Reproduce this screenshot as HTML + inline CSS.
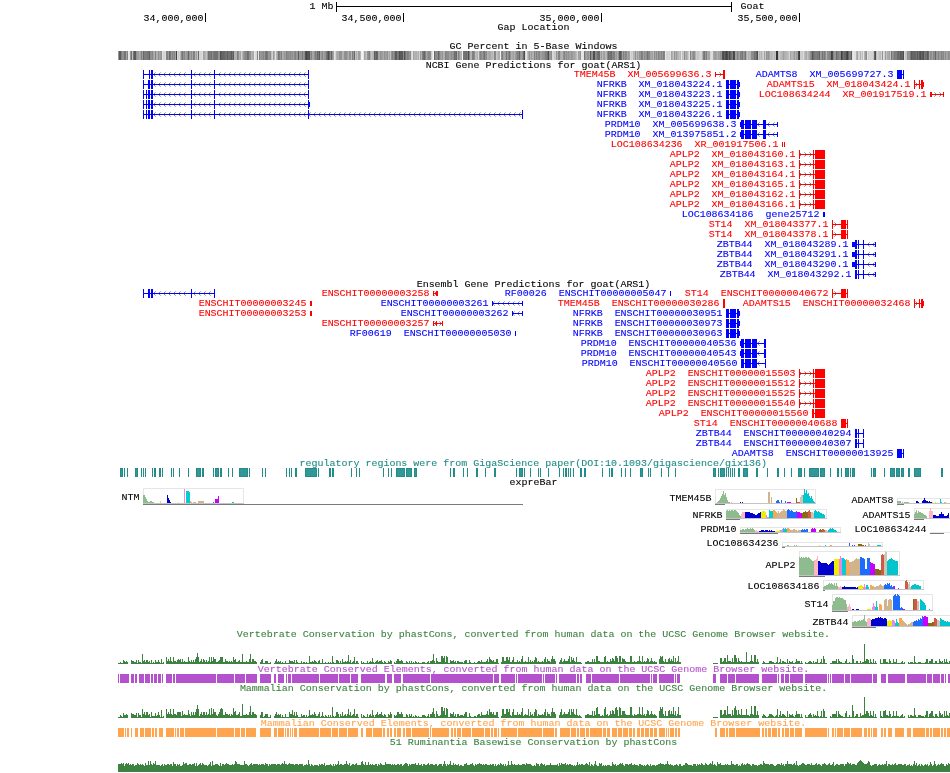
<!DOCTYPE html>
<html><head><meta charset="utf-8"><title>Goat genome browser</title>
<style>
html,body{margin:0;padding:0;background:#fff;}
svg{display:block}
text{font-family:"Liberation Mono",monospace;font-size:9.1px;stroke-width:0.1px;white-space:pre;}
rect{shape-rendering:crispEdges}
</style></head><body>
<svg width="950" height="773" viewBox="0 0 950 773">
<rect x="0" y="0" width="950" height="773" fill="#ffffff"/>
<g opacity="0.999">
<text transform="translate(309.5 9.0) scale(1.0989 1)" fill="#000000" stroke="#000000" xml:space="preserve">1 Mb</text>
<rect x="336" y="6" width="396" height="1" fill="#000000"/>
<rect x="336" y="2" width="1" height="10" fill="#000000"/>
<rect x="731" y="2" width="1" height="10" fill="#000000"/>
<text transform="translate(740.5 9.0) scale(1.0989 1)" fill="#000000" stroke="#000000" xml:space="preserve">Goat</text>
<rect x="205" y="13" width="1" height="9" fill="#000000"/>
<text transform="translate(203.5 21.0) scale(1.0989 1)" fill="#000000" stroke="#000000" text-anchor="end" xml:space="preserve">34,000,000</text>
<rect x="403" y="13" width="1" height="9" fill="#000000"/>
<text transform="translate(401.5 21.0) scale(1.0989 1)" fill="#000000" stroke="#000000" text-anchor="end" xml:space="preserve">34,500,000</text>
<rect x="601" y="13" width="1" height="9" fill="#000000"/>
<text transform="translate(599.5 21.0) scale(1.0989 1)" fill="#000000" stroke="#000000" text-anchor="end" xml:space="preserve">35,000,000</text>
<rect x="799" y="13" width="1" height="9" fill="#000000"/>
<text transform="translate(797.5 21.0) scale(1.0989 1)" fill="#000000" stroke="#000000" text-anchor="end" xml:space="preserve">35,500,000</text>
<text transform="translate(533.5 30.0) scale(1.0989 1)" fill="#000000" stroke="#000000" text-anchor="middle" xml:space="preserve">Gap Location</text>
<text transform="translate(533.5 49.0) scale(1.0989 1)" fill="#000000" stroke="#000000" text-anchor="middle" xml:space="preserve">GC Percent in 5-Base Windows</text>
<text transform="translate(533.5 68.0) scale(1.0989 1)" fill="#000000" stroke="#000000" text-anchor="middle" xml:space="preserve">NCBI Gene Predictions for goat(ARS1)</text>
<text transform="translate(533.5 287.0) scale(1.0989 1)" fill="#000000" stroke="#000000" text-anchor="middle" xml:space="preserve">Ensembl Gene Predictions for goat(ARS1)</text>
<rect x="118" y="51" width="1" height="9" fill="#989898"/>
<rect x="119" y="51" width="2" height="9" fill="#5a5a5a"/>
<rect x="121" y="51" width="1" height="9" fill="#7e7e7e"/>
<rect x="122" y="51" width="1" height="9" fill="#939393"/>
<rect x="123" y="51" width="1" height="9" fill="#8d8d8d"/>
<rect x="124" y="51" width="2" height="9" fill="#737373"/>
<rect x="126" y="51" width="1" height="9" fill="#a5a5a5"/>
<rect x="127" y="51" width="1" height="9" fill="#818181"/>
<rect x="128" y="51" width="2" height="9" fill="#e5e5e5"/>
<rect x="130" y="51" width="1" height="9" fill="#929292"/>
<rect x="131" y="51" width="1" height="9" fill="#747474"/>
<rect x="132" y="51" width="1" height="9" fill="#c1c1c1"/>
<rect x="133" y="51" width="1" height="9" fill="#727272"/>
<rect x="134" y="51" width="2" height="9" fill="#5a5a5a"/>
<rect x="136" y="51" width="1" height="9" fill="#929292"/>
<rect x="137" y="51" width="2" height="9" fill="#9e9e9e"/>
<rect x="139" y="51" width="1" height="9" fill="#b0b0b0"/>
<rect x="140" y="51" width="1" height="9" fill="#9f9f9f"/>
<rect x="141" y="51" width="1" height="9" fill="#818181"/>
<rect x="142" y="51" width="1" height="9" fill="#9f9f9f"/>
<rect x="143" y="51" width="1" height="9" fill="#666666"/>
<rect x="144" y="51" width="3" height="9" fill="#7e7e7e"/>
<rect x="147" y="51" width="1" height="9" fill="#787878"/>
<rect x="148" y="51" width="1" height="9" fill="#727272"/>
<rect x="149" y="51" width="1" height="9" fill="#666666"/>
<rect x="150" y="51" width="1" height="9" fill="#8c8c8c"/>
<rect x="151" y="51" width="1" height="9" fill="#929292"/>
<rect x="152" y="51" width="1" height="9" fill="#868686"/>
<rect x="153" y="51" width="1" height="9" fill="#a4a4a4"/>
<rect x="154" y="51" width="1" height="9" fill="#b1b1b1"/>
<rect x="155" y="51" width="1" height="9" fill="#818181"/>
<rect x="156" y="51" width="2" height="9" fill="#b1b1b1"/>
<rect x="158" y="51" width="1" height="9" fill="#8d8d8d"/>
<rect x="159" y="51" width="1" height="9" fill="#a5a5a5"/>
<rect x="160" y="51" width="1" height="9" fill="#999999"/>
<rect x="161" y="51" width="1" height="9" fill="#939393"/>
<rect x="162" y="51" width="1" height="9" fill="#dddddd"/>
<rect x="163" y="51" width="2" height="9" fill="#d5d5d5"/>
<rect x="165" y="51" width="1" height="9" fill="#dddddd"/>
<rect x="166" y="51" width="2" height="9" fill="#818181"/>
<rect x="168" y="51" width="1" height="9" fill="#999999"/>
<rect x="169" y="51" width="1" height="9" fill="#676767"/>
<rect x="170" y="51" width="1" height="9" fill="#797979"/>
<rect x="171" y="51" width="1" height="9" fill="#979797"/>
<rect x="172" y="51" width="1" height="9" fill="#868686"/>
<rect x="173" y="51" width="1" height="9" fill="#929292"/>
<rect x="174" y="51" width="1" height="9" fill="#868686"/>
<rect x="175" y="51" width="1" height="9" fill="#a4a4a4"/>
<rect x="176" y="51" width="1" height="9" fill="#414141"/>
<rect x="177" y="51" width="1" height="9" fill="#d8d8d8"/>
<rect x="178" y="51" width="1" height="9" fill="#cccccc"/>
<rect x="179" y="51" width="1" height="9" fill="#d2d2d2"/>
<rect x="180" y="51" width="1" height="9" fill="#b4b4b4"/>
<rect x="181" y="51" width="1" height="9" fill="#8c8c8c"/>
<rect x="182" y="51" width="1" height="9" fill="#747474"/>
<rect x="183" y="51" width="1" height="9" fill="#929292"/>
<rect x="184" y="51" width="1" height="9" fill="#868686"/>
<rect x="185" y="51" width="1" height="9" fill="#a4a4a4"/>
<rect x="186" y="51" width="1" height="9" fill="#989898"/>
<rect x="187" y="51" width="1" height="9" fill="#929292"/>
<rect x="188" y="51" width="1" height="9" fill="#646464"/>
<rect x="189" y="51" width="1" height="9" fill="#939393"/>
<rect x="190" y="51" width="1" height="9" fill="#9f9f9f"/>
<rect x="191" y="51" width="1" height="9" fill="#8d8d8d"/>
<rect x="192" y="51" width="1" height="9" fill="#a5a5a5"/>
<rect x="193" y="51" width="2" height="9" fill="#818181"/>
<rect x="195" y="51" width="1" height="9" fill="#b6b6b6"/>
<rect x="196" y="51" width="1" height="9" fill="#9e9e9e"/>
<rect x="197" y="51" width="1" height="9" fill="#c2c2c2"/>
<rect x="198" y="51" width="1" height="9" fill="#6c6c6c"/>
<rect x="199" y="51" width="3" height="9" fill="#d5d5d5"/>
<rect x="202" y="51" width="1" height="9" fill="#dddddd"/>
<rect x="203" y="51" width="1" height="9" fill="#a4a4a4"/>
<rect x="204" y="51" width="1" height="9" fill="#aaaaaa"/>
<rect x="205" y="51" width="1" height="9" fill="#b6b6b6"/>
<rect x="206" y="51" width="1" height="9" fill="#c2c2c2"/>
<rect x="207" y="51" width="1" height="9" fill="#a4a4a4"/>
<rect x="208" y="51" width="1" height="9" fill="#737373"/>
<rect x="209" y="51" width="2" height="9" fill="#797979"/>
<rect x="211" y="51" width="1" height="9" fill="#737373"/>
<rect x="212" y="51" width="1" height="9" fill="#8b8b8b"/>
<rect x="213" y="51" width="1" height="9" fill="#797979"/>
<rect x="214" y="51" width="3" height="9" fill="#727272"/>
<rect x="217" y="51" width="1" height="9" fill="#747474"/>
<rect x="218" y="51" width="1" height="9" fill="#929292"/>
<rect x="219" y="51" width="1" height="9" fill="#989898"/>
<rect x="220" y="51" width="1" height="9" fill="#4d4d4d"/>
<rect x="221" y="51" width="1" height="9" fill="#5f5f5f"/>
<rect x="222" y="51" width="1" height="9" fill="#656565"/>
<rect x="223" y="51" width="2" height="9" fill="#666666"/>
<rect x="225" y="51" width="2" height="9" fill="#727272"/>
<rect x="227" y="51" width="1" height="9" fill="#606060"/>
<rect x="228" y="51" width="2" height="9" fill="#727272"/>
<rect x="230" y="51" width="1" height="9" fill="#6c6c6c"/>
<rect x="231" y="51" width="1" height="9" fill="#5a5a5a"/>
<rect x="232" y="51" width="1" height="9" fill="#727272"/>
<rect x="233" y="51" width="1" height="9" fill="#606060"/>
<rect x="234" y="51" width="3" height="9" fill="#b1b1b1"/>
<rect x="237" y="51" width="1" height="9" fill="#818181"/>
<rect x="238" y="51" width="1" height="9" fill="#8d8d8d"/>
<rect x="239" y="51" width="1" height="9" fill="#b1b1b1"/>
<rect x="240" y="51" width="1" height="9" fill="#a3a3a3"/>
<rect x="241" y="51" width="1" height="9" fill="#d3d3d3"/>
<rect x="242" y="51" width="1" height="9" fill="#b5b5b5"/>
<rect x="243" y="51" width="1" height="9" fill="#999999"/>
<rect x="244" y="51" width="1" height="9" fill="#939393"/>
<rect x="245" y="51" width="1" height="9" fill="#818181"/>
<rect x="246" y="51" width="1" height="9" fill="#8d8d8d"/>
<rect x="247" y="51" width="1" height="9" fill="#6c6c6c"/>
<rect x="248" y="51" width="1" height="9" fill="#727272"/>
<rect x="249" y="51" width="1" height="9" fill="#939393"/>
<rect x="250" y="51" width="1" height="9" fill="#8d8d8d"/>
<rect x="251" y="51" width="1" height="9" fill="#b6b6b6"/>
<rect x="252" y="51" width="2" height="9" fill="#aaaaaa"/>
<rect x="254" y="51" width="1" height="9" fill="#e5e5e5"/>
<rect x="255" y="51" width="1" height="9" fill="#dddddd"/>
<rect x="256" y="51" width="1" height="9" fill="#d5d5d5"/>
<rect x="257" y="51" width="1" height="9" fill="#868686"/>
<rect x="258" y="51" width="1" height="9" fill="#e6e6e6"/>
<rect x="259" y="51" width="1" height="9" fill="#808080"/>
<rect x="260" y="51" width="1" height="9" fill="#989898"/>
<rect x="261" y="51" width="2" height="9" fill="#929292"/>
<rect x="263" y="51" width="1" height="9" fill="#868686"/>
<rect x="264" y="51" width="1" height="9" fill="#989898"/>
<rect x="265" y="51" width="1" height="9" fill="#787878"/>
<rect x="266" y="51" width="1" height="9" fill="#727272"/>
<rect x="267" y="51" width="1" height="9" fill="#787878"/>
<rect x="268" y="51" width="1" height="9" fill="#999999"/>
<rect x="269" y="51" width="1" height="9" fill="#939393"/>
<rect x="270" y="51" width="1" height="9" fill="#8d8d8d"/>
<rect x="271" y="51" width="1" height="9" fill="#c0c0c0"/>
<rect x="272" y="51" width="1" height="9" fill="#d2d2d2"/>
<rect x="273" y="51" width="1" height="9" fill="#999999"/>
<rect x="274" y="51" width="1" height="9" fill="#b4b4b4"/>
<rect x="275" y="51" width="1" height="9" fill="#e4e4e4"/>
<rect x="276" y="51" width="1" height="9" fill="#b4b4b4"/>
<rect x="277" y="51" width="1" height="9" fill="#a4a4a4"/>
<rect x="278" y="51" width="1" height="9" fill="#747474"/>
<rect x="279" y="51" width="1" height="9" fill="#808080"/>
<rect x="280" y="51" width="1" height="9" fill="#989898"/>
<rect x="281" y="51" width="1" height="9" fill="#808080"/>
<rect x="282" y="51" width="1" height="9" fill="#b1b1b1"/>
<rect x="283" y="51" width="1" height="9" fill="#a5a5a5"/>
<rect x="284" y="51" width="1" height="9" fill="#999999"/>
<rect x="285" y="51" width="1" height="9" fill="#9f9f9f"/>
<rect x="286" y="51" width="1" height="9" fill="#818181"/>
<rect x="287" y="51" width="2" height="9" fill="#8c8c8c"/>
<rect x="289" y="51" width="1" height="9" fill="#929292"/>
<rect x="290" y="51" width="1" height="9" fill="#8c8c8c"/>
<rect x="291" y="51" width="1" height="9" fill="#929292"/>
<rect x="292" y="51" width="1" height="9" fill="#939393"/>
<rect x="293" y="51" width="1" height="9" fill="#9f9f9f"/>
<rect x="294" y="51" width="1" height="9" fill="#8a8a8a"/>
<rect x="295" y="51" width="1" height="9" fill="#818181"/>
<rect x="296" y="51" width="2" height="9" fill="#989898"/>
<rect x="298" y="51" width="1" height="9" fill="#5a5a5a"/>
<rect x="299" y="51" width="1" height="9" fill="#989898"/>
<rect x="300" y="51" width="1" height="9" fill="#929292"/>
<rect x="301" y="51" width="1" height="9" fill="#979797"/>
<rect x="302" y="51" width="1" height="9" fill="#797979"/>
<rect x="303" y="51" width="1" height="9" fill="#979797"/>
<rect x="304" y="51" width="1" height="9" fill="#8b8b8b"/>
<rect x="305" y="51" width="1" height="9" fill="#535353"/>
<rect x="306" y="51" width="1" height="9" fill="#414141"/>
<rect x="307" y="51" width="1" height="9" fill="#535353"/>
<rect x="308" y="51" width="1" height="9" fill="#595959"/>
<rect x="309" y="51" width="1" height="9" fill="#4d4d4d"/>
<rect x="310" y="51" width="1" height="9" fill="#999999"/>
<rect x="311" y="51" width="1" height="9" fill="#818181"/>
<rect x="312" y="51" width="2" height="9" fill="#a5a5a5"/>
<rect x="314" y="51" width="1" height="9" fill="#939393"/>
<rect x="315" y="51" width="1" height="9" fill="#787878"/>
<rect x="316" y="51" width="1" height="9" fill="#8a8a8a"/>
<rect x="317" y="51" width="1" height="9" fill="#666666"/>
<rect x="318" y="51" width="1" height="9" fill="#787878"/>
<rect x="319" y="51" width="1" height="9" fill="#5a5a5a"/>
<rect x="320" y="51" width="1" height="9" fill="#a4a4a4"/>
<rect x="321" y="51" width="1" height="9" fill="#989898"/>
<rect x="322" y="51" width="1" height="9" fill="#868686"/>
<rect x="323" y="51" width="1" height="9" fill="#a4a4a4"/>
<rect x="324" y="51" width="1" height="9" fill="#989898"/>
<rect x="325" y="51" width="1" height="9" fill="#929292"/>
<rect x="326" y="51" width="1" height="9" fill="#787878"/>
<rect x="327" y="51" width="1" height="9" fill="#666666"/>
<rect x="328" y="51" width="1" height="9" fill="#4d4d4d"/>
<rect x="329" y="51" width="1" height="9" fill="#6c6c6c"/>
<rect x="330" y="51" width="1" height="9" fill="#8a8a8a"/>
<rect x="331" y="51" width="1" height="9" fill="#666666"/>
<rect x="332" y="51" width="1" height="9" fill="#929292"/>
<rect x="333" y="51" width="1" height="9" fill="#a4a4a4"/>
<rect x="334" y="51" width="1" height="9" fill="#e5e5e5"/>
<rect x="335" y="51" width="1" height="9" fill="#d5d5d5"/>
<rect x="336" y="51" width="1" height="9" fill="#b0b0b0"/>
<rect x="337" y="51" width="1" height="9" fill="#a4a4a4"/>
<rect x="338" y="51" width="1" height="9" fill="#aaaaaa"/>
<rect x="339" y="51" width="2" height="9" fill="#929292"/>
<rect x="341" y="51" width="1" height="9" fill="#939393"/>
<rect x="342" y="51" width="2" height="9" fill="#b1b1b1"/>
<rect x="344" y="51" width="1" height="9" fill="#939393"/>
<rect x="345" y="51" width="1" height="9" fill="#8d8d8d"/>
<rect x="346" y="51" width="1" height="9" fill="#929292"/>
<rect x="347" y="51" width="1" height="9" fill="#9e9e9e"/>
<rect x="348" y="51" width="1" height="9" fill="#b0b0b0"/>
<rect x="349" y="51" width="2" height="9" fill="#929292"/>
<rect x="351" y="51" width="1" height="9" fill="#b6b6b6"/>
<rect x="352" y="51" width="1" height="9" fill="#7f7f7f"/>
<rect x="353" y="51" width="1" height="9" fill="#979797"/>
<rect x="354" y="51" width="1" height="9" fill="#676767"/>
<rect x="355" y="51" width="1" height="9" fill="#c2c2c2"/>
<rect x="356" y="51" width="1" height="9" fill="#b0b0b0"/>
<rect x="357" y="51" width="1" height="9" fill="#c2c2c2"/>
<rect x="358" y="51" width="2" height="9" fill="#9e9e9e"/>
<rect x="360" y="51" width="1" height="9" fill="#b6b6b6"/>
<rect x="361" y="51" width="1" height="9" fill="#eeeeee"/>
<rect x="362" y="51" width="1" height="9" fill="#f4f4f4"/>
<rect x="363" y="51" width="1" height="9" fill="#e6e6e6"/>
<rect x="364" y="51" width="1" height="9" fill="#a4a4a4"/>
<rect x="365" y="51" width="1" height="9" fill="#b0b0b0"/>
<rect x="366" y="51" width="1" height="9" fill="#c2c2c2"/>
<rect x="367" y="51" width="1" height="9" fill="#929292"/>
<rect x="368" y="51" width="1" height="9" fill="#8c8c8c"/>
<rect x="369" y="51" width="1" height="9" fill="#808080"/>
<rect x="370" y="51" width="1" height="9" fill="#b0b0b0"/>
<rect x="371" y="51" width="1" height="9" fill="#c2c2c2"/>
<rect x="372" y="51" width="2" height="9" fill="#b6b6b6"/>
<rect x="374" y="51" width="1" height="9" fill="#5a5a5a"/>
<rect x="375" y="51" width="1" height="9" fill="#727272"/>
<rect x="376" y="51" width="1" height="9" fill="#606060"/>
<rect x="377" y="51" width="1" height="9" fill="#666666"/>
<rect x="378" y="51" width="2" height="9" fill="#a5a5a5"/>
<rect x="380" y="51" width="1" height="9" fill="#939393"/>
<rect x="381" y="51" width="1" height="9" fill="#999999"/>
<rect x="382" y="51" width="1" height="9" fill="#9f9f9f"/>
<rect x="383" y="51" width="1" height="9" fill="#aaaaaa"/>
<rect x="384" y="51" width="1" height="9" fill="#929292"/>
<rect x="385" y="51" width="2" height="9" fill="#9e9e9e"/>
<rect x="387" y="51" width="1" height="9" fill="#929292"/>
<rect x="388" y="51" width="1" height="9" fill="#b5b5b5"/>
<rect x="389" y="51" width="1" height="9" fill="#a3a3a3"/>
<rect x="390" y="51" width="1" height="9" fill="#c1c1c1"/>
<rect x="391" y="51" width="1" height="9" fill="#929292"/>
<rect x="392" y="51" width="1" height="9" fill="#808080"/>
<rect x="393" y="51" width="1" height="9" fill="#929292"/>
<rect x="394" y="51" width="1" height="9" fill="#808080"/>
<rect x="395" y="51" width="2" height="9" fill="#5a5a5a"/>
<rect x="397" y="51" width="1" height="9" fill="#7e7e7e"/>
<rect x="398" y="51" width="1" height="9" fill="#727272"/>
<rect x="399" y="51" width="1" height="9" fill="#4e4e4e"/>
<rect x="400" y="51" width="3" height="9" fill="#5a5a5a"/>
<rect x="403" y="51" width="1" height="9" fill="#8a8a8a"/>
<rect x="404" y="51" width="1" height="9" fill="#535353"/>
<rect x="405" y="51" width="1" height="9" fill="#747474"/>
<rect x="406" y="51" width="1" height="9" fill="#929292"/>
<rect x="407" y="51" width="1" height="9" fill="#808080"/>
<rect x="408" y="51" width="1" height="9" fill="#868686"/>
<rect x="409" y="51" width="1" height="9" fill="#989898"/>
<rect x="410" y="51" width="1" height="9" fill="#8c8c8c"/>
<rect x="411" y="51" width="1" height="9" fill="#d5d5d5"/>
<rect x="412" y="51" width="1" height="9" fill="#e5e5e5"/>
<rect x="413" y="51" width="1" height="9" fill="#9e9e9e"/>
<rect x="414" y="51" width="1" height="9" fill="#b6b6b6"/>
<rect x="415" y="51" width="2" height="9" fill="#b0b0b0"/>
<rect x="417" y="51" width="1" height="9" fill="#bbbbbb"/>
<rect x="418" y="51" width="1" height="9" fill="#afafaf"/>
<rect x="419" y="51" width="1" height="9" fill="#d3d3d3"/>
<rect x="420" y="51" width="1" height="9" fill="#999999"/>
<rect x="421" y="51" width="1" height="9" fill="#b1b1b1"/>
<rect x="422" y="51" width="1" height="9" fill="#7f7f7f"/>
<rect x="423" y="51" width="1" height="9" fill="#737373"/>
<rect x="424" y="51" width="1" height="9" fill="#676767"/>
<rect x="425" y="51" width="1" height="9" fill="#818181"/>
<rect x="426" y="51" width="1" height="9" fill="#a5a5a5"/>
<rect x="427" y="51" width="1" height="9" fill="#999999"/>
<rect x="428" y="51" width="1" height="9" fill="#868686"/>
<rect x="429" y="51" width="2" height="9" fill="#8c8c8c"/>
<rect x="431" y="51" width="1" height="9" fill="#cccccc"/>
<rect x="432" y="51" width="1" height="9" fill="#e4e4e4"/>
<rect x="433" y="51" width="1" height="9" fill="#f4f4f4"/>
<rect x="434" y="51" width="1" height="9" fill="#676767"/>
<rect x="435" y="51" width="3" height="9" fill="#8b8b8b"/>
<rect x="438" y="51" width="1" height="9" fill="#676767"/>
<rect x="439" y="51" width="1" height="9" fill="#818181"/>
<rect x="440" y="51" width="1" height="9" fill="#999999"/>
<rect x="441" y="51" width="1" height="9" fill="#a5a5a5"/>
<rect x="442" y="51" width="1" height="9" fill="#939393"/>
<rect x="443" y="51" width="2" height="9" fill="#b1b1b1"/>
<rect x="445" y="51" width="1" height="9" fill="#818181"/>
<rect x="446" y="51" width="3" height="9" fill="#8d8d8d"/>
<rect x="449" y="51" width="1" height="9" fill="#9f9f9f"/>
<rect x="450" y="51" width="1" height="9" fill="#999999"/>
<rect x="451" y="51" width="1" height="9" fill="#8d8d8d"/>
<rect x="452" y="51" width="1" height="9" fill="#999999"/>
<rect x="453" y="51" width="1" height="9" fill="#8d8d8d"/>
<rect x="454" y="51" width="1" height="9" fill="#6c6c6c"/>
<rect x="455" y="51" width="1" height="9" fill="#727272"/>
<rect x="456" y="51" width="1" height="9" fill="#666666"/>
<rect x="457" y="51" width="1" height="9" fill="#b1b1b1"/>
<rect x="458" y="51" width="1" height="9" fill="#818181"/>
<rect x="459" y="51" width="1" height="9" fill="#999999"/>
<rect x="460" y="51" width="2" height="9" fill="#b1b1b1"/>
<rect x="462" y="51" width="1" height="9" fill="#f4f4f4"/>
<rect x="463" y="51" width="2" height="9" fill="#747474"/>
<rect x="465" y="51" width="1" height="9" fill="#727272"/>
<rect x="466" y="51" width="1" height="9" fill="#6c6c6c"/>
<rect x="467" y="51" width="1" height="9" fill="#7e7e7e"/>
<rect x="468" y="51" width="1" height="9" fill="#4e4e4e"/>
<rect x="469" y="51" width="1" height="9" fill="#818181"/>
<rect x="470" y="51" width="2" height="9" fill="#b1b1b1"/>
<rect x="472" y="51" width="2" height="9" fill="#808080"/>
<rect x="474" y="51" width="1" height="9" fill="#8c8c8c"/>
<rect x="475" y="51" width="2" height="9" fill="#bbbbbb"/>
<rect x="477" y="51" width="1" height="9" fill="#afafaf"/>
<rect x="478" y="51" width="1" height="9" fill="#d3d3d3"/>
<rect x="479" y="51" width="1" height="9" fill="#999999"/>
<rect x="480" y="51" width="1" height="9" fill="#818181"/>
<rect x="481" y="51" width="1" height="9" fill="#8d8d8d"/>
<rect x="482" y="51" width="1" height="9" fill="#999999"/>
<rect x="483" y="51" width="1" height="9" fill="#818181"/>
<rect x="484" y="51" width="1" height="9" fill="#727272"/>
<rect x="485" y="51" width="1" height="9" fill="#939393"/>
<rect x="486" y="51" width="1" height="9" fill="#8a8a8a"/>
<rect x="487" y="51" width="1" height="9" fill="#b1b1b1"/>
<rect x="488" y="51" width="1" height="9" fill="#aaaaaa"/>
<rect x="489" y="51" width="1" height="9" fill="#a4a4a4"/>
<rect x="490" y="51" width="1" height="9" fill="#aaaaaa"/>
<rect x="491" y="51" width="2" height="9" fill="#b6b6b6"/>
<rect x="493" y="51" width="1" height="9" fill="#c2c2c2"/>
<rect x="494" y="51" width="1" height="9" fill="#858585"/>
<rect x="495" y="51" width="1" height="9" fill="#8b8b8b"/>
<rect x="496" y="51" width="1" height="9" fill="#c7c7c7"/>
<rect x="497" y="51" width="1" height="9" fill="#bbbbbb"/>
<rect x="498" y="51" width="2" height="9" fill="#afafaf"/>
<rect x="500" y="51" width="1" height="9" fill="#eeeeee"/>
<rect x="501" y="51" width="1" height="9" fill="#8d8d8d"/>
<rect x="502" y="51" width="1" height="9" fill="#818181"/>
<rect x="503" y="51" width="1" height="9" fill="#9f9f9f"/>
<rect x="504" y="51" width="1" height="9" fill="#a5a5a5"/>
<rect x="505" y="51" width="1" height="9" fill="#9f9f9f"/>
<rect x="506" y="51" width="1" height="9" fill="#747474"/>
<rect x="507" y="51" width="1" height="9" fill="#989898"/>
<rect x="508" y="51" width="1" height="9" fill="#868686"/>
<rect x="509" y="51" width="1" height="9" fill="#747474"/>
<rect x="510" y="51" width="1" height="9" fill="#929292"/>
<rect x="511" y="51" width="1" height="9" fill="#b0b0b0"/>
<rect x="512" y="51" width="1" height="9" fill="#aaaaaa"/>
<rect x="513" y="51" width="1" height="9" fill="#9f9f9f"/>
<rect x="514" y="51" width="1" height="9" fill="#b1b1b1"/>
<rect x="515" y="51" width="1" height="9" fill="#9f9f9f"/>
<rect x="516" y="51" width="1" height="9" fill="#8d8d8d"/>
<rect x="517" y="51" width="1" height="9" fill="#818181"/>
<rect x="518" y="51" width="1" height="9" fill="#858585"/>
<rect x="519" y="51" width="1" height="9" fill="#676767"/>
<rect x="520" y="51" width="1" height="9" fill="#979797"/>
<rect x="521" y="51" width="1" height="9" fill="#9e9e9e"/>
<rect x="522" y="51" width="1" height="9" fill="#929292"/>
<rect x="523" y="51" width="1" height="9" fill="#6c6c6c"/>
<rect x="524" y="51" width="1" height="9" fill="#4e4e4e"/>
<rect x="525" y="51" width="1" height="9" fill="#d8d8d8"/>
<rect x="526" y="51" width="1" height="9" fill="#e4e4e4"/>
<rect x="527" y="51" width="1" height="9" fill="#c0c0c0"/>
<rect x="528" y="51" width="1" height="9" fill="#aaaaaa"/>
<rect x="529" y="51" width="1" height="9" fill="#929292"/>
<rect x="530" y="51" width="1" height="9" fill="#b0b0b0"/>
<rect x="531" y="51" width="1" height="9" fill="#9e9e9e"/>
<rect x="532" y="51" width="2" height="9" fill="#b0b0b0"/>
<rect x="534" y="51" width="1" height="9" fill="#818181"/>
<rect x="535" y="51" width="1" height="9" fill="#9f9f9f"/>
<rect x="536" y="51" width="1" height="9" fill="#818181"/>
<rect x="537" y="51" width="1" height="9" fill="#999999"/>
<rect x="538" y="51" width="1" height="9" fill="#8b8b8b"/>
<rect x="539" y="51" width="1" height="9" fill="#858585"/>
<rect x="540" y="51" width="2" height="9" fill="#9f9f9f"/>
<rect x="542" y="51" width="2" height="9" fill="#939393"/>
<rect x="544" y="51" width="1" height="9" fill="#8d8d8d"/>
<rect x="545" y="51" width="2" height="9" fill="#7e7e7e"/>
<rect x="547" y="51" width="1" height="9" fill="#6c6c6c"/>
<rect x="548" y="51" width="1" height="9" fill="#4d4d4d"/>
<rect x="549" y="51" width="1" height="9" fill="#939393"/>
<rect x="550" y="51" width="1" height="9" fill="#999999"/>
<rect x="551" y="51" width="1" height="9" fill="#8d8d8d"/>
<rect x="552" y="51" width="2" height="9" fill="#d8d8d8"/>
<rect x="554" y="51" width="1" height="9" fill="#c6c6c6"/>
<rect x="555" y="51" width="1" height="9" fill="#cccccc"/>
<rect x="556" y="51" width="1" height="9" fill="#939393"/>
<rect x="557" y="51" width="1" height="9" fill="#b1b1b1"/>
<rect x="558" y="51" width="2" height="9" fill="#818181"/>
<rect x="560" y="51" width="1" height="9" fill="#aaaaaa"/>
<rect x="561" y="51" width="2" height="9" fill="#b0b0b0"/>
<rect x="563" y="51" width="1" height="9" fill="#929292"/>
<rect x="564" y="51" width="1" height="9" fill="#818181"/>
<rect x="565" y="51" width="1" height="9" fill="#9f9f9f"/>
<rect x="566" y="51" width="1" height="9" fill="#8d8d8d"/>
<rect x="567" y="51" width="1" height="9" fill="#9f9f9f"/>
<rect x="568" y="51" width="1" height="9" fill="#939393"/>
<rect x="569" y="51" width="1" height="9" fill="#9e9e9e"/>
<rect x="570" y="51" width="1" height="9" fill="#a4a4a4"/>
<rect x="571" y="51" width="1" height="9" fill="#929292"/>
<rect x="572" y="51" width="1" height="9" fill="#9e9e9e"/>
<rect x="573" y="51" width="2" height="9" fill="#a4a4a4"/>
<rect x="575" y="51" width="1" height="9" fill="#afafaf"/>
<rect x="576" y="51" width="1" height="9" fill="#bbbbbb"/>
<rect x="577" y="51" width="1" height="9" fill="#d3d3d3"/>
<rect x="578" y="51" width="1" height="9" fill="#9f9f9f"/>
<rect x="579" y="51" width="1" height="9" fill="#a5a5a5"/>
<rect x="580" y="51" width="1" height="9" fill="#939393"/>
<rect x="581" y="51" width="3" height="9" fill="#e5e5e5"/>
<rect x="584" y="51" width="1" height="9" fill="#747474"/>
<rect x="585" y="51" width="1" height="9" fill="#989898"/>
<rect x="586" y="51" width="1" height="9" fill="#a4a4a4"/>
<rect x="587" y="51" width="1" height="9" fill="#929292"/>
<rect x="588" y="51" width="1" height="9" fill="#939393"/>
<rect x="589" y="51" width="1" height="9" fill="#a5a5a5"/>
<rect x="590" y="51" width="1" height="9" fill="#5a5a5a"/>
<rect x="591" y="51" width="1" height="9" fill="#8d8d8d"/>
<rect x="592" y="51" width="1" height="9" fill="#939393"/>
<rect x="593" y="51" width="2" height="9" fill="#4e4e4e"/>
<rect x="595" y="51" width="1" height="9" fill="#8b8b8b"/>
<rect x="596" y="51" width="1" height="9" fill="#858585"/>
<rect x="597" y="51" width="1" height="9" fill="#737373"/>
<rect x="598" y="51" width="2" height="9" fill="#6c6c6c"/>
<rect x="600" y="51" width="1" height="9" fill="#b0b0b0"/>
<rect x="601" y="51" width="1" height="9" fill="#9e9e9e"/>
<rect x="602" y="51" width="1" height="9" fill="#b6b6b6"/>
<rect x="603" y="51" width="1" height="9" fill="#a4a4a4"/>
<rect x="604" y="51" width="1" height="9" fill="#9e9e9e"/>
<rect x="605" y="51" width="2" height="9" fill="#b6b6b6"/>
<rect x="607" y="51" width="1" height="9" fill="#8a8a8a"/>
<rect x="608" y="51" width="1" height="9" fill="#6c6c6c"/>
<rect x="609" y="51" width="1" height="9" fill="#787878"/>
<rect x="610" y="51" width="1" height="9" fill="#727272"/>
<rect x="611" y="51" width="1" height="9" fill="#6c6c6c"/>
<rect x="612" y="51" width="1" height="9" fill="#8a8a8a"/>
<rect x="613" y="51" width="2" height="9" fill="#818181"/>
<rect x="615" y="51" width="1" height="9" fill="#a5a5a5"/>
<rect x="616" y="51" width="1" height="9" fill="#999999"/>
<rect x="617" y="51" width="1" height="9" fill="#b1b1b1"/>
<rect x="618" y="51" width="1" height="9" fill="#939393"/>
<rect x="619" y="51" width="2" height="9" fill="#5a5a5a"/>
<rect x="621" y="51" width="1" height="9" fill="#6c6c6c"/>
<rect x="622" y="51" width="1" height="9" fill="#a4a4a4"/>
<rect x="623" y="51" width="1" height="9" fill="#808080"/>
<rect x="624" y="51" width="1" height="9" fill="#989898"/>
<rect x="625" y="51" width="1" height="9" fill="#868686"/>
<rect x="626" y="51" width="1" height="9" fill="#8d8d8d"/>
<rect x="627" y="51" width="1" height="9" fill="#a5a5a5"/>
<rect x="628" y="51" width="1" height="9" fill="#999999"/>
<rect x="629" y="51" width="1" height="9" fill="#9f9f9f"/>
<rect x="630" y="51" width="1" height="9" fill="#d8d8d8"/>
<rect x="631" y="51" width="1" height="9" fill="#cccccc"/>
<rect x="632" y="51" width="1" height="9" fill="#d2d2d2"/>
<rect x="633" y="51" width="2" height="9" fill="#b4b4b4"/>
<rect x="635" y="51" width="1" height="9" fill="#929292"/>
<rect x="636" y="51" width="1" height="9" fill="#b6b6b6"/>
<rect x="637" y="51" width="1" height="9" fill="#9e9e9e"/>
<rect x="638" y="51" width="1" height="9" fill="#b0b0b0"/>
<rect x="639" y="51" width="1" height="9" fill="#929292"/>
<rect x="640" y="51" width="1" height="9" fill="#979797"/>
<rect x="641" y="51" width="1" height="9" fill="#797979"/>
<rect x="642" y="51" width="1" height="9" fill="#858585"/>
<rect x="643" y="51" width="1" height="9" fill="#9f9f9f"/>
<rect x="644" y="51" width="1" height="9" fill="#8d8d8d"/>
<rect x="645" y="51" width="1" height="9" fill="#999999"/>
<rect x="646" y="51" width="1" height="9" fill="#8d8d8d"/>
<rect x="647" y="51" width="1" height="9" fill="#747474"/>
<rect x="648" y="51" width="2" height="9" fill="#868686"/>
<rect x="650" y="51" width="2" height="9" fill="#a4a4a4"/>
<rect x="652" y="51" width="1" height="9" fill="#a3a3a3"/>
<rect x="653" y="51" width="1" height="9" fill="#b5b5b5"/>
<rect x="654" y="51" width="1" height="9" fill="#8d8d8d"/>
<rect x="655" y="51" width="1" height="9" fill="#a5a5a5"/>
<rect x="656" y="51" width="1" height="9" fill="#8d8d8d"/>
<rect x="657" y="51" width="1" height="9" fill="#a5a5a5"/>
<rect x="658" y="51" width="1" height="9" fill="#818181"/>
<rect x="659" y="51" width="1" height="9" fill="#939393"/>
<rect x="660" y="51" width="1" height="9" fill="#979797"/>
<rect x="661" y="51" width="1" height="9" fill="#858585"/>
<rect x="662" y="51" width="1" height="9" fill="#979797"/>
<rect x="663" y="51" width="1" height="9" fill="#7f7f7f"/>
<rect x="664" y="51" width="1" height="9" fill="#858585"/>
<rect x="665" y="51" width="1" height="9" fill="#e5e5e5"/>
<rect x="666" y="51" width="4" height="9" fill="#d5d5d5"/>
<rect x="670" y="51" width="1" height="9" fill="#dddddd"/>
<rect x="671" y="51" width="1" height="9" fill="#a3a3a3"/>
<rect x="672" y="51" width="1" height="9" fill="#afafaf"/>
<rect x="673" y="51" width="1" height="9" fill="#c7c7c7"/>
<rect x="674" y="51" width="1" height="9" fill="#939393"/>
<rect x="675" y="51" width="1" height="9" fill="#b1b1b1"/>
<rect x="676" y="51" width="1" height="9" fill="#999999"/>
<rect x="677" y="51" width="1" height="9" fill="#b1b1b1"/>
<rect x="678" y="51" width="1" height="9" fill="#b6b6b6"/>
<rect x="679" y="51" width="1" height="9" fill="#c2c2c2"/>
<rect x="680" y="51" width="1" height="9" fill="#b6b6b6"/>
<rect x="681" y="51" width="1" height="9" fill="#e4e4e4"/>
<rect x="682" y="51" width="1" height="9" fill="#c0c0c0"/>
<rect x="683" y="51" width="1" height="9" fill="#c6c6c6"/>
<rect x="684" y="51" width="1" height="9" fill="#8d8d8d"/>
<rect x="685" y="51" width="1" height="9" fill="#b1b1b1"/>
<rect x="686" y="51" width="1" height="9" fill="#a5a5a5"/>
<rect x="687" y="51" width="1" height="9" fill="#b4b4b4"/>
<rect x="688" y="51" width="1" height="9" fill="#cccccc"/>
<rect x="689" y="51" width="1" height="9" fill="#e4e4e4"/>
<rect x="690" y="51" width="1" height="9" fill="#818181"/>
<rect x="691" y="51" width="1" height="9" fill="#b1b1b1"/>
<rect x="692" y="51" width="1" height="9" fill="#999999"/>
<rect x="693" y="51" width="2" height="9" fill="#8d8d8d"/>
<rect x="695" y="51" width="1" height="9" fill="#b1b1b1"/>
<rect x="696" y="51" width="1" height="9" fill="#cccccc"/>
<rect x="697" y="51" width="2" height="9" fill="#c6c6c6"/>
<rect x="699" y="51" width="3" height="9" fill="#d3d3d3"/>
<rect x="702" y="51" width="1" height="9" fill="#afafaf"/>
<rect x="703" y="51" width="1" height="9" fill="#808080"/>
<rect x="704" y="51" width="1" height="9" fill="#747474"/>
<rect x="705" y="51" width="1" height="9" fill="#989898"/>
<rect x="706" y="51" width="1" height="9" fill="#808080"/>
<rect x="707" y="51" width="1" height="9" fill="#aaaaaa"/>
<rect x="708" y="51" width="2" height="9" fill="#a4a4a4"/>
<rect x="710" y="51" width="1" height="9" fill="#d5d5d5"/>
<rect x="711" y="51" width="2" height="9" fill="#dddddd"/>
<rect x="713" y="51" width="1" height="9" fill="#a5a5a5"/>
<rect x="714" y="51" width="1" height="9" fill="#9f9f9f"/>
<rect x="715" y="51" width="1" height="9" fill="#999999"/>
<rect x="716" y="51" width="1" height="9" fill="#a5a5a5"/>
<rect x="717" y="51" width="1" height="9" fill="#b1b1b1"/>
<rect x="718" y="51" width="1" height="9" fill="#9f9f9f"/>
<rect x="719" y="51" width="1" height="9" fill="#a4a4a4"/>
<rect x="720" y="51" width="2" height="9" fill="#929292"/>
<rect x="722" y="51" width="1" height="9" fill="#535353"/>
<rect x="723" y="51" width="1" height="9" fill="#4d4d4d"/>
<rect x="724" y="51" width="1" height="9" fill="#5f5f5f"/>
<rect x="725" y="51" width="1" height="9" fill="#535353"/>
<rect x="726" y="51" width="1" height="9" fill="#414141"/>
<rect x="727" y="51" width="1" height="9" fill="#4e4e4e"/>
<rect x="728" y="51" width="1" height="9" fill="#6c6c6c"/>
<rect x="729" y="51" width="1" height="9" fill="#4c4c4c"/>
<rect x="730" y="51" width="1" height="9" fill="#606060"/>
<rect x="731" y="51" width="1" height="9" fill="#727272"/>
<rect x="732" y="51" width="1" height="9" fill="#7e7e7e"/>
<rect x="733" y="51" width="1" height="9" fill="#464646"/>
<rect x="734" y="51" width="1" height="9" fill="#4c4c4c"/>
<rect x="735" y="51" width="2" height="9" fill="#9f9f9f"/>
<rect x="737" y="51" width="1" height="9" fill="#818181"/>
<rect x="738" y="51" width="1" height="9" fill="#999999"/>
<rect x="739" y="51" width="1" height="9" fill="#9f9f9f"/>
<rect x="740" y="51" width="1" height="9" fill="#808080"/>
<rect x="741" y="51" width="1" height="9" fill="#868686"/>
<rect x="742" y="51" width="1" height="9" fill="#747474"/>
<rect x="743" y="51" width="1" height="9" fill="#989898"/>
<rect x="744" y="51" width="1" height="9" fill="#8c8c8c"/>
<rect x="745" y="51" width="1" height="9" fill="#747474"/>
<rect x="746" y="51" width="1" height="9" fill="#b0b0b0"/>
<rect x="747" y="51" width="1" height="9" fill="#c2c2c2"/>
<rect x="748" y="51" width="1" height="9" fill="#b0b0b0"/>
<rect x="749" y="51" width="2" height="9" fill="#b6b6b6"/>
<rect x="751" y="51" width="3" height="9" fill="#8b8b8b"/>
<rect x="754" y="51" width="1" height="9" fill="#737373"/>
<rect x="755" y="51" width="1" height="9" fill="#797979"/>
<rect x="756" y="51" width="1" height="9" fill="#666666"/>
<rect x="757" y="51" width="1" height="9" fill="#4e4e4e"/>
<rect x="758" y="51" width="1" height="9" fill="#c7c7c7"/>
<rect x="759" y="51" width="1" height="9" fill="#b5b5b5"/>
<rect x="760" y="51" width="1" height="9" fill="#c1c1c1"/>
<rect x="761" y="51" width="1" height="9" fill="#b5b5b5"/>
<rect x="762" y="51" width="1" height="9" fill="#c7c7c7"/>
<rect x="763" y="51" width="1" height="9" fill="#d3d3d3"/>
<rect x="764" y="51" width="1" height="9" fill="#a3a3a3"/>
<rect x="765" y="51" width="1" height="9" fill="#c7c7c7"/>
<rect x="766" y="51" width="1" height="9" fill="#939393"/>
<rect x="767" y="51" width="1" height="9" fill="#9f9f9f"/>
<rect x="768" y="51" width="1" height="9" fill="#939393"/>
<rect x="769" y="51" width="1" height="9" fill="#a5a5a5"/>
<rect x="770" y="51" width="1" height="9" fill="#bbbbbb"/>
<rect x="771" y="51" width="1" height="9" fill="#b5b5b5"/>
<rect x="772" y="51" width="1" height="9" fill="#bbbbbb"/>
<rect x="773" y="51" width="1" height="9" fill="#c7c7c7"/>
<rect x="774" y="51" width="1" height="9" fill="#b5b5b5"/>
<rect x="775" y="51" width="1" height="9" fill="#c1c1c1"/>
<rect x="776" y="51" width="2" height="9" fill="#333333"/>
<rect x="778" y="51" width="1" height="9" fill="#bbbbbb"/>
<rect x="779" y="51" width="1" height="9" fill="#c7c7c7"/>
<rect x="780" y="51" width="1" height="9" fill="#bbbbbb"/>
<rect x="781" y="51" width="2" height="9" fill="#b6b6b6"/>
<rect x="783" y="51" width="1" height="9" fill="#9e9e9e"/>
<rect x="784" y="51" width="2" height="9" fill="#b0b0b0"/>
<rect x="786" y="51" width="1" height="9" fill="#b5b5b5"/>
<rect x="787" y="51" width="1" height="9" fill="#bbbbbb"/>
<rect x="788" y="51" width="1" height="9" fill="#c1c1c1"/>
<rect x="789" y="51" width="1" height="9" fill="#d3d3d3"/>
<rect x="790" y="51" width="1" height="9" fill="#a3a3a3"/>
<rect x="791" y="51" width="2" height="9" fill="#b5b5b5"/>
<rect x="793" y="51" width="1" height="9" fill="#afafaf"/>
<rect x="794" y="51" width="1" height="9" fill="#999999"/>
<rect x="795" y="51" width="1" height="9" fill="#b1b1b1"/>
<rect x="796" y="51" width="2" height="9" fill="#9f9f9f"/>
<rect x="798" y="51" width="1" height="9" fill="#4b4b4b"/>
<rect x="799" y="51" width="1" height="9" fill="#393939"/>
<rect x="800" y="51" width="3" height="9" fill="#cccccc"/>
<rect x="803" y="51" width="1" height="9" fill="#d8d8d8"/>
<rect x="804" y="51" width="1" height="9" fill="#c0c0c0"/>
<rect x="805" y="51" width="1" height="9" fill="#b0b0b0"/>
<rect x="806" y="51" width="1" height="9" fill="#aaaaaa"/>
<rect x="807" y="51" width="1" height="9" fill="#c2c2c2"/>
<rect x="808" y="51" width="1" height="9" fill="#b1b1b1"/>
<rect x="809" y="51" width="1" height="9" fill="#a5a5a5"/>
<rect x="810" y="51" width="1" height="9" fill="#8d8d8d"/>
<rect x="811" y="51" width="1" height="9" fill="#7e7e7e"/>
<rect x="812" y="51" width="1" height="9" fill="#5a5a5a"/>
<rect x="813" y="51" width="1" height="9" fill="#6c6c6c"/>
<rect x="814" y="51" width="1" height="9" fill="#787878"/>
<rect x="815" y="51" width="2" height="9" fill="#7e7e7e"/>
<rect x="817" y="51" width="1" height="9" fill="#787878"/>
<rect x="818" y="51" width="1" height="9" fill="#797979"/>
<rect x="819" y="51" width="1" height="9" fill="#676767"/>
<rect x="820" y="51" width="2" height="9" fill="#979797"/>
<rect x="822" y="51" width="1" height="9" fill="#737373"/>
<rect x="823" y="51" width="1" height="9" fill="#8b8b8b"/>
<rect x="824" y="51" width="1" height="9" fill="#797979"/>
<rect x="825" y="51" width="1" height="9" fill="#8d8d8d"/>
<rect x="826" y="51" width="1" height="9" fill="#b1b1b1"/>
<rect x="827" y="51" width="2" height="9" fill="#8d8d8d"/>
<rect x="829" y="51" width="2" height="9" fill="#818181"/>
<rect x="831" y="51" width="1" height="9" fill="#404040"/>
<rect x="832" y="51" width="1" height="9" fill="#4c4c4c"/>
<rect x="833" y="51" width="1" height="9" fill="#858585"/>
<rect x="834" y="51" width="2" height="9" fill="#979797"/>
<rect x="836" y="51" width="1" height="9" fill="#676767"/>
<rect x="837" y="51" width="2" height="9" fill="#7f7f7f"/>
<rect x="839" y="51" width="1" height="9" fill="#8b8b8b"/>
<rect x="840" y="51" width="1" height="9" fill="#858585"/>
<rect x="841" y="51" width="1" height="9" fill="#404040"/>
<rect x="842" y="51" width="1" height="9" fill="#585858"/>
<rect x="843" y="51" width="1" height="9" fill="#727272"/>
<rect x="844" y="51" width="2" height="9" fill="#666666"/>
<rect x="846" y="51" width="1" height="9" fill="#4c4c4c"/>
<rect x="847" y="51" width="1" height="9" fill="#404040"/>
<rect x="848" y="51" width="1" height="9" fill="#666666"/>
<rect x="849" y="51" width="2" height="9" fill="#7e7e7e"/>
<rect x="851" y="51" width="1" height="9" fill="#5a5a5a"/>
<rect x="852" y="51" width="1" height="9" fill="#e0e0e0"/>
<rect x="853" y="51" width="1" height="9" fill="#e8e8e8"/>
<rect x="854" y="51" width="2" height="9" fill="#e0e0e0"/>
<rect x="856" y="51" width="1" height="9" fill="#b1b1b1"/>
<rect x="857" y="51" width="1" height="9" fill="#a5a5a5"/>
<rect x="858" y="51" width="1" height="9" fill="#d2d2d2"/>
<rect x="859" y="51" width="1" height="9" fill="#cccccc"/>
<rect x="860" y="51" width="1" height="9" fill="#b4b4b4"/>
<rect x="861" y="51" width="1" height="9" fill="#d2d2d2"/>
<rect x="862" y="51" width="1" height="9" fill="#c0c0c0"/>
<rect x="863" y="51" width="1" height="9" fill="#e4e4e4"/>
<rect x="864" y="51" width="1" height="9" fill="#b4b4b4"/>
<rect x="865" y="51" width="1" height="9" fill="#999999"/>
<rect x="866" y="51" width="1" height="9" fill="#8d8d8d"/>
<rect x="867" y="51" width="1" height="9" fill="#e4e4e4"/>
<rect x="868" y="51" width="1" height="9" fill="#cccccc"/>
<rect x="869" y="51" width="1" height="9" fill="#d8d8d8"/>
<rect x="870" y="51" width="3" height="9" fill="#d2d2d2"/>
<rect x="873" y="51" width="1" height="9" fill="#c6c6c6"/>
<rect x="874" y="51" width="1" height="9" fill="#646464"/>
<rect x="875" y="51" width="1" height="9" fill="#4c4c4c"/>
<rect x="876" y="51" width="1" height="9" fill="#c1c1c1"/>
<rect x="877" y="51" width="1" height="9" fill="#d3d3d3"/>
<rect x="878" y="51" width="1" height="9" fill="#c7c7c7"/>
<rect x="879" y="51" width="1" height="9" fill="#c1c1c1"/>
<rect x="880" y="51" width="1" height="9" fill="#bbbbbb"/>
<rect x="881" y="51" width="1" height="9" fill="#d3d3d3"/>
<rect x="882" y="51" width="1" height="9" fill="#929292"/>
<rect x="883" y="51" width="1" height="9" fill="#dddddd"/>
<rect x="884" y="51" width="1" height="9" fill="#d5d5d5"/>
<rect x="885" y="51" width="1" height="9" fill="#989898"/>
<rect x="886" y="51" width="1" height="9" fill="#c2c2c2"/>
<rect x="887" y="51" width="2" height="9" fill="#aaaaaa"/>
<rect x="889" y="51" width="1" height="9" fill="#a4a4a4"/>
<rect x="890" y="51" width="1" height="9" fill="#c2c2c2"/>
<rect x="891" y="51" width="1" height="9" fill="#737373"/>
<rect x="892" y="51" width="1" height="9" fill="#979797"/>
<rect x="893" y="51" width="1" height="9" fill="#8b8b8b"/>
<rect x="894" y="51" width="1" height="9" fill="#797979"/>
<rect x="895" y="51" width="2" height="9" fill="#7e7e7e"/>
<rect x="897" y="51" width="1" height="9" fill="#6c6c6c"/>
<rect x="898" y="51" width="1" height="9" fill="#666666"/>
<rect x="899" y="51" width="1" height="9" fill="#727272"/>
<rect x="900" y="51" width="1" height="9" fill="#5a5a5a"/>
<rect x="901" y="51" width="1" height="9" fill="#606060"/>
<rect x="902" y="51" width="1" height="9" fill="#666666"/>
<rect x="903" y="51" width="1" height="9" fill="#4e4e4e"/>
<rect x="904" y="51" width="1" height="9" fill="#d8d8d8"/>
<rect x="905" y="51" width="1" height="9" fill="#c6c6c6"/>
<rect x="906" y="51" width="1" height="9" fill="#c0c0c0"/>
<rect x="907" y="51" width="3" height="9" fill="#939393"/>
<rect x="910" y="51" width="1" height="9" fill="#787878"/>
<rect x="911" y="51" width="1" height="9" fill="#5a5a5a"/>
<rect x="912" y="51" width="4" height="9" fill="#666666"/>
<rect x="916" y="51" width="1" height="9" fill="#727272"/>
<rect x="917" y="51" width="1" height="9" fill="#5a5a5a"/>
<rect x="918" y="51" width="1" height="9" fill="#727272"/>
<rect x="919" y="51" width="1" height="9" fill="#5a5a5a"/>
<rect x="920" y="51" width="1" height="9" fill="#4e4e4e"/>
<rect x="921" y="51" width="1" height="9" fill="#666666"/>
<rect x="922" y="51" width="1" height="9" fill="#595959"/>
<rect x="923" y="51" width="1" height="9" fill="#535353"/>
<rect x="924" y="51" width="1" height="9" fill="#787878"/>
<rect x="925" y="51" width="2" height="9" fill="#727272"/>
<rect x="927" y="51" width="1" height="9" fill="#5a5a5a"/>
<rect x="928" y="51" width="1" height="9" fill="#666666"/>
<rect x="929" y="51" width="1" height="9" fill="#a4a4a4"/>
<rect x="930" y="51" width="2" height="9" fill="#8c8c8c"/>
<rect x="932" y="51" width="1" height="9" fill="#a4a4a4"/>
<rect x="933" y="51" width="1" height="9" fill="#858585"/>
<rect x="934" y="51" width="1" height="9" fill="#8b8b8b"/>
<rect x="935" y="51" width="1" height="9" fill="#676767"/>
<rect x="936" y="51" width="2" height="9" fill="#979797"/>
<rect x="938" y="51" width="1" height="9" fill="#858585"/>
<rect x="939" y="51" width="2" height="9" fill="#999999"/>
<rect x="941" y="51" width="1" height="9" fill="#818181"/>
<rect x="942" y="51" width="1" height="9" fill="#939393"/>
<rect x="943" y="51" width="1" height="9" fill="#868686"/>
<rect x="944" y="51" width="1" height="9" fill="#a4a4a4"/>
<rect x="945" y="51" width="1" height="9" fill="#8c8c8c"/>
<rect x="946" y="51" width="2" height="9" fill="#a4a4a4"/>
<rect x="948" y="51" width="1" height="9" fill="#8c8c8c"/>
<rect x="949" y="51" width="1" height="9" fill="#929292"/>
<rect x="143" y="74" width="166" height="1" fill="#0000ff"/>
<rect x="154" y="73" width="1" height="1" fill="#86867a" fill-opacity="1.0"/>
<rect x="154" y="75" width="1" height="1" fill="#86867a" fill-opacity="1.0"/>
<rect x="155" y="72" width="1" height="1" fill="#86867a" fill-opacity="0.6"/>
<rect x="155" y="76" width="1" height="1" fill="#86867a" fill-opacity="0.6"/>
<rect x="159" y="73" width="1" height="1" fill="#86867a" fill-opacity="1.0"/>
<rect x="159" y="75" width="1" height="1" fill="#86867a" fill-opacity="1.0"/>
<rect x="160" y="72" width="1" height="1" fill="#86867a" fill-opacity="0.6"/>
<rect x="160" y="76" width="1" height="1" fill="#86867a" fill-opacity="0.6"/>
<rect x="164" y="73" width="1" height="1" fill="#86867a" fill-opacity="1.0"/>
<rect x="164" y="75" width="1" height="1" fill="#86867a" fill-opacity="1.0"/>
<rect x="165" y="72" width="1" height="1" fill="#86867a" fill-opacity="0.6"/>
<rect x="165" y="76" width="1" height="1" fill="#86867a" fill-opacity="0.6"/>
<rect x="169" y="73" width="1" height="1" fill="#86867a" fill-opacity="1.0"/>
<rect x="169" y="75" width="1" height="1" fill="#86867a" fill-opacity="1.0"/>
<rect x="170" y="72" width="1" height="1" fill="#86867a" fill-opacity="0.6"/>
<rect x="170" y="76" width="1" height="1" fill="#86867a" fill-opacity="0.6"/>
<rect x="174" y="73" width="1" height="1" fill="#86867a" fill-opacity="1.0"/>
<rect x="174" y="75" width="1" height="1" fill="#86867a" fill-opacity="1.0"/>
<rect x="175" y="72" width="1" height="1" fill="#86867a" fill-opacity="0.6"/>
<rect x="175" y="76" width="1" height="1" fill="#86867a" fill-opacity="0.6"/>
<rect x="179" y="73" width="1" height="1" fill="#86867a" fill-opacity="1.0"/>
<rect x="179" y="75" width="1" height="1" fill="#86867a" fill-opacity="1.0"/>
<rect x="180" y="72" width="1" height="1" fill="#86867a" fill-opacity="0.6"/>
<rect x="180" y="76" width="1" height="1" fill="#86867a" fill-opacity="0.6"/>
<rect x="184" y="73" width="1" height="1" fill="#86867a" fill-opacity="1.0"/>
<rect x="184" y="75" width="1" height="1" fill="#86867a" fill-opacity="1.0"/>
<rect x="185" y="72" width="1" height="1" fill="#86867a" fill-opacity="0.6"/>
<rect x="185" y="76" width="1" height="1" fill="#86867a" fill-opacity="0.6"/>
<rect x="194" y="73" width="1" height="1" fill="#86867a" fill-opacity="1.0"/>
<rect x="194" y="75" width="1" height="1" fill="#86867a" fill-opacity="1.0"/>
<rect x="195" y="72" width="1" height="1" fill="#86867a" fill-opacity="0.6"/>
<rect x="195" y="76" width="1" height="1" fill="#86867a" fill-opacity="0.6"/>
<rect x="199" y="73" width="1" height="1" fill="#86867a" fill-opacity="1.0"/>
<rect x="199" y="75" width="1" height="1" fill="#86867a" fill-opacity="1.0"/>
<rect x="200" y="72" width="1" height="1" fill="#86867a" fill-opacity="0.6"/>
<rect x="200" y="76" width="1" height="1" fill="#86867a" fill-opacity="0.6"/>
<rect x="204" y="73" width="1" height="1" fill="#86867a" fill-opacity="1.0"/>
<rect x="204" y="75" width="1" height="1" fill="#86867a" fill-opacity="1.0"/>
<rect x="205" y="72" width="1" height="1" fill="#86867a" fill-opacity="0.6"/>
<rect x="205" y="76" width="1" height="1" fill="#86867a" fill-opacity="0.6"/>
<rect x="209" y="73" width="1" height="1" fill="#86867a" fill-opacity="1.0"/>
<rect x="209" y="75" width="1" height="1" fill="#86867a" fill-opacity="1.0"/>
<rect x="210" y="72" width="1" height="1" fill="#86867a" fill-opacity="0.6"/>
<rect x="210" y="76" width="1" height="1" fill="#86867a" fill-opacity="0.6"/>
<rect x="219" y="73" width="1" height="1" fill="#86867a" fill-opacity="1.0"/>
<rect x="219" y="75" width="1" height="1" fill="#86867a" fill-opacity="1.0"/>
<rect x="220" y="72" width="1" height="1" fill="#86867a" fill-opacity="0.6"/>
<rect x="220" y="76" width="1" height="1" fill="#86867a" fill-opacity="0.6"/>
<rect x="224" y="73" width="1" height="1" fill="#86867a" fill-opacity="1.0"/>
<rect x="224" y="75" width="1" height="1" fill="#86867a" fill-opacity="1.0"/>
<rect x="225" y="72" width="1" height="1" fill="#86867a" fill-opacity="0.6"/>
<rect x="225" y="76" width="1" height="1" fill="#86867a" fill-opacity="0.6"/>
<rect x="229" y="73" width="1" height="1" fill="#86867a" fill-opacity="1.0"/>
<rect x="229" y="75" width="1" height="1" fill="#86867a" fill-opacity="1.0"/>
<rect x="230" y="72" width="1" height="1" fill="#86867a" fill-opacity="0.6"/>
<rect x="230" y="76" width="1" height="1" fill="#86867a" fill-opacity="0.6"/>
<rect x="234" y="73" width="1" height="1" fill="#86867a" fill-opacity="1.0"/>
<rect x="234" y="75" width="1" height="1" fill="#86867a" fill-opacity="1.0"/>
<rect x="235" y="72" width="1" height="1" fill="#86867a" fill-opacity="0.6"/>
<rect x="235" y="76" width="1" height="1" fill="#86867a" fill-opacity="0.6"/>
<rect x="239" y="73" width="1" height="1" fill="#86867a" fill-opacity="1.0"/>
<rect x="239" y="75" width="1" height="1" fill="#86867a" fill-opacity="1.0"/>
<rect x="240" y="72" width="1" height="1" fill="#86867a" fill-opacity="0.6"/>
<rect x="240" y="76" width="1" height="1" fill="#86867a" fill-opacity="0.6"/>
<rect x="244" y="73" width="1" height="1" fill="#86867a" fill-opacity="1.0"/>
<rect x="244" y="75" width="1" height="1" fill="#86867a" fill-opacity="1.0"/>
<rect x="245" y="72" width="1" height="1" fill="#86867a" fill-opacity="0.6"/>
<rect x="245" y="76" width="1" height="1" fill="#86867a" fill-opacity="0.6"/>
<rect x="249" y="73" width="1" height="1" fill="#86867a" fill-opacity="1.0"/>
<rect x="249" y="75" width="1" height="1" fill="#86867a" fill-opacity="1.0"/>
<rect x="250" y="72" width="1" height="1" fill="#86867a" fill-opacity="0.6"/>
<rect x="250" y="76" width="1" height="1" fill="#86867a" fill-opacity="0.6"/>
<rect x="254" y="73" width="1" height="1" fill="#86867a" fill-opacity="1.0"/>
<rect x="254" y="75" width="1" height="1" fill="#86867a" fill-opacity="1.0"/>
<rect x="255" y="72" width="1" height="1" fill="#86867a" fill-opacity="0.6"/>
<rect x="255" y="76" width="1" height="1" fill="#86867a" fill-opacity="0.6"/>
<rect x="259" y="73" width="1" height="1" fill="#86867a" fill-opacity="1.0"/>
<rect x="259" y="75" width="1" height="1" fill="#86867a" fill-opacity="1.0"/>
<rect x="260" y="72" width="1" height="1" fill="#86867a" fill-opacity="0.6"/>
<rect x="260" y="76" width="1" height="1" fill="#86867a" fill-opacity="0.6"/>
<rect x="264" y="73" width="1" height="1" fill="#86867a" fill-opacity="1.0"/>
<rect x="264" y="75" width="1" height="1" fill="#86867a" fill-opacity="1.0"/>
<rect x="265" y="72" width="1" height="1" fill="#86867a" fill-opacity="0.6"/>
<rect x="265" y="76" width="1" height="1" fill="#86867a" fill-opacity="0.6"/>
<rect x="269" y="73" width="1" height="1" fill="#86867a" fill-opacity="1.0"/>
<rect x="269" y="75" width="1" height="1" fill="#86867a" fill-opacity="1.0"/>
<rect x="270" y="72" width="1" height="1" fill="#86867a" fill-opacity="0.6"/>
<rect x="270" y="76" width="1" height="1" fill="#86867a" fill-opacity="0.6"/>
<rect x="274" y="73" width="1" height="1" fill="#86867a" fill-opacity="1.0"/>
<rect x="274" y="75" width="1" height="1" fill="#86867a" fill-opacity="1.0"/>
<rect x="275" y="72" width="1" height="1" fill="#86867a" fill-opacity="0.6"/>
<rect x="275" y="76" width="1" height="1" fill="#86867a" fill-opacity="0.6"/>
<rect x="279" y="73" width="1" height="1" fill="#86867a" fill-opacity="1.0"/>
<rect x="279" y="75" width="1" height="1" fill="#86867a" fill-opacity="1.0"/>
<rect x="280" y="72" width="1" height="1" fill="#86867a" fill-opacity="0.6"/>
<rect x="280" y="76" width="1" height="1" fill="#86867a" fill-opacity="0.6"/>
<rect x="284" y="73" width="1" height="1" fill="#86867a" fill-opacity="1.0"/>
<rect x="284" y="75" width="1" height="1" fill="#86867a" fill-opacity="1.0"/>
<rect x="285" y="72" width="1" height="1" fill="#86867a" fill-opacity="0.6"/>
<rect x="285" y="76" width="1" height="1" fill="#86867a" fill-opacity="0.6"/>
<rect x="289" y="73" width="1" height="1" fill="#86867a" fill-opacity="1.0"/>
<rect x="289" y="75" width="1" height="1" fill="#86867a" fill-opacity="1.0"/>
<rect x="290" y="72" width="1" height="1" fill="#86867a" fill-opacity="0.6"/>
<rect x="290" y="76" width="1" height="1" fill="#86867a" fill-opacity="0.6"/>
<rect x="294" y="73" width="1" height="1" fill="#86867a" fill-opacity="1.0"/>
<rect x="294" y="75" width="1" height="1" fill="#86867a" fill-opacity="1.0"/>
<rect x="295" y="72" width="1" height="1" fill="#86867a" fill-opacity="0.6"/>
<rect x="295" y="76" width="1" height="1" fill="#86867a" fill-opacity="0.6"/>
<rect x="299" y="73" width="1" height="1" fill="#86867a" fill-opacity="1.0"/>
<rect x="299" y="75" width="1" height="1" fill="#86867a" fill-opacity="1.0"/>
<rect x="300" y="72" width="1" height="1" fill="#86867a" fill-opacity="0.6"/>
<rect x="300" y="76" width="1" height="1" fill="#86867a" fill-opacity="0.6"/>
<rect x="304" y="73" width="1" height="1" fill="#86867a" fill-opacity="1.0"/>
<rect x="304" y="75" width="1" height="1" fill="#86867a" fill-opacity="1.0"/>
<rect x="305" y="72" width="1" height="1" fill="#86867a" fill-opacity="0.6"/>
<rect x="305" y="76" width="1" height="1" fill="#86867a" fill-opacity="0.6"/>
<rect x="143" y="70" width="1" height="9" fill="#0000ff"/>
<rect x="149" y="70" width="1" height="9" fill="#0000ff"/>
<rect x="151" y="70" width="2" height="9" fill="#0000ff"/>
<rect x="191" y="70" width="1" height="9" fill="#0000ff"/>
<rect x="214" y="70" width="1" height="9" fill="#0000ff"/>
<rect x="308" y="70" width="1" height="9" fill="#0000ff"/>
<rect x="715" y="74" width="10" height="1" fill="#ff0000"/>
<rect x="720" y="73" width="1" height="1" fill="#86867a" fill-opacity="1.0"/>
<rect x="720" y="75" width="1" height="1" fill="#86867a" fill-opacity="1.0"/>
<rect x="719" y="72" width="1" height="1" fill="#86867a" fill-opacity="0.6"/>
<rect x="719" y="76" width="1" height="1" fill="#86867a" fill-opacity="0.6"/>
<rect x="715" y="72" width="1" height="5" fill="#ff0000"/>
<rect x="723" y="70" width="2" height="9" fill="#ff0000"/>
<text transform="translate(711.5 77.0) scale(1.0989 1)" fill="#ff0000" stroke="#ff0000" text-anchor="end" xml:space="preserve">TMEM45B  XM_005699636.3</text>
<rect x="897" y="74" width="7" height="1" fill="#0000ff"/>
<rect x="897" y="70" width="5" height="9" fill="#0000ff"/>
<rect x="903" y="70" width="1" height="9" fill="#0000ff"/>
<text transform="translate(893.5 77.0) scale(1.0989 1)" fill="#0000ff" stroke="#0000ff" text-anchor="end" xml:space="preserve">ADAMTS8  XM_005699727.3</text>
<rect x="143" y="84" width="166" height="1" fill="#0000ff"/>
<rect x="154" y="83" width="1" height="1" fill="#86867a" fill-opacity="1.0"/>
<rect x="154" y="85" width="1" height="1" fill="#86867a" fill-opacity="1.0"/>
<rect x="155" y="82" width="1" height="1" fill="#86867a" fill-opacity="0.6"/>
<rect x="155" y="86" width="1" height="1" fill="#86867a" fill-opacity="0.6"/>
<rect x="159" y="83" width="1" height="1" fill="#86867a" fill-opacity="1.0"/>
<rect x="159" y="85" width="1" height="1" fill="#86867a" fill-opacity="1.0"/>
<rect x="160" y="82" width="1" height="1" fill="#86867a" fill-opacity="0.6"/>
<rect x="160" y="86" width="1" height="1" fill="#86867a" fill-opacity="0.6"/>
<rect x="164" y="83" width="1" height="1" fill="#86867a" fill-opacity="1.0"/>
<rect x="164" y="85" width="1" height="1" fill="#86867a" fill-opacity="1.0"/>
<rect x="165" y="82" width="1" height="1" fill="#86867a" fill-opacity="0.6"/>
<rect x="165" y="86" width="1" height="1" fill="#86867a" fill-opacity="0.6"/>
<rect x="169" y="83" width="1" height="1" fill="#86867a" fill-opacity="1.0"/>
<rect x="169" y="85" width="1" height="1" fill="#86867a" fill-opacity="1.0"/>
<rect x="170" y="82" width="1" height="1" fill="#86867a" fill-opacity="0.6"/>
<rect x="170" y="86" width="1" height="1" fill="#86867a" fill-opacity="0.6"/>
<rect x="174" y="83" width="1" height="1" fill="#86867a" fill-opacity="1.0"/>
<rect x="174" y="85" width="1" height="1" fill="#86867a" fill-opacity="1.0"/>
<rect x="175" y="82" width="1" height="1" fill="#86867a" fill-opacity="0.6"/>
<rect x="175" y="86" width="1" height="1" fill="#86867a" fill-opacity="0.6"/>
<rect x="179" y="83" width="1" height="1" fill="#86867a" fill-opacity="1.0"/>
<rect x="179" y="85" width="1" height="1" fill="#86867a" fill-opacity="1.0"/>
<rect x="180" y="82" width="1" height="1" fill="#86867a" fill-opacity="0.6"/>
<rect x="180" y="86" width="1" height="1" fill="#86867a" fill-opacity="0.6"/>
<rect x="184" y="83" width="1" height="1" fill="#86867a" fill-opacity="1.0"/>
<rect x="184" y="85" width="1" height="1" fill="#86867a" fill-opacity="1.0"/>
<rect x="185" y="82" width="1" height="1" fill="#86867a" fill-opacity="0.6"/>
<rect x="185" y="86" width="1" height="1" fill="#86867a" fill-opacity="0.6"/>
<rect x="194" y="83" width="1" height="1" fill="#86867a" fill-opacity="1.0"/>
<rect x="194" y="85" width="1" height="1" fill="#86867a" fill-opacity="1.0"/>
<rect x="195" y="82" width="1" height="1" fill="#86867a" fill-opacity="0.6"/>
<rect x="195" y="86" width="1" height="1" fill="#86867a" fill-opacity="0.6"/>
<rect x="199" y="83" width="1" height="1" fill="#86867a" fill-opacity="1.0"/>
<rect x="199" y="85" width="1" height="1" fill="#86867a" fill-opacity="1.0"/>
<rect x="200" y="82" width="1" height="1" fill="#86867a" fill-opacity="0.6"/>
<rect x="200" y="86" width="1" height="1" fill="#86867a" fill-opacity="0.6"/>
<rect x="204" y="83" width="1" height="1" fill="#86867a" fill-opacity="1.0"/>
<rect x="204" y="85" width="1" height="1" fill="#86867a" fill-opacity="1.0"/>
<rect x="205" y="82" width="1" height="1" fill="#86867a" fill-opacity="0.6"/>
<rect x="205" y="86" width="1" height="1" fill="#86867a" fill-opacity="0.6"/>
<rect x="209" y="83" width="1" height="1" fill="#86867a" fill-opacity="1.0"/>
<rect x="209" y="85" width="1" height="1" fill="#86867a" fill-opacity="1.0"/>
<rect x="210" y="82" width="1" height="1" fill="#86867a" fill-opacity="0.6"/>
<rect x="210" y="86" width="1" height="1" fill="#86867a" fill-opacity="0.6"/>
<rect x="219" y="83" width="1" height="1" fill="#86867a" fill-opacity="1.0"/>
<rect x="219" y="85" width="1" height="1" fill="#86867a" fill-opacity="1.0"/>
<rect x="220" y="82" width="1" height="1" fill="#86867a" fill-opacity="0.6"/>
<rect x="220" y="86" width="1" height="1" fill="#86867a" fill-opacity="0.6"/>
<rect x="224" y="83" width="1" height="1" fill="#86867a" fill-opacity="1.0"/>
<rect x="224" y="85" width="1" height="1" fill="#86867a" fill-opacity="1.0"/>
<rect x="225" y="82" width="1" height="1" fill="#86867a" fill-opacity="0.6"/>
<rect x="225" y="86" width="1" height="1" fill="#86867a" fill-opacity="0.6"/>
<rect x="229" y="83" width="1" height="1" fill="#86867a" fill-opacity="1.0"/>
<rect x="229" y="85" width="1" height="1" fill="#86867a" fill-opacity="1.0"/>
<rect x="230" y="82" width="1" height="1" fill="#86867a" fill-opacity="0.6"/>
<rect x="230" y="86" width="1" height="1" fill="#86867a" fill-opacity="0.6"/>
<rect x="234" y="83" width="1" height="1" fill="#86867a" fill-opacity="1.0"/>
<rect x="234" y="85" width="1" height="1" fill="#86867a" fill-opacity="1.0"/>
<rect x="235" y="82" width="1" height="1" fill="#86867a" fill-opacity="0.6"/>
<rect x="235" y="86" width="1" height="1" fill="#86867a" fill-opacity="0.6"/>
<rect x="239" y="83" width="1" height="1" fill="#86867a" fill-opacity="1.0"/>
<rect x="239" y="85" width="1" height="1" fill="#86867a" fill-opacity="1.0"/>
<rect x="240" y="82" width="1" height="1" fill="#86867a" fill-opacity="0.6"/>
<rect x="240" y="86" width="1" height="1" fill="#86867a" fill-opacity="0.6"/>
<rect x="244" y="83" width="1" height="1" fill="#86867a" fill-opacity="1.0"/>
<rect x="244" y="85" width="1" height="1" fill="#86867a" fill-opacity="1.0"/>
<rect x="245" y="82" width="1" height="1" fill="#86867a" fill-opacity="0.6"/>
<rect x="245" y="86" width="1" height="1" fill="#86867a" fill-opacity="0.6"/>
<rect x="249" y="83" width="1" height="1" fill="#86867a" fill-opacity="1.0"/>
<rect x="249" y="85" width="1" height="1" fill="#86867a" fill-opacity="1.0"/>
<rect x="250" y="82" width="1" height="1" fill="#86867a" fill-opacity="0.6"/>
<rect x="250" y="86" width="1" height="1" fill="#86867a" fill-opacity="0.6"/>
<rect x="254" y="83" width="1" height="1" fill="#86867a" fill-opacity="1.0"/>
<rect x="254" y="85" width="1" height="1" fill="#86867a" fill-opacity="1.0"/>
<rect x="255" y="82" width="1" height="1" fill="#86867a" fill-opacity="0.6"/>
<rect x="255" y="86" width="1" height="1" fill="#86867a" fill-opacity="0.6"/>
<rect x="259" y="83" width="1" height="1" fill="#86867a" fill-opacity="1.0"/>
<rect x="259" y="85" width="1" height="1" fill="#86867a" fill-opacity="1.0"/>
<rect x="260" y="82" width="1" height="1" fill="#86867a" fill-opacity="0.6"/>
<rect x="260" y="86" width="1" height="1" fill="#86867a" fill-opacity="0.6"/>
<rect x="264" y="83" width="1" height="1" fill="#86867a" fill-opacity="1.0"/>
<rect x="264" y="85" width="1" height="1" fill="#86867a" fill-opacity="1.0"/>
<rect x="265" y="82" width="1" height="1" fill="#86867a" fill-opacity="0.6"/>
<rect x="265" y="86" width="1" height="1" fill="#86867a" fill-opacity="0.6"/>
<rect x="269" y="83" width="1" height="1" fill="#86867a" fill-opacity="1.0"/>
<rect x="269" y="85" width="1" height="1" fill="#86867a" fill-opacity="1.0"/>
<rect x="270" y="82" width="1" height="1" fill="#86867a" fill-opacity="0.6"/>
<rect x="270" y="86" width="1" height="1" fill="#86867a" fill-opacity="0.6"/>
<rect x="274" y="83" width="1" height="1" fill="#86867a" fill-opacity="1.0"/>
<rect x="274" y="85" width="1" height="1" fill="#86867a" fill-opacity="1.0"/>
<rect x="275" y="82" width="1" height="1" fill="#86867a" fill-opacity="0.6"/>
<rect x="275" y="86" width="1" height="1" fill="#86867a" fill-opacity="0.6"/>
<rect x="279" y="83" width="1" height="1" fill="#86867a" fill-opacity="1.0"/>
<rect x="279" y="85" width="1" height="1" fill="#86867a" fill-opacity="1.0"/>
<rect x="280" y="82" width="1" height="1" fill="#86867a" fill-opacity="0.6"/>
<rect x="280" y="86" width="1" height="1" fill="#86867a" fill-opacity="0.6"/>
<rect x="284" y="83" width="1" height="1" fill="#86867a" fill-opacity="1.0"/>
<rect x="284" y="85" width="1" height="1" fill="#86867a" fill-opacity="1.0"/>
<rect x="285" y="82" width="1" height="1" fill="#86867a" fill-opacity="0.6"/>
<rect x="285" y="86" width="1" height="1" fill="#86867a" fill-opacity="0.6"/>
<rect x="289" y="83" width="1" height="1" fill="#86867a" fill-opacity="1.0"/>
<rect x="289" y="85" width="1" height="1" fill="#86867a" fill-opacity="1.0"/>
<rect x="290" y="82" width="1" height="1" fill="#86867a" fill-opacity="0.6"/>
<rect x="290" y="86" width="1" height="1" fill="#86867a" fill-opacity="0.6"/>
<rect x="294" y="83" width="1" height="1" fill="#86867a" fill-opacity="1.0"/>
<rect x="294" y="85" width="1" height="1" fill="#86867a" fill-opacity="1.0"/>
<rect x="295" y="82" width="1" height="1" fill="#86867a" fill-opacity="0.6"/>
<rect x="295" y="86" width="1" height="1" fill="#86867a" fill-opacity="0.6"/>
<rect x="299" y="83" width="1" height="1" fill="#86867a" fill-opacity="1.0"/>
<rect x="299" y="85" width="1" height="1" fill="#86867a" fill-opacity="1.0"/>
<rect x="300" y="82" width="1" height="1" fill="#86867a" fill-opacity="0.6"/>
<rect x="300" y="86" width="1" height="1" fill="#86867a" fill-opacity="0.6"/>
<rect x="304" y="83" width="1" height="1" fill="#86867a" fill-opacity="1.0"/>
<rect x="304" y="85" width="1" height="1" fill="#86867a" fill-opacity="1.0"/>
<rect x="305" y="82" width="1" height="1" fill="#86867a" fill-opacity="0.6"/>
<rect x="305" y="86" width="1" height="1" fill="#86867a" fill-opacity="0.6"/>
<rect x="143" y="80" width="1" height="9" fill="#0000ff"/>
<rect x="148" y="80" width="2" height="9" fill="#0000ff"/>
<rect x="151" y="80" width="2" height="9" fill="#0000ff"/>
<rect x="191" y="80" width="1" height="9" fill="#0000ff"/>
<rect x="214" y="80" width="1" height="9" fill="#0000ff"/>
<rect x="308" y="80" width="1" height="9" fill="#0000ff"/>
<rect x="726" y="84" width="14" height="1" fill="#0000ff"/>
<rect x="726" y="80" width="3" height="9" fill="#0000ff"/>
<rect x="730" y="80" width="6" height="9" fill="#0000ff"/>
<rect x="737" y="80" width="2" height="9" fill="#0000ff"/>
<rect x="739" y="82" width="1" height="5" fill="#0000ff"/>
<text transform="translate(722.5 87.0) scale(1.0989 1)" fill="#0000ff" stroke="#0000ff" text-anchor="end" xml:space="preserve">NFRKB  XM_018043224.1</text>
<rect x="914" y="84" width="10" height="1" fill="#ff0000"/>
<rect x="916" y="83" width="1" height="1" fill="#86867a" fill-opacity="1.0"/>
<rect x="916" y="85" width="1" height="1" fill="#86867a" fill-opacity="1.0"/>
<rect x="915" y="82" width="1" height="1" fill="#86867a" fill-opacity="0.6"/>
<rect x="915" y="86" width="1" height="1" fill="#86867a" fill-opacity="0.6"/>
<rect x="914" y="80" width="1" height="9" fill="#ff0000"/>
<rect x="919" y="80" width="1" height="9" fill="#ff0000"/>
<rect x="921" y="80" width="2" height="9" fill="#ff0000"/>
<rect x="923" y="82" width="1" height="5" fill="#ff0000"/>
<text transform="translate(910.5 87.0) scale(1.0989 1)" fill="#ff0000" stroke="#ff0000" text-anchor="end" xml:space="preserve">ADAMTS15  XM_018043424.1</text>
<rect x="143" y="94" width="166" height="1" fill="#0000ff"/>
<rect x="154" y="93" width="1" height="1" fill="#86867a" fill-opacity="1.0"/>
<rect x="154" y="95" width="1" height="1" fill="#86867a" fill-opacity="1.0"/>
<rect x="155" y="92" width="1" height="1" fill="#86867a" fill-opacity="0.6"/>
<rect x="155" y="96" width="1" height="1" fill="#86867a" fill-opacity="0.6"/>
<rect x="159" y="93" width="1" height="1" fill="#86867a" fill-opacity="1.0"/>
<rect x="159" y="95" width="1" height="1" fill="#86867a" fill-opacity="1.0"/>
<rect x="160" y="92" width="1" height="1" fill="#86867a" fill-opacity="0.6"/>
<rect x="160" y="96" width="1" height="1" fill="#86867a" fill-opacity="0.6"/>
<rect x="164" y="93" width="1" height="1" fill="#86867a" fill-opacity="1.0"/>
<rect x="164" y="95" width="1" height="1" fill="#86867a" fill-opacity="1.0"/>
<rect x="165" y="92" width="1" height="1" fill="#86867a" fill-opacity="0.6"/>
<rect x="165" y="96" width="1" height="1" fill="#86867a" fill-opacity="0.6"/>
<rect x="169" y="93" width="1" height="1" fill="#86867a" fill-opacity="1.0"/>
<rect x="169" y="95" width="1" height="1" fill="#86867a" fill-opacity="1.0"/>
<rect x="170" y="92" width="1" height="1" fill="#86867a" fill-opacity="0.6"/>
<rect x="170" y="96" width="1" height="1" fill="#86867a" fill-opacity="0.6"/>
<rect x="174" y="93" width="1" height="1" fill="#86867a" fill-opacity="1.0"/>
<rect x="174" y="95" width="1" height="1" fill="#86867a" fill-opacity="1.0"/>
<rect x="175" y="92" width="1" height="1" fill="#86867a" fill-opacity="0.6"/>
<rect x="175" y="96" width="1" height="1" fill="#86867a" fill-opacity="0.6"/>
<rect x="179" y="93" width="1" height="1" fill="#86867a" fill-opacity="1.0"/>
<rect x="179" y="95" width="1" height="1" fill="#86867a" fill-opacity="1.0"/>
<rect x="180" y="92" width="1" height="1" fill="#86867a" fill-opacity="0.6"/>
<rect x="180" y="96" width="1" height="1" fill="#86867a" fill-opacity="0.6"/>
<rect x="184" y="93" width="1" height="1" fill="#86867a" fill-opacity="1.0"/>
<rect x="184" y="95" width="1" height="1" fill="#86867a" fill-opacity="1.0"/>
<rect x="185" y="92" width="1" height="1" fill="#86867a" fill-opacity="0.6"/>
<rect x="185" y="96" width="1" height="1" fill="#86867a" fill-opacity="0.6"/>
<rect x="194" y="93" width="1" height="1" fill="#86867a" fill-opacity="1.0"/>
<rect x="194" y="95" width="1" height="1" fill="#86867a" fill-opacity="1.0"/>
<rect x="195" y="92" width="1" height="1" fill="#86867a" fill-opacity="0.6"/>
<rect x="195" y="96" width="1" height="1" fill="#86867a" fill-opacity="0.6"/>
<rect x="199" y="93" width="1" height="1" fill="#86867a" fill-opacity="1.0"/>
<rect x="199" y="95" width="1" height="1" fill="#86867a" fill-opacity="1.0"/>
<rect x="200" y="92" width="1" height="1" fill="#86867a" fill-opacity="0.6"/>
<rect x="200" y="96" width="1" height="1" fill="#86867a" fill-opacity="0.6"/>
<rect x="204" y="93" width="1" height="1" fill="#86867a" fill-opacity="1.0"/>
<rect x="204" y="95" width="1" height="1" fill="#86867a" fill-opacity="1.0"/>
<rect x="205" y="92" width="1" height="1" fill="#86867a" fill-opacity="0.6"/>
<rect x="205" y="96" width="1" height="1" fill="#86867a" fill-opacity="0.6"/>
<rect x="209" y="93" width="1" height="1" fill="#86867a" fill-opacity="1.0"/>
<rect x="209" y="95" width="1" height="1" fill="#86867a" fill-opacity="1.0"/>
<rect x="210" y="92" width="1" height="1" fill="#86867a" fill-opacity="0.6"/>
<rect x="210" y="96" width="1" height="1" fill="#86867a" fill-opacity="0.6"/>
<rect x="219" y="93" width="1" height="1" fill="#86867a" fill-opacity="1.0"/>
<rect x="219" y="95" width="1" height="1" fill="#86867a" fill-opacity="1.0"/>
<rect x="220" y="92" width="1" height="1" fill="#86867a" fill-opacity="0.6"/>
<rect x="220" y="96" width="1" height="1" fill="#86867a" fill-opacity="0.6"/>
<rect x="224" y="93" width="1" height="1" fill="#86867a" fill-opacity="1.0"/>
<rect x="224" y="95" width="1" height="1" fill="#86867a" fill-opacity="1.0"/>
<rect x="225" y="92" width="1" height="1" fill="#86867a" fill-opacity="0.6"/>
<rect x="225" y="96" width="1" height="1" fill="#86867a" fill-opacity="0.6"/>
<rect x="229" y="93" width="1" height="1" fill="#86867a" fill-opacity="1.0"/>
<rect x="229" y="95" width="1" height="1" fill="#86867a" fill-opacity="1.0"/>
<rect x="230" y="92" width="1" height="1" fill="#86867a" fill-opacity="0.6"/>
<rect x="230" y="96" width="1" height="1" fill="#86867a" fill-opacity="0.6"/>
<rect x="234" y="93" width="1" height="1" fill="#86867a" fill-opacity="1.0"/>
<rect x="234" y="95" width="1" height="1" fill="#86867a" fill-opacity="1.0"/>
<rect x="235" y="92" width="1" height="1" fill="#86867a" fill-opacity="0.6"/>
<rect x="235" y="96" width="1" height="1" fill="#86867a" fill-opacity="0.6"/>
<rect x="239" y="93" width="1" height="1" fill="#86867a" fill-opacity="1.0"/>
<rect x="239" y="95" width="1" height="1" fill="#86867a" fill-opacity="1.0"/>
<rect x="240" y="92" width="1" height="1" fill="#86867a" fill-opacity="0.6"/>
<rect x="240" y="96" width="1" height="1" fill="#86867a" fill-opacity="0.6"/>
<rect x="244" y="93" width="1" height="1" fill="#86867a" fill-opacity="1.0"/>
<rect x="244" y="95" width="1" height="1" fill="#86867a" fill-opacity="1.0"/>
<rect x="245" y="92" width="1" height="1" fill="#86867a" fill-opacity="0.6"/>
<rect x="245" y="96" width="1" height="1" fill="#86867a" fill-opacity="0.6"/>
<rect x="249" y="93" width="1" height="1" fill="#86867a" fill-opacity="1.0"/>
<rect x="249" y="95" width="1" height="1" fill="#86867a" fill-opacity="1.0"/>
<rect x="250" y="92" width="1" height="1" fill="#86867a" fill-opacity="0.6"/>
<rect x="250" y="96" width="1" height="1" fill="#86867a" fill-opacity="0.6"/>
<rect x="254" y="93" width="1" height="1" fill="#86867a" fill-opacity="1.0"/>
<rect x="254" y="95" width="1" height="1" fill="#86867a" fill-opacity="1.0"/>
<rect x="255" y="92" width="1" height="1" fill="#86867a" fill-opacity="0.6"/>
<rect x="255" y="96" width="1" height="1" fill="#86867a" fill-opacity="0.6"/>
<rect x="259" y="93" width="1" height="1" fill="#86867a" fill-opacity="1.0"/>
<rect x="259" y="95" width="1" height="1" fill="#86867a" fill-opacity="1.0"/>
<rect x="260" y="92" width="1" height="1" fill="#86867a" fill-opacity="0.6"/>
<rect x="260" y="96" width="1" height="1" fill="#86867a" fill-opacity="0.6"/>
<rect x="264" y="93" width="1" height="1" fill="#86867a" fill-opacity="1.0"/>
<rect x="264" y="95" width="1" height="1" fill="#86867a" fill-opacity="1.0"/>
<rect x="265" y="92" width="1" height="1" fill="#86867a" fill-opacity="0.6"/>
<rect x="265" y="96" width="1" height="1" fill="#86867a" fill-opacity="0.6"/>
<rect x="269" y="93" width="1" height="1" fill="#86867a" fill-opacity="1.0"/>
<rect x="269" y="95" width="1" height="1" fill="#86867a" fill-opacity="1.0"/>
<rect x="270" y="92" width="1" height="1" fill="#86867a" fill-opacity="0.6"/>
<rect x="270" y="96" width="1" height="1" fill="#86867a" fill-opacity="0.6"/>
<rect x="274" y="93" width="1" height="1" fill="#86867a" fill-opacity="1.0"/>
<rect x="274" y="95" width="1" height="1" fill="#86867a" fill-opacity="1.0"/>
<rect x="275" y="92" width="1" height="1" fill="#86867a" fill-opacity="0.6"/>
<rect x="275" y="96" width="1" height="1" fill="#86867a" fill-opacity="0.6"/>
<rect x="279" y="93" width="1" height="1" fill="#86867a" fill-opacity="1.0"/>
<rect x="279" y="95" width="1" height="1" fill="#86867a" fill-opacity="1.0"/>
<rect x="280" y="92" width="1" height="1" fill="#86867a" fill-opacity="0.6"/>
<rect x="280" y="96" width="1" height="1" fill="#86867a" fill-opacity="0.6"/>
<rect x="284" y="93" width="1" height="1" fill="#86867a" fill-opacity="1.0"/>
<rect x="284" y="95" width="1" height="1" fill="#86867a" fill-opacity="1.0"/>
<rect x="285" y="92" width="1" height="1" fill="#86867a" fill-opacity="0.6"/>
<rect x="285" y="96" width="1" height="1" fill="#86867a" fill-opacity="0.6"/>
<rect x="289" y="93" width="1" height="1" fill="#86867a" fill-opacity="1.0"/>
<rect x="289" y="95" width="1" height="1" fill="#86867a" fill-opacity="1.0"/>
<rect x="290" y="92" width="1" height="1" fill="#86867a" fill-opacity="0.6"/>
<rect x="290" y="96" width="1" height="1" fill="#86867a" fill-opacity="0.6"/>
<rect x="294" y="93" width="1" height="1" fill="#86867a" fill-opacity="1.0"/>
<rect x="294" y="95" width="1" height="1" fill="#86867a" fill-opacity="1.0"/>
<rect x="295" y="92" width="1" height="1" fill="#86867a" fill-opacity="0.6"/>
<rect x="295" y="96" width="1" height="1" fill="#86867a" fill-opacity="0.6"/>
<rect x="299" y="93" width="1" height="1" fill="#86867a" fill-opacity="1.0"/>
<rect x="299" y="95" width="1" height="1" fill="#86867a" fill-opacity="1.0"/>
<rect x="300" y="92" width="1" height="1" fill="#86867a" fill-opacity="0.6"/>
<rect x="300" y="96" width="1" height="1" fill="#86867a" fill-opacity="0.6"/>
<rect x="304" y="93" width="1" height="1" fill="#86867a" fill-opacity="1.0"/>
<rect x="304" y="95" width="1" height="1" fill="#86867a" fill-opacity="1.0"/>
<rect x="305" y="92" width="1" height="1" fill="#86867a" fill-opacity="0.6"/>
<rect x="305" y="96" width="1" height="1" fill="#86867a" fill-opacity="0.6"/>
<rect x="143" y="90" width="1" height="9" fill="#0000ff"/>
<rect x="146" y="90" width="1" height="9" fill="#0000ff"/>
<rect x="148" y="90" width="2" height="9" fill="#0000ff"/>
<rect x="151" y="90" width="2" height="9" fill="#0000ff"/>
<rect x="191" y="90" width="1" height="9" fill="#0000ff"/>
<rect x="214" y="90" width="1" height="9" fill="#0000ff"/>
<rect x="308" y="90" width="1" height="9" fill="#0000ff"/>
<rect x="726" y="94" width="14" height="1" fill="#0000ff"/>
<rect x="726" y="90" width="3" height="9" fill="#0000ff"/>
<rect x="730" y="90" width="6" height="9" fill="#0000ff"/>
<rect x="737" y="90" width="2" height="9" fill="#0000ff"/>
<rect x="739" y="92" width="1" height="5" fill="#0000ff"/>
<text transform="translate(722.5 97.0) scale(1.0989 1)" fill="#0000ff" stroke="#0000ff" text-anchor="end" xml:space="preserve">NFRKB  XM_018043223.1</text>
<rect x="930" y="94" width="14" height="1" fill="#ff0000"/>
<rect x="935" y="93" width="1" height="1" fill="#86867a" fill-opacity="1.0"/>
<rect x="935" y="95" width="1" height="1" fill="#86867a" fill-opacity="1.0"/>
<rect x="934" y="92" width="1" height="1" fill="#86867a" fill-opacity="0.6"/>
<rect x="934" y="96" width="1" height="1" fill="#86867a" fill-opacity="0.6"/>
<rect x="940" y="93" width="1" height="1" fill="#86867a" fill-opacity="1.0"/>
<rect x="940" y="95" width="1" height="1" fill="#86867a" fill-opacity="1.0"/>
<rect x="939" y="92" width="1" height="1" fill="#86867a" fill-opacity="0.6"/>
<rect x="939" y="96" width="1" height="1" fill="#86867a" fill-opacity="0.6"/>
<rect x="930" y="92" width="2" height="5" fill="#ff0000"/>
<rect x="943" y="92" width="1" height="5" fill="#ff0000"/>
<text transform="translate(926.5 97.0) scale(1.0989 1)" fill="#ff0000" stroke="#ff0000" text-anchor="end" xml:space="preserve">LOC108634244  XR_001917519.1</text>
<rect x="143" y="104" width="166" height="1" fill="#0000ff"/>
<rect x="154" y="103" width="1" height="1" fill="#86867a" fill-opacity="1.0"/>
<rect x="154" y="105" width="1" height="1" fill="#86867a" fill-opacity="1.0"/>
<rect x="155" y="102" width="1" height="1" fill="#86867a" fill-opacity="0.6"/>
<rect x="155" y="106" width="1" height="1" fill="#86867a" fill-opacity="0.6"/>
<rect x="159" y="103" width="1" height="1" fill="#86867a" fill-opacity="1.0"/>
<rect x="159" y="105" width="1" height="1" fill="#86867a" fill-opacity="1.0"/>
<rect x="160" y="102" width="1" height="1" fill="#86867a" fill-opacity="0.6"/>
<rect x="160" y="106" width="1" height="1" fill="#86867a" fill-opacity="0.6"/>
<rect x="164" y="103" width="1" height="1" fill="#86867a" fill-opacity="1.0"/>
<rect x="164" y="105" width="1" height="1" fill="#86867a" fill-opacity="1.0"/>
<rect x="165" y="102" width="1" height="1" fill="#86867a" fill-opacity="0.6"/>
<rect x="165" y="106" width="1" height="1" fill="#86867a" fill-opacity="0.6"/>
<rect x="169" y="103" width="1" height="1" fill="#86867a" fill-opacity="1.0"/>
<rect x="169" y="105" width="1" height="1" fill="#86867a" fill-opacity="1.0"/>
<rect x="170" y="102" width="1" height="1" fill="#86867a" fill-opacity="0.6"/>
<rect x="170" y="106" width="1" height="1" fill="#86867a" fill-opacity="0.6"/>
<rect x="174" y="103" width="1" height="1" fill="#86867a" fill-opacity="1.0"/>
<rect x="174" y="105" width="1" height="1" fill="#86867a" fill-opacity="1.0"/>
<rect x="175" y="102" width="1" height="1" fill="#86867a" fill-opacity="0.6"/>
<rect x="175" y="106" width="1" height="1" fill="#86867a" fill-opacity="0.6"/>
<rect x="179" y="103" width="1" height="1" fill="#86867a" fill-opacity="1.0"/>
<rect x="179" y="105" width="1" height="1" fill="#86867a" fill-opacity="1.0"/>
<rect x="180" y="102" width="1" height="1" fill="#86867a" fill-opacity="0.6"/>
<rect x="180" y="106" width="1" height="1" fill="#86867a" fill-opacity="0.6"/>
<rect x="184" y="103" width="1" height="1" fill="#86867a" fill-opacity="1.0"/>
<rect x="184" y="105" width="1" height="1" fill="#86867a" fill-opacity="1.0"/>
<rect x="185" y="102" width="1" height="1" fill="#86867a" fill-opacity="0.6"/>
<rect x="185" y="106" width="1" height="1" fill="#86867a" fill-opacity="0.6"/>
<rect x="194" y="103" width="1" height="1" fill="#86867a" fill-opacity="1.0"/>
<rect x="194" y="105" width="1" height="1" fill="#86867a" fill-opacity="1.0"/>
<rect x="195" y="102" width="1" height="1" fill="#86867a" fill-opacity="0.6"/>
<rect x="195" y="106" width="1" height="1" fill="#86867a" fill-opacity="0.6"/>
<rect x="199" y="103" width="1" height="1" fill="#86867a" fill-opacity="1.0"/>
<rect x="199" y="105" width="1" height="1" fill="#86867a" fill-opacity="1.0"/>
<rect x="200" y="102" width="1" height="1" fill="#86867a" fill-opacity="0.6"/>
<rect x="200" y="106" width="1" height="1" fill="#86867a" fill-opacity="0.6"/>
<rect x="204" y="103" width="1" height="1" fill="#86867a" fill-opacity="1.0"/>
<rect x="204" y="105" width="1" height="1" fill="#86867a" fill-opacity="1.0"/>
<rect x="205" y="102" width="1" height="1" fill="#86867a" fill-opacity="0.6"/>
<rect x="205" y="106" width="1" height="1" fill="#86867a" fill-opacity="0.6"/>
<rect x="209" y="103" width="1" height="1" fill="#86867a" fill-opacity="1.0"/>
<rect x="209" y="105" width="1" height="1" fill="#86867a" fill-opacity="1.0"/>
<rect x="210" y="102" width="1" height="1" fill="#86867a" fill-opacity="0.6"/>
<rect x="210" y="106" width="1" height="1" fill="#86867a" fill-opacity="0.6"/>
<rect x="219" y="103" width="1" height="1" fill="#86867a" fill-opacity="1.0"/>
<rect x="219" y="105" width="1" height="1" fill="#86867a" fill-opacity="1.0"/>
<rect x="220" y="102" width="1" height="1" fill="#86867a" fill-opacity="0.6"/>
<rect x="220" y="106" width="1" height="1" fill="#86867a" fill-opacity="0.6"/>
<rect x="224" y="103" width="1" height="1" fill="#86867a" fill-opacity="1.0"/>
<rect x="224" y="105" width="1" height="1" fill="#86867a" fill-opacity="1.0"/>
<rect x="225" y="102" width="1" height="1" fill="#86867a" fill-opacity="0.6"/>
<rect x="225" y="106" width="1" height="1" fill="#86867a" fill-opacity="0.6"/>
<rect x="229" y="103" width="1" height="1" fill="#86867a" fill-opacity="1.0"/>
<rect x="229" y="105" width="1" height="1" fill="#86867a" fill-opacity="1.0"/>
<rect x="230" y="102" width="1" height="1" fill="#86867a" fill-opacity="0.6"/>
<rect x="230" y="106" width="1" height="1" fill="#86867a" fill-opacity="0.6"/>
<rect x="234" y="103" width="1" height="1" fill="#86867a" fill-opacity="1.0"/>
<rect x="234" y="105" width="1" height="1" fill="#86867a" fill-opacity="1.0"/>
<rect x="235" y="102" width="1" height="1" fill="#86867a" fill-opacity="0.6"/>
<rect x="235" y="106" width="1" height="1" fill="#86867a" fill-opacity="0.6"/>
<rect x="239" y="103" width="1" height="1" fill="#86867a" fill-opacity="1.0"/>
<rect x="239" y="105" width="1" height="1" fill="#86867a" fill-opacity="1.0"/>
<rect x="240" y="102" width="1" height="1" fill="#86867a" fill-opacity="0.6"/>
<rect x="240" y="106" width="1" height="1" fill="#86867a" fill-opacity="0.6"/>
<rect x="244" y="103" width="1" height="1" fill="#86867a" fill-opacity="1.0"/>
<rect x="244" y="105" width="1" height="1" fill="#86867a" fill-opacity="1.0"/>
<rect x="245" y="102" width="1" height="1" fill="#86867a" fill-opacity="0.6"/>
<rect x="245" y="106" width="1" height="1" fill="#86867a" fill-opacity="0.6"/>
<rect x="249" y="103" width="1" height="1" fill="#86867a" fill-opacity="1.0"/>
<rect x="249" y="105" width="1" height="1" fill="#86867a" fill-opacity="1.0"/>
<rect x="250" y="102" width="1" height="1" fill="#86867a" fill-opacity="0.6"/>
<rect x="250" y="106" width="1" height="1" fill="#86867a" fill-opacity="0.6"/>
<rect x="254" y="103" width="1" height="1" fill="#86867a" fill-opacity="1.0"/>
<rect x="254" y="105" width="1" height="1" fill="#86867a" fill-opacity="1.0"/>
<rect x="255" y="102" width="1" height="1" fill="#86867a" fill-opacity="0.6"/>
<rect x="255" y="106" width="1" height="1" fill="#86867a" fill-opacity="0.6"/>
<rect x="259" y="103" width="1" height="1" fill="#86867a" fill-opacity="1.0"/>
<rect x="259" y="105" width="1" height="1" fill="#86867a" fill-opacity="1.0"/>
<rect x="260" y="102" width="1" height="1" fill="#86867a" fill-opacity="0.6"/>
<rect x="260" y="106" width="1" height="1" fill="#86867a" fill-opacity="0.6"/>
<rect x="264" y="103" width="1" height="1" fill="#86867a" fill-opacity="1.0"/>
<rect x="264" y="105" width="1" height="1" fill="#86867a" fill-opacity="1.0"/>
<rect x="265" y="102" width="1" height="1" fill="#86867a" fill-opacity="0.6"/>
<rect x="265" y="106" width="1" height="1" fill="#86867a" fill-opacity="0.6"/>
<rect x="269" y="103" width="1" height="1" fill="#86867a" fill-opacity="1.0"/>
<rect x="269" y="105" width="1" height="1" fill="#86867a" fill-opacity="1.0"/>
<rect x="270" y="102" width="1" height="1" fill="#86867a" fill-opacity="0.6"/>
<rect x="270" y="106" width="1" height="1" fill="#86867a" fill-opacity="0.6"/>
<rect x="274" y="103" width="1" height="1" fill="#86867a" fill-opacity="1.0"/>
<rect x="274" y="105" width="1" height="1" fill="#86867a" fill-opacity="1.0"/>
<rect x="275" y="102" width="1" height="1" fill="#86867a" fill-opacity="0.6"/>
<rect x="275" y="106" width="1" height="1" fill="#86867a" fill-opacity="0.6"/>
<rect x="279" y="103" width="1" height="1" fill="#86867a" fill-opacity="1.0"/>
<rect x="279" y="105" width="1" height="1" fill="#86867a" fill-opacity="1.0"/>
<rect x="280" y="102" width="1" height="1" fill="#86867a" fill-opacity="0.6"/>
<rect x="280" y="106" width="1" height="1" fill="#86867a" fill-opacity="0.6"/>
<rect x="284" y="103" width="1" height="1" fill="#86867a" fill-opacity="1.0"/>
<rect x="284" y="105" width="1" height="1" fill="#86867a" fill-opacity="1.0"/>
<rect x="285" y="102" width="1" height="1" fill="#86867a" fill-opacity="0.6"/>
<rect x="285" y="106" width="1" height="1" fill="#86867a" fill-opacity="0.6"/>
<rect x="289" y="103" width="1" height="1" fill="#86867a" fill-opacity="1.0"/>
<rect x="289" y="105" width="1" height="1" fill="#86867a" fill-opacity="1.0"/>
<rect x="290" y="102" width="1" height="1" fill="#86867a" fill-opacity="0.6"/>
<rect x="290" y="106" width="1" height="1" fill="#86867a" fill-opacity="0.6"/>
<rect x="294" y="103" width="1" height="1" fill="#86867a" fill-opacity="1.0"/>
<rect x="294" y="105" width="1" height="1" fill="#86867a" fill-opacity="1.0"/>
<rect x="295" y="102" width="1" height="1" fill="#86867a" fill-opacity="0.6"/>
<rect x="295" y="106" width="1" height="1" fill="#86867a" fill-opacity="0.6"/>
<rect x="299" y="103" width="1" height="1" fill="#86867a" fill-opacity="1.0"/>
<rect x="299" y="105" width="1" height="1" fill="#86867a" fill-opacity="1.0"/>
<rect x="300" y="102" width="1" height="1" fill="#86867a" fill-opacity="0.6"/>
<rect x="300" y="106" width="1" height="1" fill="#86867a" fill-opacity="0.6"/>
<rect x="304" y="103" width="1" height="1" fill="#86867a" fill-opacity="1.0"/>
<rect x="304" y="105" width="1" height="1" fill="#86867a" fill-opacity="1.0"/>
<rect x="305" y="102" width="1" height="1" fill="#86867a" fill-opacity="0.6"/>
<rect x="305" y="106" width="1" height="1" fill="#86867a" fill-opacity="0.6"/>
<rect x="143" y="100" width="1" height="9" fill="#0000ff"/>
<rect x="146" y="100" width="1" height="9" fill="#0000ff"/>
<rect x="148" y="100" width="2" height="9" fill="#0000ff"/>
<rect x="151" y="100" width="2" height="9" fill="#0000ff"/>
<rect x="191" y="100" width="1" height="9" fill="#0000ff"/>
<rect x="214" y="100" width="1" height="9" fill="#0000ff"/>
<rect x="308" y="100" width="1" height="9" fill="#0000ff"/>
<rect x="309" y="102" width="1" height="5" fill="#0000ff"/>
<rect x="726" y="104" width="14" height="1" fill="#0000ff"/>
<rect x="726" y="100" width="3" height="9" fill="#0000ff"/>
<rect x="730" y="100" width="6" height="9" fill="#0000ff"/>
<rect x="737" y="100" width="2" height="9" fill="#0000ff"/>
<rect x="739" y="102" width="1" height="5" fill="#0000ff"/>
<text transform="translate(722.5 107.0) scale(1.0989 1)" fill="#0000ff" stroke="#0000ff" text-anchor="end" xml:space="preserve">NFRKB  XM_018043225.1</text>
<rect x="143" y="114" width="380" height="1" fill="#0000ff"/>
<rect x="154" y="113" width="1" height="1" fill="#86867a" fill-opacity="1.0"/>
<rect x="154" y="115" width="1" height="1" fill="#86867a" fill-opacity="1.0"/>
<rect x="155" y="112" width="1" height="1" fill="#86867a" fill-opacity="0.6"/>
<rect x="155" y="116" width="1" height="1" fill="#86867a" fill-opacity="0.6"/>
<rect x="159" y="113" width="1" height="1" fill="#86867a" fill-opacity="1.0"/>
<rect x="159" y="115" width="1" height="1" fill="#86867a" fill-opacity="1.0"/>
<rect x="160" y="112" width="1" height="1" fill="#86867a" fill-opacity="0.6"/>
<rect x="160" y="116" width="1" height="1" fill="#86867a" fill-opacity="0.6"/>
<rect x="164" y="113" width="1" height="1" fill="#86867a" fill-opacity="1.0"/>
<rect x="164" y="115" width="1" height="1" fill="#86867a" fill-opacity="1.0"/>
<rect x="165" y="112" width="1" height="1" fill="#86867a" fill-opacity="0.6"/>
<rect x="165" y="116" width="1" height="1" fill="#86867a" fill-opacity="0.6"/>
<rect x="169" y="113" width="1" height="1" fill="#86867a" fill-opacity="1.0"/>
<rect x="169" y="115" width="1" height="1" fill="#86867a" fill-opacity="1.0"/>
<rect x="170" y="112" width="1" height="1" fill="#86867a" fill-opacity="0.6"/>
<rect x="170" y="116" width="1" height="1" fill="#86867a" fill-opacity="0.6"/>
<rect x="174" y="113" width="1" height="1" fill="#86867a" fill-opacity="1.0"/>
<rect x="174" y="115" width="1" height="1" fill="#86867a" fill-opacity="1.0"/>
<rect x="175" y="112" width="1" height="1" fill="#86867a" fill-opacity="0.6"/>
<rect x="175" y="116" width="1" height="1" fill="#86867a" fill-opacity="0.6"/>
<rect x="179" y="113" width="1" height="1" fill="#86867a" fill-opacity="1.0"/>
<rect x="179" y="115" width="1" height="1" fill="#86867a" fill-opacity="1.0"/>
<rect x="180" y="112" width="1" height="1" fill="#86867a" fill-opacity="0.6"/>
<rect x="180" y="116" width="1" height="1" fill="#86867a" fill-opacity="0.6"/>
<rect x="184" y="113" width="1" height="1" fill="#86867a" fill-opacity="1.0"/>
<rect x="184" y="115" width="1" height="1" fill="#86867a" fill-opacity="1.0"/>
<rect x="185" y="112" width="1" height="1" fill="#86867a" fill-opacity="0.6"/>
<rect x="185" y="116" width="1" height="1" fill="#86867a" fill-opacity="0.6"/>
<rect x="194" y="113" width="1" height="1" fill="#86867a" fill-opacity="1.0"/>
<rect x="194" y="115" width="1" height="1" fill="#86867a" fill-opacity="1.0"/>
<rect x="195" y="112" width="1" height="1" fill="#86867a" fill-opacity="0.6"/>
<rect x="195" y="116" width="1" height="1" fill="#86867a" fill-opacity="0.6"/>
<rect x="199" y="113" width="1" height="1" fill="#86867a" fill-opacity="1.0"/>
<rect x="199" y="115" width="1" height="1" fill="#86867a" fill-opacity="1.0"/>
<rect x="200" y="112" width="1" height="1" fill="#86867a" fill-opacity="0.6"/>
<rect x="200" y="116" width="1" height="1" fill="#86867a" fill-opacity="0.6"/>
<rect x="204" y="113" width="1" height="1" fill="#86867a" fill-opacity="1.0"/>
<rect x="204" y="115" width="1" height="1" fill="#86867a" fill-opacity="1.0"/>
<rect x="205" y="112" width="1" height="1" fill="#86867a" fill-opacity="0.6"/>
<rect x="205" y="116" width="1" height="1" fill="#86867a" fill-opacity="0.6"/>
<rect x="209" y="113" width="1" height="1" fill="#86867a" fill-opacity="1.0"/>
<rect x="209" y="115" width="1" height="1" fill="#86867a" fill-opacity="1.0"/>
<rect x="210" y="112" width="1" height="1" fill="#86867a" fill-opacity="0.6"/>
<rect x="210" y="116" width="1" height="1" fill="#86867a" fill-opacity="0.6"/>
<rect x="219" y="113" width="1" height="1" fill="#86867a" fill-opacity="1.0"/>
<rect x="219" y="115" width="1" height="1" fill="#86867a" fill-opacity="1.0"/>
<rect x="220" y="112" width="1" height="1" fill="#86867a" fill-opacity="0.6"/>
<rect x="220" y="116" width="1" height="1" fill="#86867a" fill-opacity="0.6"/>
<rect x="224" y="113" width="1" height="1" fill="#86867a" fill-opacity="1.0"/>
<rect x="224" y="115" width="1" height="1" fill="#86867a" fill-opacity="1.0"/>
<rect x="225" y="112" width="1" height="1" fill="#86867a" fill-opacity="0.6"/>
<rect x="225" y="116" width="1" height="1" fill="#86867a" fill-opacity="0.6"/>
<rect x="229" y="113" width="1" height="1" fill="#86867a" fill-opacity="1.0"/>
<rect x="229" y="115" width="1" height="1" fill="#86867a" fill-opacity="1.0"/>
<rect x="230" y="112" width="1" height="1" fill="#86867a" fill-opacity="0.6"/>
<rect x="230" y="116" width="1" height="1" fill="#86867a" fill-opacity="0.6"/>
<rect x="234" y="113" width="1" height="1" fill="#86867a" fill-opacity="1.0"/>
<rect x="234" y="115" width="1" height="1" fill="#86867a" fill-opacity="1.0"/>
<rect x="235" y="112" width="1" height="1" fill="#86867a" fill-opacity="0.6"/>
<rect x="235" y="116" width="1" height="1" fill="#86867a" fill-opacity="0.6"/>
<rect x="239" y="113" width="1" height="1" fill="#86867a" fill-opacity="1.0"/>
<rect x="239" y="115" width="1" height="1" fill="#86867a" fill-opacity="1.0"/>
<rect x="240" y="112" width="1" height="1" fill="#86867a" fill-opacity="0.6"/>
<rect x="240" y="116" width="1" height="1" fill="#86867a" fill-opacity="0.6"/>
<rect x="244" y="113" width="1" height="1" fill="#86867a" fill-opacity="1.0"/>
<rect x="244" y="115" width="1" height="1" fill="#86867a" fill-opacity="1.0"/>
<rect x="245" y="112" width="1" height="1" fill="#86867a" fill-opacity="0.6"/>
<rect x="245" y="116" width="1" height="1" fill="#86867a" fill-opacity="0.6"/>
<rect x="249" y="113" width="1" height="1" fill="#86867a" fill-opacity="1.0"/>
<rect x="249" y="115" width="1" height="1" fill="#86867a" fill-opacity="1.0"/>
<rect x="250" y="112" width="1" height="1" fill="#86867a" fill-opacity="0.6"/>
<rect x="250" y="116" width="1" height="1" fill="#86867a" fill-opacity="0.6"/>
<rect x="254" y="113" width="1" height="1" fill="#86867a" fill-opacity="1.0"/>
<rect x="254" y="115" width="1" height="1" fill="#86867a" fill-opacity="1.0"/>
<rect x="255" y="112" width="1" height="1" fill="#86867a" fill-opacity="0.6"/>
<rect x="255" y="116" width="1" height="1" fill="#86867a" fill-opacity="0.6"/>
<rect x="259" y="113" width="1" height="1" fill="#86867a" fill-opacity="1.0"/>
<rect x="259" y="115" width="1" height="1" fill="#86867a" fill-opacity="1.0"/>
<rect x="260" y="112" width="1" height="1" fill="#86867a" fill-opacity="0.6"/>
<rect x="260" y="116" width="1" height="1" fill="#86867a" fill-opacity="0.6"/>
<rect x="264" y="113" width="1" height="1" fill="#86867a" fill-opacity="1.0"/>
<rect x="264" y="115" width="1" height="1" fill="#86867a" fill-opacity="1.0"/>
<rect x="265" y="112" width="1" height="1" fill="#86867a" fill-opacity="0.6"/>
<rect x="265" y="116" width="1" height="1" fill="#86867a" fill-opacity="0.6"/>
<rect x="269" y="113" width="1" height="1" fill="#86867a" fill-opacity="1.0"/>
<rect x="269" y="115" width="1" height="1" fill="#86867a" fill-opacity="1.0"/>
<rect x="270" y="112" width="1" height="1" fill="#86867a" fill-opacity="0.6"/>
<rect x="270" y="116" width="1" height="1" fill="#86867a" fill-opacity="0.6"/>
<rect x="274" y="113" width="1" height="1" fill="#86867a" fill-opacity="1.0"/>
<rect x="274" y="115" width="1" height="1" fill="#86867a" fill-opacity="1.0"/>
<rect x="275" y="112" width="1" height="1" fill="#86867a" fill-opacity="0.6"/>
<rect x="275" y="116" width="1" height="1" fill="#86867a" fill-opacity="0.6"/>
<rect x="279" y="113" width="1" height="1" fill="#86867a" fill-opacity="1.0"/>
<rect x="279" y="115" width="1" height="1" fill="#86867a" fill-opacity="1.0"/>
<rect x="280" y="112" width="1" height="1" fill="#86867a" fill-opacity="0.6"/>
<rect x="280" y="116" width="1" height="1" fill="#86867a" fill-opacity="0.6"/>
<rect x="284" y="113" width="1" height="1" fill="#86867a" fill-opacity="1.0"/>
<rect x="284" y="115" width="1" height="1" fill="#86867a" fill-opacity="1.0"/>
<rect x="285" y="112" width="1" height="1" fill="#86867a" fill-opacity="0.6"/>
<rect x="285" y="116" width="1" height="1" fill="#86867a" fill-opacity="0.6"/>
<rect x="289" y="113" width="1" height="1" fill="#86867a" fill-opacity="1.0"/>
<rect x="289" y="115" width="1" height="1" fill="#86867a" fill-opacity="1.0"/>
<rect x="290" y="112" width="1" height="1" fill="#86867a" fill-opacity="0.6"/>
<rect x="290" y="116" width="1" height="1" fill="#86867a" fill-opacity="0.6"/>
<rect x="294" y="113" width="1" height="1" fill="#86867a" fill-opacity="1.0"/>
<rect x="294" y="115" width="1" height="1" fill="#86867a" fill-opacity="1.0"/>
<rect x="295" y="112" width="1" height="1" fill="#86867a" fill-opacity="0.6"/>
<rect x="295" y="116" width="1" height="1" fill="#86867a" fill-opacity="0.6"/>
<rect x="299" y="113" width="1" height="1" fill="#86867a" fill-opacity="1.0"/>
<rect x="299" y="115" width="1" height="1" fill="#86867a" fill-opacity="1.0"/>
<rect x="300" y="112" width="1" height="1" fill="#86867a" fill-opacity="0.6"/>
<rect x="300" y="116" width="1" height="1" fill="#86867a" fill-opacity="0.6"/>
<rect x="304" y="113" width="1" height="1" fill="#86867a" fill-opacity="1.0"/>
<rect x="304" y="115" width="1" height="1" fill="#86867a" fill-opacity="1.0"/>
<rect x="305" y="112" width="1" height="1" fill="#86867a" fill-opacity="0.6"/>
<rect x="305" y="116" width="1" height="1" fill="#86867a" fill-opacity="0.6"/>
<rect x="309" y="113" width="1" height="1" fill="#86867a" fill-opacity="1.0"/>
<rect x="309" y="115" width="1" height="1" fill="#86867a" fill-opacity="1.0"/>
<rect x="310" y="112" width="1" height="1" fill="#86867a" fill-opacity="0.6"/>
<rect x="310" y="116" width="1" height="1" fill="#86867a" fill-opacity="0.6"/>
<rect x="314" y="113" width="1" height="1" fill="#86867a" fill-opacity="1.0"/>
<rect x="314" y="115" width="1" height="1" fill="#86867a" fill-opacity="1.0"/>
<rect x="315" y="112" width="1" height="1" fill="#86867a" fill-opacity="0.6"/>
<rect x="315" y="116" width="1" height="1" fill="#86867a" fill-opacity="0.6"/>
<rect x="319" y="113" width="1" height="1" fill="#86867a" fill-opacity="1.0"/>
<rect x="319" y="115" width="1" height="1" fill="#86867a" fill-opacity="1.0"/>
<rect x="320" y="112" width="1" height="1" fill="#86867a" fill-opacity="0.6"/>
<rect x="320" y="116" width="1" height="1" fill="#86867a" fill-opacity="0.6"/>
<rect x="324" y="113" width="1" height="1" fill="#86867a" fill-opacity="1.0"/>
<rect x="324" y="115" width="1" height="1" fill="#86867a" fill-opacity="1.0"/>
<rect x="325" y="112" width="1" height="1" fill="#86867a" fill-opacity="0.6"/>
<rect x="325" y="116" width="1" height="1" fill="#86867a" fill-opacity="0.6"/>
<rect x="329" y="113" width="1" height="1" fill="#86867a" fill-opacity="1.0"/>
<rect x="329" y="115" width="1" height="1" fill="#86867a" fill-opacity="1.0"/>
<rect x="330" y="112" width="1" height="1" fill="#86867a" fill-opacity="0.6"/>
<rect x="330" y="116" width="1" height="1" fill="#86867a" fill-opacity="0.6"/>
<rect x="334" y="113" width="1" height="1" fill="#86867a" fill-opacity="1.0"/>
<rect x="334" y="115" width="1" height="1" fill="#86867a" fill-opacity="1.0"/>
<rect x="335" y="112" width="1" height="1" fill="#86867a" fill-opacity="0.6"/>
<rect x="335" y="116" width="1" height="1" fill="#86867a" fill-opacity="0.6"/>
<rect x="339" y="113" width="1" height="1" fill="#86867a" fill-opacity="1.0"/>
<rect x="339" y="115" width="1" height="1" fill="#86867a" fill-opacity="1.0"/>
<rect x="340" y="112" width="1" height="1" fill="#86867a" fill-opacity="0.6"/>
<rect x="340" y="116" width="1" height="1" fill="#86867a" fill-opacity="0.6"/>
<rect x="344" y="113" width="1" height="1" fill="#86867a" fill-opacity="1.0"/>
<rect x="344" y="115" width="1" height="1" fill="#86867a" fill-opacity="1.0"/>
<rect x="345" y="112" width="1" height="1" fill="#86867a" fill-opacity="0.6"/>
<rect x="345" y="116" width="1" height="1" fill="#86867a" fill-opacity="0.6"/>
<rect x="349" y="113" width="1" height="1" fill="#86867a" fill-opacity="1.0"/>
<rect x="349" y="115" width="1" height="1" fill="#86867a" fill-opacity="1.0"/>
<rect x="350" y="112" width="1" height="1" fill="#86867a" fill-opacity="0.6"/>
<rect x="350" y="116" width="1" height="1" fill="#86867a" fill-opacity="0.6"/>
<rect x="354" y="113" width="1" height="1" fill="#86867a" fill-opacity="1.0"/>
<rect x="354" y="115" width="1" height="1" fill="#86867a" fill-opacity="1.0"/>
<rect x="355" y="112" width="1" height="1" fill="#86867a" fill-opacity="0.6"/>
<rect x="355" y="116" width="1" height="1" fill="#86867a" fill-opacity="0.6"/>
<rect x="359" y="113" width="1" height="1" fill="#86867a" fill-opacity="1.0"/>
<rect x="359" y="115" width="1" height="1" fill="#86867a" fill-opacity="1.0"/>
<rect x="360" y="112" width="1" height="1" fill="#86867a" fill-opacity="0.6"/>
<rect x="360" y="116" width="1" height="1" fill="#86867a" fill-opacity="0.6"/>
<rect x="364" y="113" width="1" height="1" fill="#86867a" fill-opacity="1.0"/>
<rect x="364" y="115" width="1" height="1" fill="#86867a" fill-opacity="1.0"/>
<rect x="365" y="112" width="1" height="1" fill="#86867a" fill-opacity="0.6"/>
<rect x="365" y="116" width="1" height="1" fill="#86867a" fill-opacity="0.6"/>
<rect x="369" y="113" width="1" height="1" fill="#86867a" fill-opacity="1.0"/>
<rect x="369" y="115" width="1" height="1" fill="#86867a" fill-opacity="1.0"/>
<rect x="370" y="112" width="1" height="1" fill="#86867a" fill-opacity="0.6"/>
<rect x="370" y="116" width="1" height="1" fill="#86867a" fill-opacity="0.6"/>
<rect x="374" y="113" width="1" height="1" fill="#86867a" fill-opacity="1.0"/>
<rect x="374" y="115" width="1" height="1" fill="#86867a" fill-opacity="1.0"/>
<rect x="375" y="112" width="1" height="1" fill="#86867a" fill-opacity="0.6"/>
<rect x="375" y="116" width="1" height="1" fill="#86867a" fill-opacity="0.6"/>
<rect x="379" y="113" width="1" height="1" fill="#86867a" fill-opacity="1.0"/>
<rect x="379" y="115" width="1" height="1" fill="#86867a" fill-opacity="1.0"/>
<rect x="380" y="112" width="1" height="1" fill="#86867a" fill-opacity="0.6"/>
<rect x="380" y="116" width="1" height="1" fill="#86867a" fill-opacity="0.6"/>
<rect x="384" y="113" width="1" height="1" fill="#86867a" fill-opacity="1.0"/>
<rect x="384" y="115" width="1" height="1" fill="#86867a" fill-opacity="1.0"/>
<rect x="385" y="112" width="1" height="1" fill="#86867a" fill-opacity="0.6"/>
<rect x="385" y="116" width="1" height="1" fill="#86867a" fill-opacity="0.6"/>
<rect x="389" y="113" width="1" height="1" fill="#86867a" fill-opacity="1.0"/>
<rect x="389" y="115" width="1" height="1" fill="#86867a" fill-opacity="1.0"/>
<rect x="390" y="112" width="1" height="1" fill="#86867a" fill-opacity="0.6"/>
<rect x="390" y="116" width="1" height="1" fill="#86867a" fill-opacity="0.6"/>
<rect x="394" y="113" width="1" height="1" fill="#86867a" fill-opacity="1.0"/>
<rect x="394" y="115" width="1" height="1" fill="#86867a" fill-opacity="1.0"/>
<rect x="395" y="112" width="1" height="1" fill="#86867a" fill-opacity="0.6"/>
<rect x="395" y="116" width="1" height="1" fill="#86867a" fill-opacity="0.6"/>
<rect x="399" y="113" width="1" height="1" fill="#86867a" fill-opacity="1.0"/>
<rect x="399" y="115" width="1" height="1" fill="#86867a" fill-opacity="1.0"/>
<rect x="400" y="112" width="1" height="1" fill="#86867a" fill-opacity="0.6"/>
<rect x="400" y="116" width="1" height="1" fill="#86867a" fill-opacity="0.6"/>
<rect x="404" y="113" width="1" height="1" fill="#86867a" fill-opacity="1.0"/>
<rect x="404" y="115" width="1" height="1" fill="#86867a" fill-opacity="1.0"/>
<rect x="405" y="112" width="1" height="1" fill="#86867a" fill-opacity="0.6"/>
<rect x="405" y="116" width="1" height="1" fill="#86867a" fill-opacity="0.6"/>
<rect x="409" y="113" width="1" height="1" fill="#86867a" fill-opacity="1.0"/>
<rect x="409" y="115" width="1" height="1" fill="#86867a" fill-opacity="1.0"/>
<rect x="410" y="112" width="1" height="1" fill="#86867a" fill-opacity="0.6"/>
<rect x="410" y="116" width="1" height="1" fill="#86867a" fill-opacity="0.6"/>
<rect x="414" y="113" width="1" height="1" fill="#86867a" fill-opacity="1.0"/>
<rect x="414" y="115" width="1" height="1" fill="#86867a" fill-opacity="1.0"/>
<rect x="415" y="112" width="1" height="1" fill="#86867a" fill-opacity="0.6"/>
<rect x="415" y="116" width="1" height="1" fill="#86867a" fill-opacity="0.6"/>
<rect x="419" y="113" width="1" height="1" fill="#86867a" fill-opacity="1.0"/>
<rect x="419" y="115" width="1" height="1" fill="#86867a" fill-opacity="1.0"/>
<rect x="420" y="112" width="1" height="1" fill="#86867a" fill-opacity="0.6"/>
<rect x="420" y="116" width="1" height="1" fill="#86867a" fill-opacity="0.6"/>
<rect x="424" y="113" width="1" height="1" fill="#86867a" fill-opacity="1.0"/>
<rect x="424" y="115" width="1" height="1" fill="#86867a" fill-opacity="1.0"/>
<rect x="425" y="112" width="1" height="1" fill="#86867a" fill-opacity="0.6"/>
<rect x="425" y="116" width="1" height="1" fill="#86867a" fill-opacity="0.6"/>
<rect x="429" y="113" width="1" height="1" fill="#86867a" fill-opacity="1.0"/>
<rect x="429" y="115" width="1" height="1" fill="#86867a" fill-opacity="1.0"/>
<rect x="430" y="112" width="1" height="1" fill="#86867a" fill-opacity="0.6"/>
<rect x="430" y="116" width="1" height="1" fill="#86867a" fill-opacity="0.6"/>
<rect x="434" y="113" width="1" height="1" fill="#86867a" fill-opacity="1.0"/>
<rect x="434" y="115" width="1" height="1" fill="#86867a" fill-opacity="1.0"/>
<rect x="435" y="112" width="1" height="1" fill="#86867a" fill-opacity="0.6"/>
<rect x="435" y="116" width="1" height="1" fill="#86867a" fill-opacity="0.6"/>
<rect x="439" y="113" width="1" height="1" fill="#86867a" fill-opacity="1.0"/>
<rect x="439" y="115" width="1" height="1" fill="#86867a" fill-opacity="1.0"/>
<rect x="440" y="112" width="1" height="1" fill="#86867a" fill-opacity="0.6"/>
<rect x="440" y="116" width="1" height="1" fill="#86867a" fill-opacity="0.6"/>
<rect x="444" y="113" width="1" height="1" fill="#86867a" fill-opacity="1.0"/>
<rect x="444" y="115" width="1" height="1" fill="#86867a" fill-opacity="1.0"/>
<rect x="445" y="112" width="1" height="1" fill="#86867a" fill-opacity="0.6"/>
<rect x="445" y="116" width="1" height="1" fill="#86867a" fill-opacity="0.6"/>
<rect x="449" y="113" width="1" height="1" fill="#86867a" fill-opacity="1.0"/>
<rect x="449" y="115" width="1" height="1" fill="#86867a" fill-opacity="1.0"/>
<rect x="450" y="112" width="1" height="1" fill="#86867a" fill-opacity="0.6"/>
<rect x="450" y="116" width="1" height="1" fill="#86867a" fill-opacity="0.6"/>
<rect x="454" y="113" width="1" height="1" fill="#86867a" fill-opacity="1.0"/>
<rect x="454" y="115" width="1" height="1" fill="#86867a" fill-opacity="1.0"/>
<rect x="455" y="112" width="1" height="1" fill="#86867a" fill-opacity="0.6"/>
<rect x="455" y="116" width="1" height="1" fill="#86867a" fill-opacity="0.6"/>
<rect x="459" y="113" width="1" height="1" fill="#86867a" fill-opacity="1.0"/>
<rect x="459" y="115" width="1" height="1" fill="#86867a" fill-opacity="1.0"/>
<rect x="460" y="112" width="1" height="1" fill="#86867a" fill-opacity="0.6"/>
<rect x="460" y="116" width="1" height="1" fill="#86867a" fill-opacity="0.6"/>
<rect x="464" y="113" width="1" height="1" fill="#86867a" fill-opacity="1.0"/>
<rect x="464" y="115" width="1" height="1" fill="#86867a" fill-opacity="1.0"/>
<rect x="465" y="112" width="1" height="1" fill="#86867a" fill-opacity="0.6"/>
<rect x="465" y="116" width="1" height="1" fill="#86867a" fill-opacity="0.6"/>
<rect x="469" y="113" width="1" height="1" fill="#86867a" fill-opacity="1.0"/>
<rect x="469" y="115" width="1" height="1" fill="#86867a" fill-opacity="1.0"/>
<rect x="470" y="112" width="1" height="1" fill="#86867a" fill-opacity="0.6"/>
<rect x="470" y="116" width="1" height="1" fill="#86867a" fill-opacity="0.6"/>
<rect x="474" y="113" width="1" height="1" fill="#86867a" fill-opacity="1.0"/>
<rect x="474" y="115" width="1" height="1" fill="#86867a" fill-opacity="1.0"/>
<rect x="475" y="112" width="1" height="1" fill="#86867a" fill-opacity="0.6"/>
<rect x="475" y="116" width="1" height="1" fill="#86867a" fill-opacity="0.6"/>
<rect x="479" y="113" width="1" height="1" fill="#86867a" fill-opacity="1.0"/>
<rect x="479" y="115" width="1" height="1" fill="#86867a" fill-opacity="1.0"/>
<rect x="480" y="112" width="1" height="1" fill="#86867a" fill-opacity="0.6"/>
<rect x="480" y="116" width="1" height="1" fill="#86867a" fill-opacity="0.6"/>
<rect x="484" y="113" width="1" height="1" fill="#86867a" fill-opacity="1.0"/>
<rect x="484" y="115" width="1" height="1" fill="#86867a" fill-opacity="1.0"/>
<rect x="485" y="112" width="1" height="1" fill="#86867a" fill-opacity="0.6"/>
<rect x="485" y="116" width="1" height="1" fill="#86867a" fill-opacity="0.6"/>
<rect x="489" y="113" width="1" height="1" fill="#86867a" fill-opacity="1.0"/>
<rect x="489" y="115" width="1" height="1" fill="#86867a" fill-opacity="1.0"/>
<rect x="490" y="112" width="1" height="1" fill="#86867a" fill-opacity="0.6"/>
<rect x="490" y="116" width="1" height="1" fill="#86867a" fill-opacity="0.6"/>
<rect x="494" y="113" width="1" height="1" fill="#86867a" fill-opacity="1.0"/>
<rect x="494" y="115" width="1" height="1" fill="#86867a" fill-opacity="1.0"/>
<rect x="495" y="112" width="1" height="1" fill="#86867a" fill-opacity="0.6"/>
<rect x="495" y="116" width="1" height="1" fill="#86867a" fill-opacity="0.6"/>
<rect x="499" y="113" width="1" height="1" fill="#86867a" fill-opacity="1.0"/>
<rect x="499" y="115" width="1" height="1" fill="#86867a" fill-opacity="1.0"/>
<rect x="500" y="112" width="1" height="1" fill="#86867a" fill-opacity="0.6"/>
<rect x="500" y="116" width="1" height="1" fill="#86867a" fill-opacity="0.6"/>
<rect x="504" y="113" width="1" height="1" fill="#86867a" fill-opacity="1.0"/>
<rect x="504" y="115" width="1" height="1" fill="#86867a" fill-opacity="1.0"/>
<rect x="505" y="112" width="1" height="1" fill="#86867a" fill-opacity="0.6"/>
<rect x="505" y="116" width="1" height="1" fill="#86867a" fill-opacity="0.6"/>
<rect x="509" y="113" width="1" height="1" fill="#86867a" fill-opacity="1.0"/>
<rect x="509" y="115" width="1" height="1" fill="#86867a" fill-opacity="1.0"/>
<rect x="510" y="112" width="1" height="1" fill="#86867a" fill-opacity="0.6"/>
<rect x="510" y="116" width="1" height="1" fill="#86867a" fill-opacity="0.6"/>
<rect x="514" y="113" width="1" height="1" fill="#86867a" fill-opacity="1.0"/>
<rect x="514" y="115" width="1" height="1" fill="#86867a" fill-opacity="1.0"/>
<rect x="515" y="112" width="1" height="1" fill="#86867a" fill-opacity="0.6"/>
<rect x="515" y="116" width="1" height="1" fill="#86867a" fill-opacity="0.6"/>
<rect x="519" y="113" width="1" height="1" fill="#86867a" fill-opacity="1.0"/>
<rect x="519" y="115" width="1" height="1" fill="#86867a" fill-opacity="1.0"/>
<rect x="520" y="112" width="1" height="1" fill="#86867a" fill-opacity="0.6"/>
<rect x="520" y="116" width="1" height="1" fill="#86867a" fill-opacity="0.6"/>
<rect x="143" y="110" width="1" height="9" fill="#0000ff"/>
<rect x="146" y="110" width="1" height="9" fill="#0000ff"/>
<rect x="148" y="110" width="2" height="9" fill="#0000ff"/>
<rect x="151" y="110" width="2" height="9" fill="#0000ff"/>
<rect x="191" y="110" width="1" height="9" fill="#0000ff"/>
<rect x="214" y="110" width="1" height="9" fill="#0000ff"/>
<rect x="308" y="110" width="1" height="9" fill="#0000ff"/>
<rect x="522" y="110" width="1" height="9" fill="#0000ff"/>
<rect x="726" y="114" width="14" height="1" fill="#0000ff"/>
<rect x="726" y="110" width="3" height="9" fill="#0000ff"/>
<rect x="730" y="110" width="6" height="9" fill="#0000ff"/>
<rect x="737" y="110" width="2" height="9" fill="#0000ff"/>
<rect x="739" y="112" width="1" height="5" fill="#0000ff"/>
<text transform="translate(722.5 117.0) scale(1.0989 1)" fill="#0000ff" stroke="#0000ff" text-anchor="end" xml:space="preserve">NFRKB  XM_018043226.1</text>
<rect x="740" y="124" width="38" height="1" fill="#0000ff"/>
<rect x="758" y="123" width="1" height="1" fill="#86867a" fill-opacity="1.0"/>
<rect x="758" y="125" width="1" height="1" fill="#86867a" fill-opacity="1.0"/>
<rect x="759" y="122" width="1" height="1" fill="#86867a" fill-opacity="0.6"/>
<rect x="759" y="126" width="1" height="1" fill="#86867a" fill-opacity="0.6"/>
<rect x="768" y="123" width="1" height="1" fill="#86867a" fill-opacity="1.0"/>
<rect x="768" y="125" width="1" height="1" fill="#86867a" fill-opacity="1.0"/>
<rect x="769" y="122" width="1" height="1" fill="#86867a" fill-opacity="0.6"/>
<rect x="769" y="126" width="1" height="1" fill="#86867a" fill-opacity="0.6"/>
<rect x="773" y="123" width="1" height="1" fill="#86867a" fill-opacity="1.0"/>
<rect x="773" y="125" width="1" height="1" fill="#86867a" fill-opacity="1.0"/>
<rect x="774" y="122" width="1" height="1" fill="#86867a" fill-opacity="0.6"/>
<rect x="774" y="126" width="1" height="1" fill="#86867a" fill-opacity="0.6"/>
<rect x="740" y="122" width="1" height="5" fill="#0000ff"/>
<rect x="741" y="120" width="3" height="9" fill="#0000ff"/>
<rect x="745" y="120" width="6" height="9" fill="#0000ff"/>
<rect x="752" y="120" width="5" height="9" fill="#0000ff"/>
<rect x="763" y="120" width="3" height="9" fill="#0000ff"/>
<rect x="777" y="122" width="1" height="5" fill="#0000ff"/>
<text transform="translate(736.5 127.0) scale(1.0989 1)" fill="#0000ff" stroke="#0000ff" text-anchor="end" xml:space="preserve">PRDM10  XM_005699638.3</text>
<rect x="740" y="134" width="38" height="1" fill="#0000ff"/>
<rect x="758" y="133" width="1" height="1" fill="#86867a" fill-opacity="1.0"/>
<rect x="758" y="135" width="1" height="1" fill="#86867a" fill-opacity="1.0"/>
<rect x="759" y="132" width="1" height="1" fill="#86867a" fill-opacity="0.6"/>
<rect x="759" y="136" width="1" height="1" fill="#86867a" fill-opacity="0.6"/>
<rect x="768" y="133" width="1" height="1" fill="#86867a" fill-opacity="1.0"/>
<rect x="768" y="135" width="1" height="1" fill="#86867a" fill-opacity="1.0"/>
<rect x="769" y="132" width="1" height="1" fill="#86867a" fill-opacity="0.6"/>
<rect x="769" y="136" width="1" height="1" fill="#86867a" fill-opacity="0.6"/>
<rect x="773" y="133" width="1" height="1" fill="#86867a" fill-opacity="1.0"/>
<rect x="773" y="135" width="1" height="1" fill="#86867a" fill-opacity="1.0"/>
<rect x="774" y="132" width="1" height="1" fill="#86867a" fill-opacity="0.6"/>
<rect x="774" y="136" width="1" height="1" fill="#86867a" fill-opacity="0.6"/>
<rect x="740" y="132" width="1" height="5" fill="#0000ff"/>
<rect x="741" y="130" width="3" height="9" fill="#0000ff"/>
<rect x="745" y="130" width="6" height="9" fill="#0000ff"/>
<rect x="752" y="130" width="5" height="9" fill="#0000ff"/>
<rect x="763" y="130" width="3" height="9" fill="#0000ff"/>
<rect x="777" y="132" width="1" height="5" fill="#0000ff"/>
<text transform="translate(736.5 137.0) scale(1.0989 1)" fill="#0000ff" stroke="#0000ff" text-anchor="end" xml:space="preserve">PRDM10  XM_013975851.2</text>
<rect x="782" y="142" width="1" height="5" fill="#ff0000"/>
<rect x="784" y="142" width="1" height="5" fill="#ff0000"/>
<text transform="translate(778.5 147.0) scale(1.0989 1)" fill="#ff0000" stroke="#ff0000" text-anchor="end" xml:space="preserve">LOC108634236  XR_001917506.1</text>
<rect x="799" y="154" width="26" height="1" fill="#ff0000"/>
<rect x="800" y="153" width="1" height="1" fill="#86867a" fill-opacity="1.0"/>
<rect x="800" y="155" width="1" height="1" fill="#86867a" fill-opacity="1.0"/>
<rect x="799" y="152" width="1" height="1" fill="#86867a" fill-opacity="0.6"/>
<rect x="799" y="156" width="1" height="1" fill="#86867a" fill-opacity="0.6"/>
<rect x="805" y="153" width="1" height="1" fill="#86867a" fill-opacity="1.0"/>
<rect x="805" y="155" width="1" height="1" fill="#86867a" fill-opacity="1.0"/>
<rect x="804" y="152" width="1" height="1" fill="#86867a" fill-opacity="0.6"/>
<rect x="804" y="156" width="1" height="1" fill="#86867a" fill-opacity="0.6"/>
<rect x="810" y="153" width="1" height="1" fill="#86867a" fill-opacity="1.0"/>
<rect x="810" y="155" width="1" height="1" fill="#86867a" fill-opacity="1.0"/>
<rect x="809" y="152" width="1" height="1" fill="#86867a" fill-opacity="0.6"/>
<rect x="809" y="156" width="1" height="1" fill="#86867a" fill-opacity="0.6"/>
<rect x="799" y="150" width="1" height="9" fill="#ff0000"/>
<rect x="813" y="150" width="1" height="9" fill="#ff0000"/>
<rect x="815" y="150" width="10" height="9" fill="#ff0000"/>
<text transform="translate(795.5 157.0) scale(1.0989 1)" fill="#ff0000" stroke="#ff0000" text-anchor="end" xml:space="preserve">APLP2  XM_018043160.1</text>
<rect x="799" y="164" width="26" height="1" fill="#ff0000"/>
<rect x="800" y="163" width="1" height="1" fill="#86867a" fill-opacity="1.0"/>
<rect x="800" y="165" width="1" height="1" fill="#86867a" fill-opacity="1.0"/>
<rect x="799" y="162" width="1" height="1" fill="#86867a" fill-opacity="0.6"/>
<rect x="799" y="166" width="1" height="1" fill="#86867a" fill-opacity="0.6"/>
<rect x="805" y="163" width="1" height="1" fill="#86867a" fill-opacity="1.0"/>
<rect x="805" y="165" width="1" height="1" fill="#86867a" fill-opacity="1.0"/>
<rect x="804" y="162" width="1" height="1" fill="#86867a" fill-opacity="0.6"/>
<rect x="804" y="166" width="1" height="1" fill="#86867a" fill-opacity="0.6"/>
<rect x="810" y="163" width="1" height="1" fill="#86867a" fill-opacity="1.0"/>
<rect x="810" y="165" width="1" height="1" fill="#86867a" fill-opacity="1.0"/>
<rect x="809" y="162" width="1" height="1" fill="#86867a" fill-opacity="0.6"/>
<rect x="809" y="166" width="1" height="1" fill="#86867a" fill-opacity="0.6"/>
<rect x="799" y="160" width="1" height="9" fill="#ff0000"/>
<rect x="813" y="160" width="1" height="9" fill="#ff0000"/>
<rect x="815" y="160" width="10" height="9" fill="#ff0000"/>
<text transform="translate(795.5 167.0) scale(1.0989 1)" fill="#ff0000" stroke="#ff0000" text-anchor="end" xml:space="preserve">APLP2  XM_018043163.1</text>
<rect x="799" y="174" width="26" height="1" fill="#ff0000"/>
<rect x="800" y="173" width="1" height="1" fill="#86867a" fill-opacity="1.0"/>
<rect x="800" y="175" width="1" height="1" fill="#86867a" fill-opacity="1.0"/>
<rect x="799" y="172" width="1" height="1" fill="#86867a" fill-opacity="0.6"/>
<rect x="799" y="176" width="1" height="1" fill="#86867a" fill-opacity="0.6"/>
<rect x="805" y="173" width="1" height="1" fill="#86867a" fill-opacity="1.0"/>
<rect x="805" y="175" width="1" height="1" fill="#86867a" fill-opacity="1.0"/>
<rect x="804" y="172" width="1" height="1" fill="#86867a" fill-opacity="0.6"/>
<rect x="804" y="176" width="1" height="1" fill="#86867a" fill-opacity="0.6"/>
<rect x="810" y="173" width="1" height="1" fill="#86867a" fill-opacity="1.0"/>
<rect x="810" y="175" width="1" height="1" fill="#86867a" fill-opacity="1.0"/>
<rect x="809" y="172" width="1" height="1" fill="#86867a" fill-opacity="0.6"/>
<rect x="809" y="176" width="1" height="1" fill="#86867a" fill-opacity="0.6"/>
<rect x="799" y="170" width="1" height="9" fill="#ff0000"/>
<rect x="813" y="170" width="1" height="9" fill="#ff0000"/>
<rect x="815" y="170" width="10" height="9" fill="#ff0000"/>
<text transform="translate(795.5 177.0) scale(1.0989 1)" fill="#ff0000" stroke="#ff0000" text-anchor="end" xml:space="preserve">APLP2  XM_018043164.1</text>
<rect x="799" y="184" width="26" height="1" fill="#ff0000"/>
<rect x="800" y="183" width="1" height="1" fill="#86867a" fill-opacity="1.0"/>
<rect x="800" y="185" width="1" height="1" fill="#86867a" fill-opacity="1.0"/>
<rect x="799" y="182" width="1" height="1" fill="#86867a" fill-opacity="0.6"/>
<rect x="799" y="186" width="1" height="1" fill="#86867a" fill-opacity="0.6"/>
<rect x="805" y="183" width="1" height="1" fill="#86867a" fill-opacity="1.0"/>
<rect x="805" y="185" width="1" height="1" fill="#86867a" fill-opacity="1.0"/>
<rect x="804" y="182" width="1" height="1" fill="#86867a" fill-opacity="0.6"/>
<rect x="804" y="186" width="1" height="1" fill="#86867a" fill-opacity="0.6"/>
<rect x="810" y="183" width="1" height="1" fill="#86867a" fill-opacity="1.0"/>
<rect x="810" y="185" width="1" height="1" fill="#86867a" fill-opacity="1.0"/>
<rect x="809" y="182" width="1" height="1" fill="#86867a" fill-opacity="0.6"/>
<rect x="809" y="186" width="1" height="1" fill="#86867a" fill-opacity="0.6"/>
<rect x="799" y="180" width="1" height="9" fill="#ff0000"/>
<rect x="813" y="180" width="1" height="9" fill="#ff0000"/>
<rect x="815" y="180" width="10" height="9" fill="#ff0000"/>
<text transform="translate(795.5 187.0) scale(1.0989 1)" fill="#ff0000" stroke="#ff0000" text-anchor="end" xml:space="preserve">APLP2  XM_018043165.1</text>
<rect x="799" y="194" width="26" height="1" fill="#ff0000"/>
<rect x="800" y="193" width="1" height="1" fill="#86867a" fill-opacity="1.0"/>
<rect x="800" y="195" width="1" height="1" fill="#86867a" fill-opacity="1.0"/>
<rect x="799" y="192" width="1" height="1" fill="#86867a" fill-opacity="0.6"/>
<rect x="799" y="196" width="1" height="1" fill="#86867a" fill-opacity="0.6"/>
<rect x="805" y="193" width="1" height="1" fill="#86867a" fill-opacity="1.0"/>
<rect x="805" y="195" width="1" height="1" fill="#86867a" fill-opacity="1.0"/>
<rect x="804" y="192" width="1" height="1" fill="#86867a" fill-opacity="0.6"/>
<rect x="804" y="196" width="1" height="1" fill="#86867a" fill-opacity="0.6"/>
<rect x="810" y="193" width="1" height="1" fill="#86867a" fill-opacity="1.0"/>
<rect x="810" y="195" width="1" height="1" fill="#86867a" fill-opacity="1.0"/>
<rect x="809" y="192" width="1" height="1" fill="#86867a" fill-opacity="0.6"/>
<rect x="809" y="196" width="1" height="1" fill="#86867a" fill-opacity="0.6"/>
<rect x="799" y="190" width="1" height="9" fill="#ff0000"/>
<rect x="813" y="190" width="1" height="9" fill="#ff0000"/>
<rect x="815" y="190" width="10" height="9" fill="#ff0000"/>
<text transform="translate(795.5 197.0) scale(1.0989 1)" fill="#ff0000" stroke="#ff0000" text-anchor="end" xml:space="preserve">APLP2  XM_018043162.1</text>
<rect x="799" y="204" width="26" height="1" fill="#ff0000"/>
<rect x="800" y="203" width="1" height="1" fill="#86867a" fill-opacity="1.0"/>
<rect x="800" y="205" width="1" height="1" fill="#86867a" fill-opacity="1.0"/>
<rect x="799" y="202" width="1" height="1" fill="#86867a" fill-opacity="0.6"/>
<rect x="799" y="206" width="1" height="1" fill="#86867a" fill-opacity="0.6"/>
<rect x="805" y="203" width="1" height="1" fill="#86867a" fill-opacity="1.0"/>
<rect x="805" y="205" width="1" height="1" fill="#86867a" fill-opacity="1.0"/>
<rect x="804" y="202" width="1" height="1" fill="#86867a" fill-opacity="0.6"/>
<rect x="804" y="206" width="1" height="1" fill="#86867a" fill-opacity="0.6"/>
<rect x="810" y="203" width="1" height="1" fill="#86867a" fill-opacity="1.0"/>
<rect x="810" y="205" width="1" height="1" fill="#86867a" fill-opacity="1.0"/>
<rect x="809" y="202" width="1" height="1" fill="#86867a" fill-opacity="0.6"/>
<rect x="809" y="206" width="1" height="1" fill="#86867a" fill-opacity="0.6"/>
<rect x="799" y="200" width="1" height="9" fill="#ff0000"/>
<rect x="813" y="200" width="1" height="9" fill="#ff0000"/>
<rect x="815" y="200" width="10" height="9" fill="#ff0000"/>
<text transform="translate(795.5 207.0) scale(1.0989 1)" fill="#ff0000" stroke="#ff0000" text-anchor="end" xml:space="preserve">APLP2  XM_018043166.1</text>
<rect x="823" y="212" width="2" height="5" fill="#0000ff"/>
<text transform="translate(819.5 217.0) scale(1.0989 1)" fill="#0000ff" stroke="#0000ff" text-anchor="end" xml:space="preserve">LOC108634186  gene25712</text>
<rect x="832" y="224" width="16" height="1" fill="#ff0000"/>
<rect x="835" y="223" width="1" height="1" fill="#86867a" fill-opacity="1.0"/>
<rect x="835" y="225" width="1" height="1" fill="#86867a" fill-opacity="1.0"/>
<rect x="834" y="222" width="1" height="1" fill="#86867a" fill-opacity="0.6"/>
<rect x="834" y="226" width="1" height="1" fill="#86867a" fill-opacity="0.6"/>
<rect x="832" y="220" width="1" height="9" fill="#ff0000"/>
<rect x="841" y="220" width="5" height="9" fill="#ff0000"/>
<rect x="847" y="220" width="1" height="9" fill="#ff0000"/>
<text transform="translate(828.5 227.0) scale(1.0989 1)" fill="#ff0000" stroke="#ff0000" text-anchor="end" xml:space="preserve">ST14  XM_018043377.1</text>
<rect x="832" y="234" width="16" height="1" fill="#ff0000"/>
<rect x="835" y="233" width="1" height="1" fill="#86867a" fill-opacity="1.0"/>
<rect x="835" y="235" width="1" height="1" fill="#86867a" fill-opacity="1.0"/>
<rect x="834" y="232" width="1" height="1" fill="#86867a" fill-opacity="0.6"/>
<rect x="834" y="236" width="1" height="1" fill="#86867a" fill-opacity="0.6"/>
<rect x="832" y="230" width="1" height="9" fill="#ff0000"/>
<rect x="841" y="230" width="5" height="9" fill="#ff0000"/>
<rect x="847" y="230" width="1" height="9" fill="#ff0000"/>
<text transform="translate(828.5 237.0) scale(1.0989 1)" fill="#ff0000" stroke="#ff0000" text-anchor="end" xml:space="preserve">ST14  XM_018043378.1</text>
<rect x="852" y="244" width="24" height="1" fill="#0000ff"/>
<rect x="868" y="243" width="1" height="1" fill="#86867a" fill-opacity="1.0"/>
<rect x="868" y="245" width="1" height="1" fill="#86867a" fill-opacity="1.0"/>
<rect x="869" y="242" width="1" height="1" fill="#86867a" fill-opacity="0.6"/>
<rect x="869" y="246" width="1" height="1" fill="#86867a" fill-opacity="0.6"/>
<rect x="873" y="243" width="1" height="1" fill="#86867a" fill-opacity="1.0"/>
<rect x="873" y="245" width="1" height="1" fill="#86867a" fill-opacity="1.0"/>
<rect x="874" y="242" width="1" height="1" fill="#86867a" fill-opacity="0.6"/>
<rect x="874" y="246" width="1" height="1" fill="#86867a" fill-opacity="0.6"/>
<rect x="852" y="242" width="3" height="5" fill="#0000ff"/>
<rect x="855" y="240" width="2" height="9" fill="#0000ff"/>
<rect x="858" y="240" width="1" height="9" fill="#0000ff"/>
<rect x="863" y="240" width="1" height="9" fill="#0000ff"/>
<rect x="875" y="242" width="1" height="5" fill="#0000ff"/>
<text transform="translate(848.5 247.0) scale(1.0989 1)" fill="#0000ff" stroke="#0000ff" text-anchor="end" xml:space="preserve">ZBTB44  XM_018043289.1</text>
<rect x="852" y="254" width="24" height="1" fill="#0000ff"/>
<rect x="868" y="253" width="1" height="1" fill="#86867a" fill-opacity="1.0"/>
<rect x="868" y="255" width="1" height="1" fill="#86867a" fill-opacity="1.0"/>
<rect x="869" y="252" width="1" height="1" fill="#86867a" fill-opacity="0.6"/>
<rect x="869" y="256" width="1" height="1" fill="#86867a" fill-opacity="0.6"/>
<rect x="873" y="253" width="1" height="1" fill="#86867a" fill-opacity="1.0"/>
<rect x="873" y="255" width="1" height="1" fill="#86867a" fill-opacity="1.0"/>
<rect x="874" y="252" width="1" height="1" fill="#86867a" fill-opacity="0.6"/>
<rect x="874" y="256" width="1" height="1" fill="#86867a" fill-opacity="0.6"/>
<rect x="852" y="252" width="3" height="5" fill="#0000ff"/>
<rect x="855" y="250" width="2" height="9" fill="#0000ff"/>
<rect x="858" y="250" width="1" height="9" fill="#0000ff"/>
<rect x="863" y="250" width="1" height="9" fill="#0000ff"/>
<rect x="875" y="252" width="1" height="5" fill="#0000ff"/>
<text transform="translate(848.5 257.0) scale(1.0989 1)" fill="#0000ff" stroke="#0000ff" text-anchor="end" xml:space="preserve">ZBTB44  XM_018043291.1</text>
<rect x="852" y="264" width="24" height="1" fill="#0000ff"/>
<rect x="868" y="263" width="1" height="1" fill="#86867a" fill-opacity="1.0"/>
<rect x="868" y="265" width="1" height="1" fill="#86867a" fill-opacity="1.0"/>
<rect x="869" y="262" width="1" height="1" fill="#86867a" fill-opacity="0.6"/>
<rect x="869" y="266" width="1" height="1" fill="#86867a" fill-opacity="0.6"/>
<rect x="873" y="263" width="1" height="1" fill="#86867a" fill-opacity="1.0"/>
<rect x="873" y="265" width="1" height="1" fill="#86867a" fill-opacity="1.0"/>
<rect x="874" y="262" width="1" height="1" fill="#86867a" fill-opacity="0.6"/>
<rect x="874" y="266" width="1" height="1" fill="#86867a" fill-opacity="0.6"/>
<rect x="852" y="262" width="3" height="5" fill="#0000ff"/>
<rect x="855" y="260" width="2" height="9" fill="#0000ff"/>
<rect x="858" y="260" width="1" height="9" fill="#0000ff"/>
<rect x="863" y="260" width="1" height="9" fill="#0000ff"/>
<rect x="875" y="262" width="1" height="5" fill="#0000ff"/>
<text transform="translate(848.5 267.0) scale(1.0989 1)" fill="#0000ff" stroke="#0000ff" text-anchor="end" xml:space="preserve">ZBTB44  XM_018043290.1</text>
<rect x="855" y="274" width="21" height="1" fill="#0000ff"/>
<rect x="868" y="273" width="1" height="1" fill="#86867a" fill-opacity="1.0"/>
<rect x="868" y="275" width="1" height="1" fill="#86867a" fill-opacity="1.0"/>
<rect x="869" y="272" width="1" height="1" fill="#86867a" fill-opacity="0.6"/>
<rect x="869" y="276" width="1" height="1" fill="#86867a" fill-opacity="0.6"/>
<rect x="873" y="273" width="1" height="1" fill="#86867a" fill-opacity="1.0"/>
<rect x="873" y="275" width="1" height="1" fill="#86867a" fill-opacity="1.0"/>
<rect x="874" y="272" width="1" height="1" fill="#86867a" fill-opacity="0.6"/>
<rect x="874" y="276" width="1" height="1" fill="#86867a" fill-opacity="0.6"/>
<rect x="855" y="270" width="2" height="9" fill="#0000ff"/>
<rect x="858" y="270" width="1" height="9" fill="#0000ff"/>
<rect x="863" y="270" width="1" height="9" fill="#0000ff"/>
<rect x="875" y="272" width="1" height="5" fill="#0000ff"/>
<text transform="translate(851.5 277.0) scale(1.0989 1)" fill="#0000ff" stroke="#0000ff" text-anchor="end" xml:space="preserve">ZBTB44  XM_018043292.1</text>
<rect x="143" y="293" width="72" height="1" fill="#0000ff"/>
<rect x="154" y="292" width="1" height="1" fill="#86867a" fill-opacity="1.0"/>
<rect x="154" y="294" width="1" height="1" fill="#86867a" fill-opacity="1.0"/>
<rect x="155" y="291" width="1" height="1" fill="#86867a" fill-opacity="0.6"/>
<rect x="155" y="295" width="1" height="1" fill="#86867a" fill-opacity="0.6"/>
<rect x="159" y="292" width="1" height="1" fill="#86867a" fill-opacity="1.0"/>
<rect x="159" y="294" width="1" height="1" fill="#86867a" fill-opacity="1.0"/>
<rect x="160" y="291" width="1" height="1" fill="#86867a" fill-opacity="0.6"/>
<rect x="160" y="295" width="1" height="1" fill="#86867a" fill-opacity="0.6"/>
<rect x="164" y="292" width="1" height="1" fill="#86867a" fill-opacity="1.0"/>
<rect x="164" y="294" width="1" height="1" fill="#86867a" fill-opacity="1.0"/>
<rect x="165" y="291" width="1" height="1" fill="#86867a" fill-opacity="0.6"/>
<rect x="165" y="295" width="1" height="1" fill="#86867a" fill-opacity="0.6"/>
<rect x="169" y="292" width="1" height="1" fill="#86867a" fill-opacity="1.0"/>
<rect x="169" y="294" width="1" height="1" fill="#86867a" fill-opacity="1.0"/>
<rect x="170" y="291" width="1" height="1" fill="#86867a" fill-opacity="0.6"/>
<rect x="170" y="295" width="1" height="1" fill="#86867a" fill-opacity="0.6"/>
<rect x="174" y="292" width="1" height="1" fill="#86867a" fill-opacity="1.0"/>
<rect x="174" y="294" width="1" height="1" fill="#86867a" fill-opacity="1.0"/>
<rect x="175" y="291" width="1" height="1" fill="#86867a" fill-opacity="0.6"/>
<rect x="175" y="295" width="1" height="1" fill="#86867a" fill-opacity="0.6"/>
<rect x="179" y="292" width="1" height="1" fill="#86867a" fill-opacity="1.0"/>
<rect x="179" y="294" width="1" height="1" fill="#86867a" fill-opacity="1.0"/>
<rect x="180" y="291" width="1" height="1" fill="#86867a" fill-opacity="0.6"/>
<rect x="180" y="295" width="1" height="1" fill="#86867a" fill-opacity="0.6"/>
<rect x="184" y="292" width="1" height="1" fill="#86867a" fill-opacity="1.0"/>
<rect x="184" y="294" width="1" height="1" fill="#86867a" fill-opacity="1.0"/>
<rect x="185" y="291" width="1" height="1" fill="#86867a" fill-opacity="0.6"/>
<rect x="185" y="295" width="1" height="1" fill="#86867a" fill-opacity="0.6"/>
<rect x="194" y="292" width="1" height="1" fill="#86867a" fill-opacity="1.0"/>
<rect x="194" y="294" width="1" height="1" fill="#86867a" fill-opacity="1.0"/>
<rect x="195" y="291" width="1" height="1" fill="#86867a" fill-opacity="0.6"/>
<rect x="195" y="295" width="1" height="1" fill="#86867a" fill-opacity="0.6"/>
<rect x="199" y="292" width="1" height="1" fill="#86867a" fill-opacity="1.0"/>
<rect x="199" y="294" width="1" height="1" fill="#86867a" fill-opacity="1.0"/>
<rect x="200" y="291" width="1" height="1" fill="#86867a" fill-opacity="0.6"/>
<rect x="200" y="295" width="1" height="1" fill="#86867a" fill-opacity="0.6"/>
<rect x="204" y="292" width="1" height="1" fill="#86867a" fill-opacity="1.0"/>
<rect x="204" y="294" width="1" height="1" fill="#86867a" fill-opacity="1.0"/>
<rect x="205" y="291" width="1" height="1" fill="#86867a" fill-opacity="0.6"/>
<rect x="205" y="295" width="1" height="1" fill="#86867a" fill-opacity="0.6"/>
<rect x="209" y="292" width="1" height="1" fill="#86867a" fill-opacity="1.0"/>
<rect x="209" y="294" width="1" height="1" fill="#86867a" fill-opacity="1.0"/>
<rect x="210" y="291" width="1" height="1" fill="#86867a" fill-opacity="0.6"/>
<rect x="210" y="295" width="1" height="1" fill="#86867a" fill-opacity="0.6"/>
<rect x="143" y="289" width="1" height="9" fill="#0000ff"/>
<rect x="148" y="289" width="2" height="9" fill="#0000ff"/>
<rect x="151" y="289" width="2" height="9" fill="#0000ff"/>
<rect x="191" y="289" width="1" height="9" fill="#0000ff"/>
<rect x="214" y="289" width="1" height="9" fill="#0000ff"/>
<rect x="433" y="293" width="5" height="1" fill="#ff0000"/>
<rect x="435" y="292" width="1" height="1" fill="#86867a" fill-opacity="1.0"/>
<rect x="435" y="294" width="1" height="1" fill="#86867a" fill-opacity="1.0"/>
<rect x="434" y="291" width="1" height="1" fill="#86867a" fill-opacity="0.6"/>
<rect x="434" y="295" width="1" height="1" fill="#86867a" fill-opacity="0.6"/>
<rect x="433" y="291" width="1" height="5" fill="#ff0000"/>
<rect x="436" y="291" width="2" height="5" fill="#ff0000"/>
<text transform="translate(429.5 296.0) scale(1.0989 1)" fill="#ff0000" stroke="#ff0000" text-anchor="end" xml:space="preserve">ENSCHIT00000003258</text>
<rect x="670" y="291" width="1" height="5" fill="#0000ff"/>
<text transform="translate(666.5 296.0) scale(1.0989 1)" fill="#0000ff" stroke="#0000ff" text-anchor="end" xml:space="preserve">RF00026  ENSCHIT00000005047</text>
<rect x="832" y="293" width="16" height="1" fill="#ff0000"/>
<rect x="835" y="292" width="1" height="1" fill="#86867a" fill-opacity="1.0"/>
<rect x="835" y="294" width="1" height="1" fill="#86867a" fill-opacity="1.0"/>
<rect x="834" y="291" width="1" height="1" fill="#86867a" fill-opacity="0.6"/>
<rect x="834" y="295" width="1" height="1" fill="#86867a" fill-opacity="0.6"/>
<rect x="832" y="289" width="1" height="9" fill="#ff0000"/>
<rect x="841" y="289" width="5" height="9" fill="#ff0000"/>
<rect x="847" y="289" width="1" height="9" fill="#ff0000"/>
<text transform="translate(828.5 296.0) scale(1.0989 1)" fill="#ff0000" stroke="#ff0000" text-anchor="end" xml:space="preserve">ST14  ENSCHIT00000040672</text>
<rect x="310" y="301" width="2" height="5" fill="#ff0000"/>
<text transform="translate(306.5 306.0) scale(1.0989 1)" fill="#ff0000" stroke="#ff0000" text-anchor="end" xml:space="preserve">ENSCHIT00000003245</text>
<rect x="492" y="303" width="31" height="1" fill="#0000ff"/>
<rect x="493" y="302" width="1" height="1" fill="#86867a" fill-opacity="1.0"/>
<rect x="493" y="304" width="1" height="1" fill="#86867a" fill-opacity="1.0"/>
<rect x="494" y="301" width="1" height="1" fill="#86867a" fill-opacity="0.6"/>
<rect x="494" y="305" width="1" height="1" fill="#86867a" fill-opacity="0.6"/>
<rect x="498" y="302" width="1" height="1" fill="#86867a" fill-opacity="1.0"/>
<rect x="498" y="304" width="1" height="1" fill="#86867a" fill-opacity="1.0"/>
<rect x="499" y="301" width="1" height="1" fill="#86867a" fill-opacity="0.6"/>
<rect x="499" y="305" width="1" height="1" fill="#86867a" fill-opacity="0.6"/>
<rect x="503" y="302" width="1" height="1" fill="#86867a" fill-opacity="1.0"/>
<rect x="503" y="304" width="1" height="1" fill="#86867a" fill-opacity="1.0"/>
<rect x="504" y="301" width="1" height="1" fill="#86867a" fill-opacity="0.6"/>
<rect x="504" y="305" width="1" height="1" fill="#86867a" fill-opacity="0.6"/>
<rect x="508" y="302" width="1" height="1" fill="#86867a" fill-opacity="1.0"/>
<rect x="508" y="304" width="1" height="1" fill="#86867a" fill-opacity="1.0"/>
<rect x="509" y="301" width="1" height="1" fill="#86867a" fill-opacity="0.6"/>
<rect x="509" y="305" width="1" height="1" fill="#86867a" fill-opacity="0.6"/>
<rect x="513" y="302" width="1" height="1" fill="#86867a" fill-opacity="1.0"/>
<rect x="513" y="304" width="1" height="1" fill="#86867a" fill-opacity="1.0"/>
<rect x="514" y="301" width="1" height="1" fill="#86867a" fill-opacity="0.6"/>
<rect x="514" y="305" width="1" height="1" fill="#86867a" fill-opacity="0.6"/>
<rect x="518" y="302" width="1" height="1" fill="#86867a" fill-opacity="1.0"/>
<rect x="518" y="304" width="1" height="1" fill="#86867a" fill-opacity="1.0"/>
<rect x="519" y="301" width="1" height="1" fill="#86867a" fill-opacity="0.6"/>
<rect x="519" y="305" width="1" height="1" fill="#86867a" fill-opacity="0.6"/>
<rect x="492" y="301" width="1" height="5" fill="#0000ff"/>
<rect x="522" y="301" width="1" height="5" fill="#0000ff"/>
<text transform="translate(488.5 306.0) scale(1.0989 1)" fill="#0000ff" stroke="#0000ff" text-anchor="end" xml:space="preserve">ENSCHIT00000003261</text>
<rect x="723" y="299" width="2" height="9" fill="#ff0000"/>
<text transform="translate(719.5 306.0) scale(1.0989 1)" fill="#ff0000" stroke="#ff0000" text-anchor="end" xml:space="preserve">TMEM45B  ENSCHIT00000030286</text>
<rect x="914" y="303" width="10" height="1" fill="#ff0000"/>
<rect x="916" y="302" width="1" height="1" fill="#86867a" fill-opacity="1.0"/>
<rect x="916" y="304" width="1" height="1" fill="#86867a" fill-opacity="1.0"/>
<rect x="915" y="301" width="1" height="1" fill="#86867a" fill-opacity="0.6"/>
<rect x="915" y="305" width="1" height="1" fill="#86867a" fill-opacity="0.6"/>
<rect x="914" y="299" width="1" height="9" fill="#ff0000"/>
<rect x="919" y="299" width="1" height="9" fill="#ff0000"/>
<rect x="921" y="299" width="2" height="9" fill="#ff0000"/>
<rect x="923" y="301" width="1" height="5" fill="#ff0000"/>
<text transform="translate(910.5 306.0) scale(1.0989 1)" fill="#ff0000" stroke="#ff0000" text-anchor="end" xml:space="preserve">ADAMTS15  ENSCHIT00000032468</text>
<rect x="310" y="311" width="2" height="5" fill="#ff0000"/>
<text transform="translate(306.5 316.0) scale(1.0989 1)" fill="#ff0000" stroke="#ff0000" text-anchor="end" xml:space="preserve">ENSCHIT00000003253</text>
<rect x="512" y="313" width="11" height="1" fill="#0000ff"/>
<rect x="513" y="312" width="1" height="1" fill="#86867a" fill-opacity="1.0"/>
<rect x="513" y="314" width="1" height="1" fill="#86867a" fill-opacity="1.0"/>
<rect x="514" y="311" width="1" height="1" fill="#86867a" fill-opacity="0.6"/>
<rect x="514" y="315" width="1" height="1" fill="#86867a" fill-opacity="0.6"/>
<rect x="518" y="312" width="1" height="1" fill="#86867a" fill-opacity="1.0"/>
<rect x="518" y="314" width="1" height="1" fill="#86867a" fill-opacity="1.0"/>
<rect x="519" y="311" width="1" height="1" fill="#86867a" fill-opacity="0.6"/>
<rect x="519" y="315" width="1" height="1" fill="#86867a" fill-opacity="0.6"/>
<rect x="512" y="311" width="1" height="5" fill="#0000ff"/>
<rect x="522" y="311" width="1" height="5" fill="#0000ff"/>
<text transform="translate(508.5 316.0) scale(1.0989 1)" fill="#0000ff" stroke="#0000ff" text-anchor="end" xml:space="preserve">ENSCHIT00000003262</text>
<rect x="726" y="313" width="14" height="1" fill="#0000ff"/>
<rect x="726" y="309" width="3" height="9" fill="#0000ff"/>
<rect x="730" y="309" width="6" height="9" fill="#0000ff"/>
<rect x="737" y="309" width="2" height="9" fill="#0000ff"/>
<rect x="739" y="311" width="1" height="5" fill="#0000ff"/>
<text transform="translate(722.5 316.0) scale(1.0989 1)" fill="#0000ff" stroke="#0000ff" text-anchor="end" xml:space="preserve">NFRKB  ENSCHIT00000030951</text>
<rect x="433" y="323" width="10" height="1" fill="#ff0000"/>
<rect x="435" y="322" width="1" height="1" fill="#86867a" fill-opacity="1.0"/>
<rect x="435" y="324" width="1" height="1" fill="#86867a" fill-opacity="1.0"/>
<rect x="434" y="321" width="1" height="1" fill="#86867a" fill-opacity="0.6"/>
<rect x="434" y="325" width="1" height="1" fill="#86867a" fill-opacity="0.6"/>
<rect x="440" y="322" width="1" height="1" fill="#86867a" fill-opacity="1.0"/>
<rect x="440" y="324" width="1" height="1" fill="#86867a" fill-opacity="1.0"/>
<rect x="439" y="321" width="1" height="1" fill="#86867a" fill-opacity="0.6"/>
<rect x="439" y="325" width="1" height="1" fill="#86867a" fill-opacity="0.6"/>
<rect x="433" y="321" width="1" height="5" fill="#ff0000"/>
<rect x="436" y="321" width="1" height="5" fill="#ff0000"/>
<rect x="442" y="321" width="1" height="5" fill="#ff0000"/>
<text transform="translate(429.5 326.0) scale(1.0989 1)" fill="#ff0000" stroke="#ff0000" text-anchor="end" xml:space="preserve">ENSCHIT00000003257</text>
<rect x="726" y="323" width="14" height="1" fill="#0000ff"/>
<rect x="726" y="319" width="3" height="9" fill="#0000ff"/>
<rect x="730" y="319" width="6" height="9" fill="#0000ff"/>
<rect x="737" y="319" width="2" height="9" fill="#0000ff"/>
<rect x="739" y="321" width="1" height="5" fill="#0000ff"/>
<text transform="translate(722.5 326.0) scale(1.0989 1)" fill="#0000ff" stroke="#0000ff" text-anchor="end" xml:space="preserve">NFRKB  ENSCHIT00000030973</text>
<rect x="515" y="331" width="1" height="5" fill="#0000ff"/>
<text transform="translate(511.5 336.0) scale(1.0989 1)" fill="#0000ff" stroke="#0000ff" text-anchor="end" xml:space="preserve">RF00619  ENSCHIT00000005030</text>
<rect x="726" y="333" width="14" height="1" fill="#0000ff"/>
<rect x="726" y="329" width="3" height="9" fill="#0000ff"/>
<rect x="730" y="329" width="6" height="9" fill="#0000ff"/>
<rect x="737" y="329" width="2" height="9" fill="#0000ff"/>
<rect x="739" y="331" width="1" height="5" fill="#0000ff"/>
<text transform="translate(722.5 336.0) scale(1.0989 1)" fill="#0000ff" stroke="#0000ff" text-anchor="end" xml:space="preserve">NFRKB  ENSCHIT00000030963</text>
<rect x="740" y="343" width="26" height="1" fill="#0000ff"/>
<rect x="758" y="342" width="1" height="1" fill="#86867a" fill-opacity="1.0"/>
<rect x="758" y="344" width="1" height="1" fill="#86867a" fill-opacity="1.0"/>
<rect x="759" y="341" width="1" height="1" fill="#86867a" fill-opacity="0.6"/>
<rect x="759" y="345" width="1" height="1" fill="#86867a" fill-opacity="0.6"/>
<rect x="740" y="341" width="1" height="5" fill="#0000ff"/>
<rect x="741" y="339" width="3" height="9" fill="#0000ff"/>
<rect x="745" y="339" width="6" height="9" fill="#0000ff"/>
<rect x="752" y="339" width="5" height="9" fill="#0000ff"/>
<rect x="764" y="339" width="2" height="9" fill="#0000ff"/>
<text transform="translate(736.5 346.0) scale(1.0989 1)" fill="#0000ff" stroke="#0000ff" text-anchor="end" xml:space="preserve">PRDM10  ENSCHIT00000040536</text>
<rect x="740" y="353" width="26" height="1" fill="#0000ff"/>
<rect x="758" y="352" width="1" height="1" fill="#86867a" fill-opacity="1.0"/>
<rect x="758" y="354" width="1" height="1" fill="#86867a" fill-opacity="1.0"/>
<rect x="759" y="351" width="1" height="1" fill="#86867a" fill-opacity="0.6"/>
<rect x="759" y="355" width="1" height="1" fill="#86867a" fill-opacity="0.6"/>
<rect x="740" y="351" width="1" height="5" fill="#0000ff"/>
<rect x="741" y="349" width="3" height="9" fill="#0000ff"/>
<rect x="745" y="349" width="6" height="9" fill="#0000ff"/>
<rect x="752" y="349" width="5" height="9" fill="#0000ff"/>
<rect x="764" y="349" width="2" height="9" fill="#0000ff"/>
<text transform="translate(736.5 356.0) scale(1.0989 1)" fill="#0000ff" stroke="#0000ff" text-anchor="end" xml:space="preserve">PRDM10  ENSCHIT00000040543</text>
<rect x="741" y="363" width="25" height="1" fill="#0000ff"/>
<rect x="758" y="362" width="1" height="1" fill="#86867a" fill-opacity="1.0"/>
<rect x="758" y="364" width="1" height="1" fill="#86867a" fill-opacity="1.0"/>
<rect x="759" y="361" width="1" height="1" fill="#86867a" fill-opacity="0.6"/>
<rect x="759" y="365" width="1" height="1" fill="#86867a" fill-opacity="0.6"/>
<rect x="741" y="359" width="3" height="9" fill="#0000ff"/>
<rect x="745" y="359" width="6" height="9" fill="#0000ff"/>
<rect x="752" y="359" width="5" height="9" fill="#0000ff"/>
<rect x="765" y="359" width="1" height="9" fill="#0000ff"/>
<text transform="translate(737.5 366.0) scale(1.0989 1)" fill="#0000ff" stroke="#0000ff" text-anchor="end" xml:space="preserve">PRDM10  ENSCHIT00000040560</text>
<rect x="799" y="373" width="26" height="1" fill="#ff0000"/>
<rect x="800" y="372" width="1" height="1" fill="#86867a" fill-opacity="1.0"/>
<rect x="800" y="374" width="1" height="1" fill="#86867a" fill-opacity="1.0"/>
<rect x="799" y="371" width="1" height="1" fill="#86867a" fill-opacity="0.6"/>
<rect x="799" y="375" width="1" height="1" fill="#86867a" fill-opacity="0.6"/>
<rect x="805" y="372" width="1" height="1" fill="#86867a" fill-opacity="1.0"/>
<rect x="805" y="374" width="1" height="1" fill="#86867a" fill-opacity="1.0"/>
<rect x="804" y="371" width="1" height="1" fill="#86867a" fill-opacity="0.6"/>
<rect x="804" y="375" width="1" height="1" fill="#86867a" fill-opacity="0.6"/>
<rect x="810" y="372" width="1" height="1" fill="#86867a" fill-opacity="1.0"/>
<rect x="810" y="374" width="1" height="1" fill="#86867a" fill-opacity="1.0"/>
<rect x="809" y="371" width="1" height="1" fill="#86867a" fill-opacity="0.6"/>
<rect x="809" y="375" width="1" height="1" fill="#86867a" fill-opacity="0.6"/>
<rect x="799" y="369" width="1" height="9" fill="#ff0000"/>
<rect x="813" y="369" width="1" height="9" fill="#ff0000"/>
<rect x="815" y="369" width="10" height="9" fill="#ff0000"/>
<text transform="translate(795.5 376.0) scale(1.0989 1)" fill="#ff0000" stroke="#ff0000" text-anchor="end" xml:space="preserve">APLP2  ENSCHIT00000015503</text>
<rect x="799" y="383" width="26" height="1" fill="#ff0000"/>
<rect x="800" y="382" width="1" height="1" fill="#86867a" fill-opacity="1.0"/>
<rect x="800" y="384" width="1" height="1" fill="#86867a" fill-opacity="1.0"/>
<rect x="799" y="381" width="1" height="1" fill="#86867a" fill-opacity="0.6"/>
<rect x="799" y="385" width="1" height="1" fill="#86867a" fill-opacity="0.6"/>
<rect x="805" y="382" width="1" height="1" fill="#86867a" fill-opacity="1.0"/>
<rect x="805" y="384" width="1" height="1" fill="#86867a" fill-opacity="1.0"/>
<rect x="804" y="381" width="1" height="1" fill="#86867a" fill-opacity="0.6"/>
<rect x="804" y="385" width="1" height="1" fill="#86867a" fill-opacity="0.6"/>
<rect x="810" y="382" width="1" height="1" fill="#86867a" fill-opacity="1.0"/>
<rect x="810" y="384" width="1" height="1" fill="#86867a" fill-opacity="1.0"/>
<rect x="809" y="381" width="1" height="1" fill="#86867a" fill-opacity="0.6"/>
<rect x="809" y="385" width="1" height="1" fill="#86867a" fill-opacity="0.6"/>
<rect x="799" y="379" width="1" height="9" fill="#ff0000"/>
<rect x="813" y="379" width="1" height="9" fill="#ff0000"/>
<rect x="815" y="379" width="10" height="9" fill="#ff0000"/>
<text transform="translate(795.5 386.0) scale(1.0989 1)" fill="#ff0000" stroke="#ff0000" text-anchor="end" xml:space="preserve">APLP2  ENSCHIT00000015512</text>
<rect x="799" y="393" width="26" height="1" fill="#ff0000"/>
<rect x="800" y="392" width="1" height="1" fill="#86867a" fill-opacity="1.0"/>
<rect x="800" y="394" width="1" height="1" fill="#86867a" fill-opacity="1.0"/>
<rect x="799" y="391" width="1" height="1" fill="#86867a" fill-opacity="0.6"/>
<rect x="799" y="395" width="1" height="1" fill="#86867a" fill-opacity="0.6"/>
<rect x="805" y="392" width="1" height="1" fill="#86867a" fill-opacity="1.0"/>
<rect x="805" y="394" width="1" height="1" fill="#86867a" fill-opacity="1.0"/>
<rect x="804" y="391" width="1" height="1" fill="#86867a" fill-opacity="0.6"/>
<rect x="804" y="395" width="1" height="1" fill="#86867a" fill-opacity="0.6"/>
<rect x="810" y="392" width="1" height="1" fill="#86867a" fill-opacity="1.0"/>
<rect x="810" y="394" width="1" height="1" fill="#86867a" fill-opacity="1.0"/>
<rect x="809" y="391" width="1" height="1" fill="#86867a" fill-opacity="0.6"/>
<rect x="809" y="395" width="1" height="1" fill="#86867a" fill-opacity="0.6"/>
<rect x="799" y="389" width="1" height="9" fill="#ff0000"/>
<rect x="813" y="389" width="1" height="9" fill="#ff0000"/>
<rect x="815" y="389" width="10" height="9" fill="#ff0000"/>
<text transform="translate(795.5 396.0) scale(1.0989 1)" fill="#ff0000" stroke="#ff0000" text-anchor="end" xml:space="preserve">APLP2  ENSCHIT00000015525</text>
<rect x="799" y="403" width="26" height="1" fill="#ff0000"/>
<rect x="800" y="402" width="1" height="1" fill="#86867a" fill-opacity="1.0"/>
<rect x="800" y="404" width="1" height="1" fill="#86867a" fill-opacity="1.0"/>
<rect x="799" y="401" width="1" height="1" fill="#86867a" fill-opacity="0.6"/>
<rect x="799" y="405" width="1" height="1" fill="#86867a" fill-opacity="0.6"/>
<rect x="805" y="402" width="1" height="1" fill="#86867a" fill-opacity="1.0"/>
<rect x="805" y="404" width="1" height="1" fill="#86867a" fill-opacity="1.0"/>
<rect x="804" y="401" width="1" height="1" fill="#86867a" fill-opacity="0.6"/>
<rect x="804" y="405" width="1" height="1" fill="#86867a" fill-opacity="0.6"/>
<rect x="810" y="402" width="1" height="1" fill="#86867a" fill-opacity="1.0"/>
<rect x="810" y="404" width="1" height="1" fill="#86867a" fill-opacity="1.0"/>
<rect x="809" y="401" width="1" height="1" fill="#86867a" fill-opacity="0.6"/>
<rect x="809" y="405" width="1" height="1" fill="#86867a" fill-opacity="0.6"/>
<rect x="799" y="399" width="1" height="9" fill="#ff0000"/>
<rect x="813" y="399" width="1" height="9" fill="#ff0000"/>
<rect x="815" y="399" width="10" height="9" fill="#ff0000"/>
<text transform="translate(795.5 406.0) scale(1.0989 1)" fill="#ff0000" stroke="#ff0000" text-anchor="end" xml:space="preserve">APLP2  ENSCHIT00000015540</text>
<rect x="812" y="413" width="13" height="1" fill="#ff0000"/>
<rect x="812" y="409" width="2" height="9" fill="#ff0000"/>
<rect x="815" y="409" width="10" height="9" fill="#ff0000"/>
<text transform="translate(808.5 416.0) scale(1.0989 1)" fill="#ff0000" stroke="#ff0000" text-anchor="end" xml:space="preserve">APLP2  ENSCHIT00000015560</text>
<rect x="841" y="423" width="7" height="1" fill="#ff0000"/>
<rect x="841" y="419" width="5" height="9" fill="#ff0000"/>
<rect x="847" y="419" width="1" height="9" fill="#ff0000"/>
<text transform="translate(837.5 426.0) scale(1.0989 1)" fill="#ff0000" stroke="#ff0000" text-anchor="end" xml:space="preserve">ST14  ENSCHIT00000040688</text>
<rect x="855" y="433" width="9" height="1" fill="#0000ff"/>
<rect x="855" y="429" width="2" height="9" fill="#0000ff"/>
<rect x="858" y="429" width="1" height="9" fill="#0000ff"/>
<rect x="863" y="429" width="1" height="9" fill="#0000ff"/>
<text transform="translate(851.5 436.0) scale(1.0989 1)" fill="#0000ff" stroke="#0000ff" text-anchor="end" xml:space="preserve">ZBTB44  ENSCHIT00000040294</text>
<rect x="855" y="443" width="9" height="1" fill="#0000ff"/>
<rect x="855" y="439" width="2" height="9" fill="#0000ff"/>
<rect x="858" y="439" width="1" height="9" fill="#0000ff"/>
<rect x="863" y="439" width="1" height="9" fill="#0000ff"/>
<text transform="translate(851.5 446.0) scale(1.0989 1)" fill="#0000ff" stroke="#0000ff" text-anchor="end" xml:space="preserve">ZBTB44  ENSCHIT00000040307</text>
<rect x="897" y="453" width="7" height="1" fill="#0000ff"/>
<rect x="897" y="449" width="5" height="9" fill="#0000ff"/>
<rect x="903" y="449" width="1" height="9" fill="#0000ff"/>
<text transform="translate(893.5 456.0) scale(1.0989 1)" fill="#0000ff" stroke="#0000ff" text-anchor="end" xml:space="preserve">ADAMTS8  ENSCHIT00000013925</text>
<text transform="translate(299.5 466.0) scale(1.0989 1)" fill="#218c88" stroke="#218c88" xml:space="preserve">regulatory regions were from GigaScience paper(DOI:10.1093/gigascience/gix136)</text>
<rect x="120" y="468" width="3" height="9" fill="#218c88"/>
<rect x="121" y="469" width="1" height="7" fill="#329797"/>
<rect x="124" y="468" width="1" height="9" fill="#218c88"/>
<rect x="127" y="468" width="1" height="9" fill="#218c88"/>
<rect x="135" y="468" width="3" height="9" fill="#218c88"/>
<rect x="136" y="469" width="1" height="7" fill="#329797"/>
<rect x="141" y="468" width="1" height="9" fill="#218c88"/>
<rect x="143" y="468" width="1" height="9" fill="#218c88"/>
<rect x="145" y="468" width="1" height="9" fill="#218c88"/>
<rect x="152" y="468" width="1" height="9" fill="#218c88"/>
<rect x="154" y="468" width="2" height="9" fill="#218c88"/>
<rect x="159" y="468" width="2" height="9" fill="#218c88"/>
<rect x="162" y="468" width="1" height="9" fill="#218c88"/>
<rect x="171" y="468" width="1" height="9" fill="#218c88"/>
<rect x="173" y="468" width="1" height="9" fill="#218c88"/>
<rect x="179" y="468" width="1" height="9" fill="#218c88"/>
<rect x="188" y="468" width="1" height="9" fill="#218c88"/>
<rect x="196" y="468" width="5" height="9" fill="#218c88"/>
<rect x="197" y="469" width="3" height="7" fill="#329797"/>
<rect x="202" y="468" width="2" height="9" fill="#218c88"/>
<rect x="213" y="468" width="1" height="9" fill="#218c88"/>
<rect x="215" y="468" width="4" height="9" fill="#218c88"/>
<rect x="216" y="469" width="2" height="7" fill="#329797"/>
<rect x="220" y="468" width="2" height="9" fill="#218c88"/>
<rect x="228" y="468" width="1" height="9" fill="#218c88"/>
<rect x="232" y="468" width="1" height="9" fill="#218c88"/>
<rect x="239" y="468" width="9" height="9" fill="#218c88"/>
<rect x="240" y="469" width="7" height="7" fill="#329797"/>
<rect x="249" y="468" width="1" height="9" fill="#218c88"/>
<rect x="262" y="468" width="1" height="9" fill="#218c88"/>
<rect x="265" y="468" width="1" height="9" fill="#218c88"/>
<rect x="286" y="468" width="1" height="9" fill="#218c88"/>
<rect x="289" y="468" width="1" height="9" fill="#218c88"/>
<rect x="291" y="468" width="1" height="9" fill="#218c88"/>
<rect x="295" y="468" width="2" height="9" fill="#218c88"/>
<rect x="305" y="468" width="12" height="9" fill="#218c88"/>
<rect x="306" y="469" width="10" height="7" fill="#329797"/>
<rect x="318" y="468" width="1" height="9" fill="#218c88"/>
<rect x="329" y="468" width="2" height="9" fill="#218c88"/>
<rect x="332" y="468" width="2" height="9" fill="#218c88"/>
<rect x="351" y="468" width="1" height="9" fill="#218c88"/>
<rect x="356" y="468" width="1" height="9" fill="#218c88"/>
<rect x="359" y="468" width="1" height="9" fill="#218c88"/>
<rect x="383" y="468" width="1" height="9" fill="#218c88"/>
<rect x="388" y="468" width="1" height="9" fill="#218c88"/>
<rect x="391" y="468" width="1" height="9" fill="#218c88"/>
<rect x="396" y="468" width="9" height="9" fill="#218c88"/>
<rect x="397" y="469" width="7" height="7" fill="#329797"/>
<rect x="406" y="468" width="6" height="9" fill="#218c88"/>
<rect x="407" y="469" width="4" height="7" fill="#329797"/>
<rect x="414" y="468" width="3" height="9" fill="#218c88"/>
<rect x="415" y="469" width="1" height="7" fill="#329797"/>
<rect x="450" y="468" width="1" height="9" fill="#218c88"/>
<rect x="453" y="468" width="2" height="9" fill="#218c88"/>
<rect x="463" y="468" width="1" height="9" fill="#218c88"/>
<rect x="467" y="468" width="1" height="9" fill="#218c88"/>
<rect x="476" y="468" width="2" height="9" fill="#218c88"/>
<rect x="485" y="468" width="1" height="9" fill="#218c88"/>
<rect x="494" y="468" width="2" height="9" fill="#218c88"/>
<rect x="516" y="468" width="1" height="9" fill="#218c88"/>
<rect x="519" y="468" width="4" height="9" fill="#218c88"/>
<rect x="520" y="469" width="2" height="7" fill="#329797"/>
<rect x="524" y="468" width="1" height="9" fill="#218c88"/>
<rect x="530" y="468" width="1" height="9" fill="#218c88"/>
<rect x="538" y="468" width="1" height="9" fill="#218c88"/>
<rect x="540" y="468" width="1" height="9" fill="#218c88"/>
<rect x="548" y="468" width="1" height="9" fill="#218c88"/>
<rect x="559" y="468" width="1" height="9" fill="#218c88"/>
<rect x="563" y="468" width="1" height="9" fill="#218c88"/>
<rect x="565" y="468" width="2" height="9" fill="#218c88"/>
<rect x="568" y="468" width="1" height="9" fill="#218c88"/>
<rect x="570" y="468" width="1" height="9" fill="#218c88"/>
<rect x="573" y="468" width="1" height="9" fill="#218c88"/>
<rect x="580" y="468" width="2" height="9" fill="#218c88"/>
<rect x="584" y="468" width="2" height="9" fill="#218c88"/>
<rect x="602" y="468" width="1" height="9" fill="#218c88"/>
<rect x="609" y="468" width="1" height="9" fill="#218c88"/>
<rect x="611" y="468" width="2" height="9" fill="#218c88"/>
<rect x="621" y="468" width="1" height="9" fill="#218c88"/>
<rect x="625" y="468" width="1" height="9" fill="#218c88"/>
<rect x="630" y="468" width="1" height="9" fill="#218c88"/>
<rect x="640" y="468" width="3" height="9" fill="#218c88"/>
<rect x="641" y="469" width="1" height="7" fill="#329797"/>
<rect x="648" y="468" width="1" height="9" fill="#218c88"/>
<rect x="650" y="468" width="1" height="9" fill="#218c88"/>
<rect x="661" y="468" width="1" height="9" fill="#218c88"/>
<rect x="668" y="468" width="1" height="9" fill="#218c88"/>
<rect x="675" y="468" width="1" height="9" fill="#218c88"/>
<rect x="713" y="468" width="3" height="9" fill="#218c88"/>
<rect x="714" y="469" width="1" height="7" fill="#329797"/>
<rect x="718" y="468" width="1" height="9" fill="#218c88"/>
<rect x="720" y="468" width="5" height="9" fill="#218c88"/>
<rect x="721" y="469" width="3" height="7" fill="#329797"/>
<rect x="726" y="468" width="1" height="9" fill="#218c88"/>
<rect x="728" y="468" width="1" height="9" fill="#218c88"/>
<rect x="730" y="468" width="1" height="9" fill="#218c88"/>
<rect x="732" y="468" width="1" height="9" fill="#218c88"/>
<rect x="734" y="468" width="1" height="9" fill="#218c88"/>
<rect x="738" y="468" width="2" height="9" fill="#218c88"/>
<rect x="743" y="468" width="5" height="9" fill="#218c88"/>
<rect x="744" y="469" width="3" height="7" fill="#329797"/>
<rect x="756" y="468" width="2" height="9" fill="#218c88"/>
<rect x="767" y="468" width="1" height="9" fill="#218c88"/>
<rect x="777" y="468" width="2" height="9" fill="#218c88"/>
<rect x="784" y="468" width="1" height="9" fill="#218c88"/>
<rect x="791" y="468" width="1" height="9" fill="#218c88"/>
<rect x="798" y="468" width="4" height="9" fill="#218c88"/>
<rect x="799" y="469" width="2" height="7" fill="#329797"/>
<rect x="804" y="468" width="1" height="9" fill="#218c88"/>
<rect x="809" y="468" width="10" height="9" fill="#218c88"/>
<rect x="810" y="469" width="8" height="7" fill="#329797"/>
<rect x="820" y="468" width="5" height="9" fill="#218c88"/>
<rect x="821" y="469" width="3" height="7" fill="#329797"/>
<rect x="830" y="468" width="1" height="9" fill="#218c88"/>
<rect x="837" y="468" width="2" height="9" fill="#218c88"/>
<rect x="841" y="468" width="1" height="9" fill="#218c88"/>
<rect x="845" y="468" width="4" height="9" fill="#218c88"/>
<rect x="846" y="469" width="2" height="7" fill="#329797"/>
<rect x="850" y="468" width="1" height="9" fill="#218c88"/>
<rect x="852" y="468" width="3" height="9" fill="#218c88"/>
<rect x="853" y="469" width="1" height="7" fill="#329797"/>
<rect x="871" y="468" width="1" height="9" fill="#218c88"/>
<rect x="873" y="468" width="3" height="9" fill="#218c88"/>
<rect x="874" y="469" width="1" height="7" fill="#329797"/>
<rect x="884" y="468" width="1" height="9" fill="#218c88"/>
<rect x="890" y="468" width="5" height="9" fill="#218c88"/>
<rect x="891" y="469" width="3" height="7" fill="#329797"/>
<rect x="896" y="468" width="4" height="9" fill="#218c88"/>
<rect x="897" y="469" width="2" height="7" fill="#329797"/>
<rect x="901" y="468" width="3" height="9" fill="#218c88"/>
<rect x="902" y="469" width="1" height="7" fill="#329797"/>
<rect x="908" y="468" width="2" height="9" fill="#218c88"/>
<rect x="914" y="468" width="7" height="9" fill="#218c88"/>
<rect x="915" y="469" width="5" height="7" fill="#329797"/>
<rect x="941" y="468" width="2" height="9" fill="#218c88"/>
<text transform="translate(533.5 485.0) scale(1.0989 1)" fill="#000000" stroke="#000000" text-anchor="middle" xml:space="preserve">expreBar</text>
<rect x="143" y="488" width="101" height="1" fill="#e6e6e6"/>
<rect x="143" y="488" width="1" height="16" fill="#e6e6e6"/>
<rect x="243" y="488" width="1" height="16" fill="#e6e6e6"/>
<rect x="143" y="503" width="101" height="1" fill="#c4c4c4"/>
<rect x="143" y="495" width="1" height="8" fill="#8fbc8f"/>
<rect x="144" y="495" width="1" height="8" fill="#8fbc8f"/>
<rect x="145" y="497" width="1" height="6" fill="#8fbc8f"/>
<rect x="146" y="499" width="1" height="4" fill="#8fbc8f"/>
<rect x="147" y="501" width="1" height="2" fill="#8fbc8f"/>
<rect x="148" y="502" width="1" height="1" fill="#8fbc8f"/>
<rect x="149" y="502" width="1" height="1" fill="#8fbc8f"/>
<rect x="150" y="501" width="1" height="2" fill="#8fbc8f"/>
<rect x="151" y="501" width="1" height="2" fill="#8fbc8f"/>
<rect x="152" y="502" width="1" height="1" fill="#8fbc8f"/>
<rect x="153" y="502" width="1" height="1" fill="#8fbc8f"/>
<rect x="160" y="501" width="1" height="2" fill="#ffb6c1"/>
<rect x="167" y="495" width="1" height="8" fill="#0000cd"/>
<rect x="168" y="498" width="1" height="5" fill="#0000cd"/>
<rect x="169" y="500" width="1" height="3" fill="#0000cd"/>
<rect x="170" y="502" width="1" height="1" fill="#0000cd"/>
<rect x="178" y="502" width="1" height="1" fill="#eeee00"/>
<rect x="184" y="489" width="1" height="14" fill="#ee82ee"/>
<rect x="186" y="491" width="1" height="12" fill="#00ced1"/>
<rect x="187" y="491" width="1" height="12" fill="#00ced1"/>
<rect x="188" y="491" width="1" height="12" fill="#00ced1"/>
<rect x="189" y="492" width="1" height="11" fill="#00ced1"/>
<rect x="190" y="501" width="1" height="2" fill="#ffa54f"/>
<rect x="191" y="502" width="1" height="1" fill="#ffa54f"/>
<rect x="193" y="502" width="1" height="1" fill="#d2b48c"/>
<rect x="194" y="502" width="1" height="1" fill="#d2b48c"/>
<rect x="195" y="502" width="1" height="1" fill="#d2b48c"/>
<rect x="198" y="501" width="1" height="2" fill="#d2b48c"/>
<rect x="199" y="501" width="1" height="2" fill="#d2b48c"/>
<rect x="200" y="501" width="1" height="2" fill="#d2b48c"/>
<rect x="201" y="501" width="1" height="2" fill="#d2b48c"/>
<rect x="202" y="501" width="1" height="2" fill="#d2b48c"/>
<rect x="203" y="501" width="1" height="2" fill="#d2b48c"/>
<rect x="213" y="502" width="1" height="1" fill="#1c6cff"/>
<rect x="215" y="499" width="1" height="4" fill="#c800ff"/>
<rect x="216" y="499" width="1" height="4" fill="#c800ff"/>
<rect x="217" y="499" width="1" height="4" fill="#c800ff"/>
<rect x="218" y="496" width="1" height="7" fill="#c800ff"/>
<rect x="232" y="502" width="1" height="1" fill="#00c5cd"/>
<rect x="233" y="502" width="1" height="1" fill="#00c5cd"/>
<rect x="143" y="504" width="380" height="1" fill="#7a7a7a"/>
<text transform="translate(139.5 500.0) scale(1.0989 1)" fill="#000000" stroke="#000000" text-anchor="end" xml:space="preserve">NTM</text>
<rect x="715" y="489" width="101" height="1" fill="#e6e6e6"/>
<rect x="715" y="489" width="1" height="15" fill="#e6e6e6"/>
<rect x="815" y="489" width="1" height="15" fill="#e6e6e6"/>
<rect x="715" y="503" width="101" height="1" fill="#c4c4c4"/>
<rect x="717" y="502" width="1" height="1" fill="#8fbc8f"/>
<rect x="718" y="501" width="1" height="2" fill="#8fbc8f"/>
<rect x="719" y="500" width="1" height="3" fill="#8fbc8f"/>
<rect x="720" y="498" width="1" height="5" fill="#8fbc8f"/>
<rect x="721" y="496" width="1" height="7" fill="#8fbc8f"/>
<rect x="722" y="494" width="1" height="9" fill="#8fbc8f"/>
<rect x="723" y="491" width="1" height="12" fill="#8fbc8f"/>
<rect x="724" y="495" width="1" height="8" fill="#8fbc8f"/>
<rect x="725" y="493" width="1" height="10" fill="#8fbc8f"/>
<rect x="726" y="497" width="1" height="6" fill="#8fbc8f"/>
<rect x="727" y="500" width="1" height="3" fill="#8fbc8f"/>
<rect x="728" y="502" width="1" height="1" fill="#8fbc8f"/>
<rect x="729" y="502" width="1" height="1" fill="#8fbc8f"/>
<rect x="731" y="502" width="1" height="1" fill="#ffb6c1"/>
<rect x="740" y="502" width="1" height="1" fill="#0000cd"/>
<rect x="742" y="502" width="1" height="1" fill="#0000cd"/>
<rect x="768" y="492" width="1" height="11" fill="#d2b48c"/>
<rect x="769" y="492" width="1" height="11" fill="#d2b48c"/>
<rect x="771" y="497" width="1" height="6" fill="#d2b48c"/>
<rect x="776" y="501" width="1" height="2" fill="#1c6cff"/>
<rect x="777" y="500" width="1" height="3" fill="#1c6cff"/>
<rect x="778" y="500" width="1" height="3" fill="#1c6cff"/>
<rect x="779" y="502" width="1" height="1" fill="#1c6cff"/>
<rect x="781" y="500" width="1" height="3" fill="#1c6cff"/>
<rect x="785" y="501" width="1" height="2" fill="#1c6cff"/>
<rect x="787" y="502" width="1" height="1" fill="#c800ff"/>
<rect x="788" y="502" width="1" height="1" fill="#c800ff"/>
<rect x="789" y="502" width="1" height="1" fill="#c800ff"/>
<rect x="790" y="502" width="1" height="1" fill="#c800ff"/>
<rect x="796" y="498" width="1" height="5" fill="#8b6914"/>
<rect x="797" y="502" width="1" height="1" fill="#cd5b45"/>
<rect x="798" y="502" width="1" height="1" fill="#cd5b45"/>
<rect x="799" y="502" width="1" height="1" fill="#cd5b45"/>
<rect x="800" y="497" width="1" height="6" fill="#cdc5b4"/>
<rect x="801" y="495" width="1" height="8" fill="#cdc5b4"/>
<rect x="802" y="495" width="1" height="8" fill="#cdc5b4"/>
<rect x="803" y="495" width="1" height="8" fill="#00c5cd"/>
<rect x="804" y="489" width="1" height="14" fill="#00c5cd"/>
<rect x="805" y="493" width="1" height="10" fill="#00c5cd"/>
<rect x="806" y="490" width="1" height="13" fill="#00c5cd"/>
<rect x="807" y="494" width="1" height="9" fill="#00c5cd"/>
<rect x="808" y="493" width="1" height="10" fill="#00c5cd"/>
<rect x="809" y="496" width="1" height="7" fill="#00c5cd"/>
<rect x="810" y="498" width="1" height="5" fill="#00c5cd"/>
<rect x="811" y="496" width="1" height="7" fill="#00c5cd"/>
<rect x="812" y="499" width="1" height="4" fill="#00c5cd"/>
<rect x="813" y="501" width="1" height="2" fill="#00c5cd"/>
<rect x="814" y="502" width="1" height="1" fill="#00c5cd"/>
<rect x="715" y="504" width="10" height="1" fill="#7a7a7a"/>
<text transform="translate(711.5 500.5) scale(1.0989 1)" fill="#000000" stroke="#000000" text-anchor="end" xml:space="preserve">TMEM45B</text>
<rect x="726" y="509" width="101" height="1" fill="#e6e6e6"/>
<rect x="726" y="509" width="1" height="10" fill="#e6e6e6"/>
<rect x="826" y="509" width="1" height="10" fill="#e6e6e6"/>
<rect x="726" y="518" width="101" height="1" fill="#c4c4c4"/>
<rect x="726" y="511" width="1" height="7" fill="#8fbc8f"/>
<rect x="727" y="510" width="1" height="8" fill="#8fbc8f"/>
<rect x="728" y="511" width="1" height="7" fill="#8fbc8f"/>
<rect x="729" y="510" width="1" height="8" fill="#8fbc8f"/>
<rect x="730" y="511" width="1" height="7" fill="#8fbc8f"/>
<rect x="731" y="510" width="1" height="8" fill="#8fbc8f"/>
<rect x="732" y="510" width="1" height="8" fill="#8fbc8f"/>
<rect x="733" y="511" width="1" height="7" fill="#8fbc8f"/>
<rect x="734" y="510" width="1" height="8" fill="#8fbc8f"/>
<rect x="735" y="510" width="1" height="8" fill="#8fbc8f"/>
<rect x="736" y="511" width="1" height="7" fill="#8fbc8f"/>
<rect x="737" y="512" width="1" height="6" fill="#8fbc8f"/>
<rect x="738" y="513" width="1" height="5" fill="#8fbc8f"/>
<rect x="739" y="515" width="1" height="3" fill="#8fbc8f"/>
<rect x="740" y="516" width="1" height="2" fill="#8fbc8f"/>
<rect x="741" y="514" width="1" height="4" fill="#ffb6c1"/>
<rect x="742" y="512" width="1" height="6" fill="#ffb6c1"/>
<rect x="743" y="512" width="1" height="6" fill="#ffb6c1"/>
<rect x="744" y="512" width="1" height="6" fill="#ffb6c1"/>
<rect x="745" y="512" width="1" height="6" fill="#0000cd"/>
<rect x="746" y="512" width="1" height="6" fill="#0000cd"/>
<rect x="747" y="512" width="1" height="6" fill="#0000cd"/>
<rect x="748" y="512" width="1" height="6" fill="#0000cd"/>
<rect x="749" y="512" width="1" height="6" fill="#0000cd"/>
<rect x="750" y="513" width="1" height="5" fill="#0000cd"/>
<rect x="751" y="513" width="1" height="5" fill="#0000cd"/>
<rect x="752" y="513" width="1" height="5" fill="#0000cd"/>
<rect x="753" y="514" width="1" height="4" fill="#0000cd"/>
<rect x="754" y="514" width="1" height="4" fill="#0000cd"/>
<rect x="755" y="515" width="1" height="3" fill="#0000cd"/>
<rect x="756" y="515" width="1" height="3" fill="#0000cd"/>
<rect x="757" y="514" width="1" height="4" fill="#0000cd"/>
<rect x="758" y="513" width="1" height="5" fill="#0000cd"/>
<rect x="759" y="513" width="1" height="5" fill="#0000cd"/>
<rect x="760" y="512" width="1" height="6" fill="#0000cd"/>
<rect x="761" y="512" width="1" height="6" fill="#eeee00"/>
<rect x="762" y="511" width="1" height="7" fill="#eeee00"/>
<rect x="763" y="511" width="1" height="7" fill="#eeee00"/>
<rect x="764" y="511" width="1" height="7" fill="#eeee00"/>
<rect x="765" y="512" width="1" height="6" fill="#eeee00"/>
<rect x="766" y="515" width="1" height="3" fill="#ee82ee"/>
<rect x="767" y="517" width="1" height="1" fill="#ee82ee"/>
<rect x="768" y="517" width="1" height="1" fill="#ee82ee"/>
<rect x="769" y="510" width="1" height="8" fill="#00ced1"/>
<rect x="770" y="511" width="1" height="7" fill="#00ced1"/>
<rect x="771" y="511" width="1" height="7" fill="#00ced1"/>
<rect x="772" y="511" width="1" height="7" fill="#00ced1"/>
<rect x="773" y="510" width="1" height="8" fill="#ffa54f"/>
<rect x="774" y="510" width="1" height="8" fill="#ffa54f"/>
<rect x="775" y="511" width="1" height="7" fill="#ffa54f"/>
<rect x="776" y="512" width="1" height="6" fill="#d2b48c"/>
<rect x="777" y="513" width="1" height="5" fill="#d2b48c"/>
<rect x="778" y="511" width="1" height="7" fill="#d2b48c"/>
<rect x="779" y="513" width="1" height="5" fill="#d2b48c"/>
<rect x="780" y="512" width="1" height="6" fill="#d2b48c"/>
<rect x="781" y="511" width="1" height="7" fill="#d2b48c"/>
<rect x="782" y="511" width="1" height="7" fill="#d2b48c"/>
<rect x="783" y="509" width="1" height="9" fill="#d2b48c"/>
<rect x="784" y="510" width="1" height="8" fill="#d2b48c"/>
<rect x="785" y="511" width="1" height="7" fill="#d2b48c"/>
<rect x="786" y="511" width="1" height="7" fill="#d2b48c"/>
<rect x="787" y="510" width="1" height="8" fill="#1c6cff"/>
<rect x="788" y="509" width="1" height="9" fill="#1c6cff"/>
<rect x="789" y="510" width="1" height="8" fill="#1c6cff"/>
<rect x="790" y="511" width="1" height="7" fill="#1c6cff"/>
<rect x="791" y="510" width="1" height="8" fill="#1c6cff"/>
<rect x="792" y="511" width="1" height="7" fill="#1c6cff"/>
<rect x="793" y="512" width="1" height="6" fill="#1c6cff"/>
<rect x="794" y="512" width="1" height="6" fill="#1c6cff"/>
<rect x="795" y="512" width="1" height="6" fill="#1c6cff"/>
<rect x="796" y="511" width="1" height="7" fill="#1c6cff"/>
<rect x="797" y="512" width="1" height="6" fill="#c800ff"/>
<rect x="798" y="512" width="1" height="6" fill="#c800ff"/>
<rect x="799" y="512" width="1" height="6" fill="#c800ff"/>
<rect x="800" y="513" width="1" height="5" fill="#c800ff"/>
<rect x="801" y="513" width="1" height="5" fill="#c800ff"/>
<rect x="802" y="513" width="1" height="5" fill="#8b6914"/>
<rect x="803" y="512" width="1" height="6" fill="#8b6914"/>
<rect x="804" y="512" width="1" height="6" fill="#8b6914"/>
<rect x="805" y="511" width="1" height="7" fill="#8b6914"/>
<rect x="806" y="512" width="1" height="6" fill="#8b6914"/>
<rect x="807" y="512" width="1" height="6" fill="#8b6914"/>
<rect x="808" y="511" width="1" height="7" fill="#cd5b45"/>
<rect x="809" y="510" width="1" height="8" fill="#cd5b45"/>
<rect x="810" y="512" width="1" height="6" fill="#cd5b45"/>
<rect x="811" y="512" width="1" height="6" fill="#cdc5b4"/>
<rect x="812" y="512" width="1" height="6" fill="#cdc5b4"/>
<rect x="813" y="513" width="1" height="5" fill="#cdc5b4"/>
<rect x="814" y="511" width="1" height="7" fill="#00c5cd"/>
<rect x="815" y="510" width="1" height="8" fill="#00c5cd"/>
<rect x="816" y="511" width="1" height="7" fill="#00c5cd"/>
<rect x="817" y="512" width="1" height="6" fill="#00c5cd"/>
<rect x="818" y="511" width="1" height="7" fill="#00c5cd"/>
<rect x="819" y="512" width="1" height="6" fill="#00c5cd"/>
<rect x="820" y="513" width="1" height="5" fill="#00c5cd"/>
<rect x="821" y="513" width="1" height="5" fill="#00c5cd"/>
<rect x="822" y="514" width="1" height="4" fill="#00c5cd"/>
<rect x="823" y="514" width="1" height="4" fill="#00c5cd"/>
<rect x="824" y="515" width="1" height="3" fill="#00c5cd"/>
<rect x="726" y="519" width="14" height="1" fill="#7a7a7a"/>
<text transform="translate(722.5 518) scale(1.0989 1)" fill="#000000" stroke="#000000" text-anchor="end" xml:space="preserve">NFRKB</text>
<rect x="740" y="527" width="101" height="1" fill="#e6e6e6"/>
<rect x="740" y="527" width="1" height="6" fill="#e6e6e6"/>
<rect x="840" y="527" width="1" height="6" fill="#e6e6e6"/>
<rect x="740" y="532" width="101" height="1" fill="#c4c4c4"/>
<rect x="740" y="530" width="1" height="2" fill="#8fbc8f"/>
<rect x="741" y="530" width="1" height="2" fill="#8fbc8f"/>
<rect x="742" y="529" width="1" height="3" fill="#8fbc8f"/>
<rect x="743" y="529" width="1" height="3" fill="#8fbc8f"/>
<rect x="744" y="530" width="1" height="2" fill="#8fbc8f"/>
<rect x="745" y="529" width="1" height="3" fill="#8fbc8f"/>
<rect x="746" y="529" width="1" height="3" fill="#8fbc8f"/>
<rect x="747" y="528" width="1" height="4" fill="#8fbc8f"/>
<rect x="748" y="529" width="1" height="3" fill="#8fbc8f"/>
<rect x="749" y="529" width="1" height="3" fill="#8fbc8f"/>
<rect x="750" y="528" width="1" height="4" fill="#8fbc8f"/>
<rect x="751" y="529" width="1" height="3" fill="#8fbc8f"/>
<rect x="752" y="528" width="1" height="4" fill="#8fbc8f"/>
<rect x="753" y="529" width="1" height="3" fill="#8fbc8f"/>
<rect x="754" y="530" width="1" height="2" fill="#8fbc8f"/>
<rect x="755" y="531" width="1" height="1" fill="#ffb6c1"/>
<rect x="756" y="530" width="1" height="2" fill="#ffb6c1"/>
<rect x="757" y="531" width="1" height="1" fill="#ffb6c1"/>
<rect x="758" y="531" width="1" height="1" fill="#ffb6c1"/>
<rect x="759" y="531" width="1" height="1" fill="#0000cd"/>
<rect x="760" y="531" width="1" height="1" fill="#0000cd"/>
<rect x="761" y="530" width="1" height="2" fill="#0000cd"/>
<rect x="762" y="530" width="1" height="2" fill="#0000cd"/>
<rect x="763" y="530" width="1" height="2" fill="#0000cd"/>
<rect x="764" y="531" width="1" height="1" fill="#0000cd"/>
<rect x="765" y="530" width="1" height="2" fill="#0000cd"/>
<rect x="766" y="530" width="1" height="2" fill="#0000cd"/>
<rect x="767" y="530" width="1" height="2" fill="#0000cd"/>
<rect x="768" y="531" width="1" height="1" fill="#0000cd"/>
<rect x="769" y="530" width="1" height="2" fill="#0000cd"/>
<rect x="770" y="531" width="1" height="1" fill="#0000cd"/>
<rect x="771" y="530" width="1" height="2" fill="#0000cd"/>
<rect x="772" y="531" width="1" height="1" fill="#0000cd"/>
<rect x="773" y="531" width="1" height="1" fill="#0000cd"/>
<rect x="774" y="531" width="1" height="1" fill="#0000cd"/>
<rect x="775" y="531" width="1" height="1" fill="#eeee00"/>
<rect x="776" y="531" width="1" height="1" fill="#eeee00"/>
<rect x="777" y="531" width="1" height="1" fill="#eeee00"/>
<rect x="778" y="531" width="1" height="1" fill="#eeee00"/>
<rect x="779" y="530" width="1" height="2" fill="#eeee00"/>
<rect x="780" y="530" width="1" height="2" fill="#ee82ee"/>
<rect x="781" y="530" width="1" height="2" fill="#ee82ee"/>
<rect x="782" y="529" width="1" height="3" fill="#ee82ee"/>
<rect x="783" y="528" width="1" height="4" fill="#00ced1"/>
<rect x="784" y="529" width="1" height="3" fill="#00ced1"/>
<rect x="785" y="528" width="1" height="4" fill="#00ced1"/>
<rect x="786" y="529" width="1" height="3" fill="#00ced1"/>
<rect x="787" y="528" width="1" height="4" fill="#ffa54f"/>
<rect x="788" y="528" width="1" height="4" fill="#ffa54f"/>
<rect x="789" y="529" width="1" height="3" fill="#ffa54f"/>
<rect x="790" y="530" width="1" height="2" fill="#d2b48c"/>
<rect x="791" y="530" width="1" height="2" fill="#d2b48c"/>
<rect x="792" y="530" width="1" height="2" fill="#d2b48c"/>
<rect x="793" y="529" width="1" height="3" fill="#d2b48c"/>
<rect x="794" y="529" width="1" height="3" fill="#d2b48c"/>
<rect x="795" y="530" width="1" height="2" fill="#d2b48c"/>
<rect x="796" y="530" width="1" height="2" fill="#d2b48c"/>
<rect x="797" y="531" width="1" height="1" fill="#d2b48c"/>
<rect x="798" y="530" width="1" height="2" fill="#d2b48c"/>
<rect x="799" y="530" width="1" height="2" fill="#d2b48c"/>
<rect x="800" y="530" width="1" height="2" fill="#d2b48c"/>
<rect x="801" y="530" width="1" height="2" fill="#1c6cff"/>
<rect x="802" y="529" width="1" height="3" fill="#1c6cff"/>
<rect x="803" y="530" width="1" height="2" fill="#1c6cff"/>
<rect x="804" y="529" width="1" height="3" fill="#1c6cff"/>
<rect x="805" y="530" width="1" height="2" fill="#1c6cff"/>
<rect x="806" y="529" width="1" height="3" fill="#1c6cff"/>
<rect x="807" y="529" width="1" height="3" fill="#1c6cff"/>
<rect x="811" y="529" width="1" height="3" fill="#c800ff"/>
<rect x="812" y="528" width="1" height="4" fill="#c800ff"/>
<rect x="813" y="529" width="1" height="3" fill="#c800ff"/>
<rect x="814" y="528" width="1" height="4" fill="#c800ff"/>
<rect x="815" y="529" width="1" height="3" fill="#c800ff"/>
<rect x="819" y="530" width="1" height="2" fill="#8b6914"/>
<rect x="820" y="529" width="1" height="3" fill="#8b6914"/>
<rect x="821" y="530" width="1" height="2" fill="#8b6914"/>
<rect x="822" y="529" width="1" height="3" fill="#cd5b45"/>
<rect x="823" y="529" width="1" height="3" fill="#cd5b45"/>
<rect x="824" y="530" width="1" height="2" fill="#cd5b45"/>
<rect x="825" y="530" width="1" height="2" fill="#cdc5b4"/>
<rect x="826" y="530" width="1" height="2" fill="#cdc5b4"/>
<rect x="827" y="531" width="1" height="1" fill="#cdc5b4"/>
<rect x="828" y="530" width="1" height="2" fill="#00c5cd"/>
<rect x="829" y="529" width="1" height="3" fill="#00c5cd"/>
<rect x="830" y="528" width="1" height="4" fill="#00c5cd"/>
<rect x="831" y="529" width="1" height="3" fill="#00c5cd"/>
<rect x="832" y="528" width="1" height="4" fill="#00c5cd"/>
<rect x="833" y="529" width="1" height="3" fill="#00c5cd"/>
<rect x="834" y="530" width="1" height="2" fill="#00c5cd"/>
<rect x="835" y="530" width="1" height="2" fill="#00c5cd"/>
<rect x="836" y="531" width="1" height="1" fill="#00c5cd"/>
<rect x="740" y="533" width="38" height="1" fill="#7a7a7a"/>
<text transform="translate(736.5 532) scale(1.0989 1)" fill="#000000" stroke="#000000" text-anchor="end" xml:space="preserve">PRDM10</text>
<rect x="782" y="542" width="101" height="1" fill="#e6e6e6"/>
<rect x="782" y="542" width="1" height="5" fill="#e6e6e6"/>
<rect x="882" y="542" width="1" height="5" fill="#e6e6e6"/>
<rect x="782" y="546" width="101" height="1" fill="#c4c4c4"/>
<rect x="787" y="545" width="1" height="1" fill="#8fbc8f"/>
<rect x="788" y="545" width="1" height="1" fill="#8fbc8f"/>
<rect x="794" y="545" width="1" height="1" fill="#8fbc8f"/>
<rect x="796" y="545" width="1" height="1" fill="#8fbc8f"/>
<rect x="819" y="545" width="1" height="1" fill="#eeee00"/>
<rect x="825" y="545" width="1" height="1" fill="#00ced1"/>
<rect x="830" y="545" width="1" height="1" fill="#ffa54f"/>
<rect x="831" y="545" width="1" height="1" fill="#ffa54f"/>
<rect x="849" y="543" width="1" height="3" fill="#1c6cff"/>
<rect x="852" y="545" width="1" height="1" fill="#1c6cff"/>
<rect x="854" y="545" width="1" height="1" fill="#c800ff"/>
<rect x="858" y="544" width="1" height="2" fill="#8b6914"/>
<rect x="859" y="544" width="1" height="2" fill="#8b6914"/>
<rect x="860" y="544" width="1" height="2" fill="#8b6914"/>
<rect x="861" y="544" width="1" height="2" fill="#8b6914"/>
<rect x="862" y="545" width="1" height="1" fill="#8b6914"/>
<rect x="863" y="545" width="1" height="1" fill="#8b6914"/>
<rect x="865" y="545" width="1" height="1" fill="#cd5b45"/>
<rect x="868" y="543" width="1" height="3" fill="#cdc5b4"/>
<rect x="869" y="544" width="1" height="2" fill="#cdc5b4"/>
<rect x="877" y="545" width="1" height="1" fill="#00c5cd"/>
<rect x="878" y="545" width="1" height="1" fill="#00c5cd"/>
<rect x="879" y="545" width="1" height="1" fill="#00c5cd"/>
<rect x="880" y="545" width="1" height="1" fill="#00c5cd"/>
<rect x="782" y="547" width="3" height="1" fill="#7a7a7a"/>
<text transform="translate(778.5 546) scale(1.0989 1)" fill="#000000" stroke="#000000" text-anchor="end" xml:space="preserve">LOC108634236</text>
<rect x="799" y="551" width="101" height="1" fill="#e6e6e6"/>
<rect x="799" y="551" width="1" height="25" fill="#e6e6e6"/>
<rect x="899" y="551" width="1" height="25" fill="#e6e6e6"/>
<rect x="799" y="575" width="101" height="1" fill="#c4c4c4"/>
<rect x="799" y="557" width="1" height="18" fill="#8fbc8f"/>
<rect x="800" y="558" width="1" height="17" fill="#8fbc8f"/>
<rect x="801" y="557" width="1" height="18" fill="#8fbc8f"/>
<rect x="802" y="558" width="1" height="17" fill="#8fbc8f"/>
<rect x="803" y="557" width="1" height="18" fill="#8fbc8f"/>
<rect x="804" y="558" width="1" height="17" fill="#8fbc8f"/>
<rect x="805" y="557" width="1" height="18" fill="#8fbc8f"/>
<rect x="806" y="557" width="1" height="18" fill="#8fbc8f"/>
<rect x="807" y="558" width="1" height="17" fill="#8fbc8f"/>
<rect x="808" y="557" width="1" height="18" fill="#8fbc8f"/>
<rect x="809" y="558" width="1" height="17" fill="#8fbc8f"/>
<rect x="810" y="559" width="1" height="16" fill="#8fbc8f"/>
<rect x="811" y="560" width="1" height="15" fill="#8fbc8f"/>
<rect x="812" y="561" width="1" height="14" fill="#8fbc8f"/>
<rect x="813" y="561" width="1" height="14" fill="#8fbc8f"/>
<rect x="814" y="560" width="1" height="15" fill="#ffb6c1"/>
<rect x="815" y="560" width="1" height="15" fill="#ffb6c1"/>
<rect x="816" y="559" width="1" height="16" fill="#ffb6c1"/>
<rect x="817" y="556" width="1" height="19" fill="#ffb6c1"/>
<rect x="818" y="561" width="1" height="14" fill="#0000cd"/>
<rect x="819" y="561" width="1" height="14" fill="#0000cd"/>
<rect x="820" y="562" width="1" height="13" fill="#0000cd"/>
<rect x="821" y="563" width="1" height="12" fill="#0000cd"/>
<rect x="822" y="563" width="1" height="12" fill="#0000cd"/>
<rect x="823" y="563" width="1" height="12" fill="#0000cd"/>
<rect x="824" y="563" width="1" height="12" fill="#0000cd"/>
<rect x="825" y="563" width="1" height="12" fill="#0000cd"/>
<rect x="826" y="563" width="1" height="12" fill="#0000cd"/>
<rect x="827" y="564" width="1" height="11" fill="#0000cd"/>
<rect x="828" y="565" width="1" height="10" fill="#0000cd"/>
<rect x="829" y="564" width="1" height="11" fill="#0000cd"/>
<rect x="830" y="563" width="1" height="12" fill="#0000cd"/>
<rect x="831" y="562" width="1" height="13" fill="#0000cd"/>
<rect x="832" y="561" width="1" height="14" fill="#0000cd"/>
<rect x="833" y="561" width="1" height="14" fill="#0000cd"/>
<rect x="834" y="559" width="1" height="16" fill="#eeee00"/>
<rect x="835" y="559" width="1" height="16" fill="#eeee00"/>
<rect x="836" y="559" width="1" height="16" fill="#eeee00"/>
<rect x="837" y="559" width="1" height="16" fill="#eeee00"/>
<rect x="838" y="559" width="1" height="16" fill="#eeee00"/>
<rect x="839" y="559" width="1" height="16" fill="#ee82ee"/>
<rect x="840" y="556" width="1" height="19" fill="#ee82ee"/>
<rect x="841" y="558" width="1" height="17" fill="#ee82ee"/>
<rect x="842" y="558" width="1" height="17" fill="#00ced1"/>
<rect x="843" y="558" width="1" height="17" fill="#00ced1"/>
<rect x="844" y="559" width="1" height="16" fill="#00ced1"/>
<rect x="845" y="560" width="1" height="15" fill="#00ced1"/>
<rect x="846" y="559" width="1" height="16" fill="#ffa54f"/>
<rect x="847" y="560" width="1" height="15" fill="#ffa54f"/>
<rect x="848" y="560" width="1" height="15" fill="#ffa54f"/>
<rect x="849" y="562" width="1" height="13" fill="#d2b48c"/>
<rect x="850" y="562" width="1" height="13" fill="#d2b48c"/>
<rect x="851" y="562" width="1" height="13" fill="#d2b48c"/>
<rect x="852" y="561" width="1" height="14" fill="#d2b48c"/>
<rect x="853" y="561" width="1" height="14" fill="#d2b48c"/>
<rect x="854" y="560" width="1" height="15" fill="#d2b48c"/>
<rect x="855" y="559" width="1" height="16" fill="#d2b48c"/>
<rect x="856" y="558" width="1" height="17" fill="#d2b48c"/>
<rect x="857" y="559" width="1" height="16" fill="#d2b48c"/>
<rect x="858" y="559" width="1" height="16" fill="#d2b48c"/>
<rect x="859" y="559" width="1" height="16" fill="#d2b48c"/>
<rect x="860" y="557" width="1" height="18" fill="#1c6cff"/>
<rect x="861" y="557" width="1" height="18" fill="#1c6cff"/>
<rect x="862" y="558" width="1" height="17" fill="#1c6cff"/>
<rect x="863" y="558" width="1" height="17" fill="#1c6cff"/>
<rect x="864" y="559" width="1" height="16" fill="#1c6cff"/>
<rect x="865" y="569" width="1" height="6" fill="#1c6cff"/>
<rect x="866" y="569" width="1" height="6" fill="#1c6cff"/>
<rect x="867" y="558" width="1" height="17" fill="#1c6cff"/>
<rect x="868" y="558" width="1" height="17" fill="#1c6cff"/>
<rect x="869" y="558" width="1" height="17" fill="#1c6cff"/>
<rect x="870" y="562" width="1" height="13" fill="#c800ff"/>
<rect x="871" y="563" width="1" height="12" fill="#c800ff"/>
<rect x="872" y="563" width="1" height="12" fill="#c800ff"/>
<rect x="873" y="564" width="1" height="11" fill="#c800ff"/>
<rect x="874" y="564" width="1" height="11" fill="#c800ff"/>
<rect x="875" y="569" width="1" height="6" fill="#8b6914"/>
<rect x="876" y="569" width="1" height="6" fill="#8b6914"/>
<rect x="877" y="569" width="1" height="6" fill="#8b6914"/>
<rect x="878" y="569" width="1" height="6" fill="#8b6914"/>
<rect x="879" y="570" width="1" height="5" fill="#8b6914"/>
<rect x="880" y="570" width="1" height="5" fill="#8b6914"/>
<rect x="881" y="555" width="1" height="20" fill="#cd5b45"/>
<rect x="882" y="554" width="1" height="21" fill="#cd5b45"/>
<rect x="883" y="555" width="1" height="20" fill="#cd5b45"/>
<rect x="884" y="554" width="1" height="21" fill="#cdc5b4"/>
<rect x="885" y="551" width="1" height="24" fill="#cdc5b4"/>
<rect x="886" y="552" width="1" height="23" fill="#cdc5b4"/>
<rect x="887" y="561" width="1" height="14" fill="#00c5cd"/>
<rect x="888" y="560" width="1" height="15" fill="#00c5cd"/>
<rect x="889" y="559" width="1" height="16" fill="#00c5cd"/>
<rect x="890" y="559" width="1" height="16" fill="#00c5cd"/>
<rect x="891" y="558" width="1" height="17" fill="#00c5cd"/>
<rect x="892" y="559" width="1" height="16" fill="#00c5cd"/>
<rect x="893" y="560" width="1" height="15" fill="#00c5cd"/>
<rect x="894" y="560" width="1" height="15" fill="#00c5cd"/>
<rect x="895" y="561" width="1" height="14" fill="#00c5cd"/>
<rect x="896" y="561" width="1" height="14" fill="#00c5cd"/>
<rect x="897" y="561" width="1" height="14" fill="#00c5cd"/>
<rect x="799" y="576" width="26" height="1" fill="#7a7a7a"/>
<text transform="translate(795.5 567.5) scale(1.0989 1)" fill="#000000" stroke="#000000" text-anchor="end" xml:space="preserve">APLP2</text>
<rect x="823" y="580" width="101" height="1" fill="#e6e6e6"/>
<rect x="823" y="580" width="1" height="10" fill="#e6e6e6"/>
<rect x="923" y="580" width="1" height="10" fill="#e6e6e6"/>
<rect x="823" y="589" width="101" height="1" fill="#c4c4c4"/>
<rect x="823" y="587" width="1" height="2" fill="#8fbc8f"/>
<rect x="824" y="586" width="1" height="3" fill="#8fbc8f"/>
<rect x="825" y="586" width="1" height="3" fill="#8fbc8f"/>
<rect x="826" y="585" width="1" height="4" fill="#8fbc8f"/>
<rect x="827" y="585" width="1" height="4" fill="#8fbc8f"/>
<rect x="828" y="584" width="1" height="5" fill="#8fbc8f"/>
<rect x="829" y="583" width="1" height="6" fill="#8fbc8f"/>
<rect x="830" y="584" width="1" height="5" fill="#8fbc8f"/>
<rect x="831" y="583" width="1" height="6" fill="#8fbc8f"/>
<rect x="832" y="584" width="1" height="5" fill="#8fbc8f"/>
<rect x="833" y="585" width="1" height="4" fill="#8fbc8f"/>
<rect x="834" y="583" width="1" height="6" fill="#8fbc8f"/>
<rect x="835" y="586" width="1" height="3" fill="#8fbc8f"/>
<rect x="836" y="583" width="1" height="6" fill="#8fbc8f"/>
<rect x="837" y="586" width="1" height="3" fill="#8fbc8f"/>
<rect x="838" y="587" width="1" height="2" fill="#ffb6c1"/>
<rect x="839" y="587" width="1" height="2" fill="#ffb6c1"/>
<rect x="840" y="586" width="1" height="3" fill="#ffb6c1"/>
<rect x="841" y="587" width="1" height="2" fill="#ffb6c1"/>
<rect x="842" y="587" width="1" height="2" fill="#0000cd"/>
<rect x="843" y="587" width="1" height="2" fill="#0000cd"/>
<rect x="844" y="586" width="1" height="3" fill="#0000cd"/>
<rect x="845" y="587" width="1" height="2" fill="#0000cd"/>
<rect x="846" y="587" width="1" height="2" fill="#0000cd"/>
<rect x="847" y="587" width="1" height="2" fill="#0000cd"/>
<rect x="848" y="587" width="1" height="2" fill="#0000cd"/>
<rect x="849" y="587" width="1" height="2" fill="#0000cd"/>
<rect x="850" y="587" width="1" height="2" fill="#0000cd"/>
<rect x="851" y="587" width="1" height="2" fill="#0000cd"/>
<rect x="852" y="587" width="1" height="2" fill="#0000cd"/>
<rect x="853" y="587" width="1" height="2" fill="#0000cd"/>
<rect x="854" y="587" width="1" height="2" fill="#0000cd"/>
<rect x="855" y="587" width="1" height="2" fill="#0000cd"/>
<rect x="856" y="588" width="1" height="1" fill="#0000cd"/>
<rect x="857" y="587" width="1" height="2" fill="#0000cd"/>
<rect x="858" y="586" width="1" height="3" fill="#eeee00"/>
<rect x="859" y="586" width="1" height="3" fill="#eeee00"/>
<rect x="860" y="585" width="1" height="4" fill="#eeee00"/>
<rect x="861" y="585" width="1" height="4" fill="#eeee00"/>
<rect x="862" y="586" width="1" height="3" fill="#eeee00"/>
<rect x="863" y="587" width="1" height="2" fill="#ee82ee"/>
<rect x="864" y="584" width="1" height="5" fill="#ee82ee"/>
<rect x="865" y="587" width="1" height="2" fill="#ee82ee"/>
<rect x="866" y="585" width="1" height="4" fill="#00ced1"/>
<rect x="867" y="585" width="1" height="4" fill="#00ced1"/>
<rect x="868" y="587" width="1" height="2" fill="#00ced1"/>
<rect x="870" y="585" width="1" height="4" fill="#ffa54f"/>
<rect x="871" y="585" width="1" height="4" fill="#ffa54f"/>
<rect x="872" y="586" width="1" height="3" fill="#ffa54f"/>
<rect x="873" y="586" width="1" height="3" fill="#d2b48c"/>
<rect x="874" y="587" width="1" height="2" fill="#d2b48c"/>
<rect x="875" y="587" width="1" height="2" fill="#d2b48c"/>
<rect x="876" y="586" width="1" height="3" fill="#d2b48c"/>
<rect x="877" y="586" width="1" height="3" fill="#d2b48c"/>
<rect x="878" y="586" width="1" height="3" fill="#d2b48c"/>
<rect x="879" y="585" width="1" height="4" fill="#d2b48c"/>
<rect x="880" y="584" width="1" height="5" fill="#d2b48c"/>
<rect x="881" y="585" width="1" height="4" fill="#d2b48c"/>
<rect x="882" y="586" width="1" height="3" fill="#d2b48c"/>
<rect x="883" y="586" width="1" height="3" fill="#d2b48c"/>
<rect x="884" y="585" width="1" height="4" fill="#1c6cff"/>
<rect x="885" y="584" width="1" height="5" fill="#1c6cff"/>
<rect x="886" y="585" width="1" height="4" fill="#1c6cff"/>
<rect x="887" y="583" width="1" height="6" fill="#1c6cff"/>
<rect x="888" y="584" width="1" height="5" fill="#1c6cff"/>
<rect x="889" y="583" width="1" height="6" fill="#1c6cff"/>
<rect x="890" y="586" width="1" height="3" fill="#1c6cff"/>
<rect x="891" y="585" width="1" height="4" fill="#1c6cff"/>
<rect x="892" y="587" width="1" height="2" fill="#1c6cff"/>
<rect x="893" y="586" width="1" height="3" fill="#1c6cff"/>
<rect x="894" y="586" width="1" height="3" fill="#c800ff"/>
<rect x="898" y="588" width="1" height="1" fill="#c800ff"/>
<rect x="905" y="581" width="1" height="8" fill="#cd5b45"/>
<rect x="906" y="580" width="1" height="9" fill="#cd5b45"/>
<rect x="907" y="582" width="1" height="7" fill="#cd5b45"/>
<rect x="908" y="584" width="1" height="5" fill="#cdc5b4"/>
<rect x="909" y="582" width="1" height="7" fill="#cdc5b4"/>
<rect x="910" y="587" width="1" height="2" fill="#cdc5b4"/>
<rect x="911" y="586" width="1" height="3" fill="#00c5cd"/>
<rect x="912" y="585" width="1" height="4" fill="#00c5cd"/>
<rect x="913" y="585" width="1" height="4" fill="#00c5cd"/>
<rect x="914" y="584" width="1" height="5" fill="#00c5cd"/>
<rect x="915" y="584" width="1" height="5" fill="#00c5cd"/>
<rect x="916" y="585" width="1" height="4" fill="#00c5cd"/>
<rect x="917" y="585" width="1" height="4" fill="#00c5cd"/>
<rect x="918" y="585" width="1" height="4" fill="#00c5cd"/>
<rect x="919" y="586" width="1" height="3" fill="#00c5cd"/>
<rect x="920" y="586" width="1" height="3" fill="#00c5cd"/>
<rect x="823" y="590" width="2" height="1" fill="#7a7a7a"/>
<text transform="translate(819.5 589) scale(1.0989 1)" fill="#000000" stroke="#000000" text-anchor="end" xml:space="preserve">LOC108634186</text>
<rect x="832" y="594" width="101" height="1" fill="#e6e6e6"/>
<rect x="832" y="594" width="1" height="17" fill="#e6e6e6"/>
<rect x="932" y="594" width="1" height="17" fill="#e6e6e6"/>
<rect x="832" y="610" width="101" height="1" fill="#c4c4c4"/>
<rect x="832" y="605" width="1" height="5" fill="#8fbc8f"/>
<rect x="833" y="601" width="1" height="9" fill="#8fbc8f"/>
<rect x="834" y="601" width="1" height="9" fill="#8fbc8f"/>
<rect x="835" y="598" width="1" height="12" fill="#8fbc8f"/>
<rect x="836" y="597" width="1" height="13" fill="#8fbc8f"/>
<rect x="837" y="597" width="1" height="13" fill="#8fbc8f"/>
<rect x="838" y="598" width="1" height="12" fill="#8fbc8f"/>
<rect x="839" y="597" width="1" height="13" fill="#8fbc8f"/>
<rect x="840" y="598" width="1" height="12" fill="#8fbc8f"/>
<rect x="841" y="598" width="1" height="12" fill="#8fbc8f"/>
<rect x="842" y="598" width="1" height="12" fill="#8fbc8f"/>
<rect x="843" y="599" width="1" height="11" fill="#8fbc8f"/>
<rect x="844" y="600" width="1" height="10" fill="#8fbc8f"/>
<rect x="845" y="600" width="1" height="10" fill="#8fbc8f"/>
<rect x="846" y="604" width="1" height="6" fill="#8fbc8f"/>
<rect x="847" y="607" width="1" height="3" fill="#ffb6c1"/>
<rect x="848" y="606" width="1" height="4" fill="#ffb6c1"/>
<rect x="849" y="604" width="1" height="6" fill="#ffb6c1"/>
<rect x="850" y="607" width="1" height="3" fill="#ffb6c1"/>
<rect x="852" y="609" width="1" height="1" fill="#0000cd"/>
<rect x="853" y="609" width="1" height="1" fill="#0000cd"/>
<rect x="856" y="609" width="1" height="1" fill="#0000cd"/>
<rect x="857" y="609" width="1" height="1" fill="#0000cd"/>
<rect x="858" y="609" width="1" height="1" fill="#0000cd"/>
<rect x="867" y="609" width="1" height="1" fill="#eeee00"/>
<rect x="868" y="609" width="1" height="1" fill="#eeee00"/>
<rect x="869" y="609" width="1" height="1" fill="#eeee00"/>
<rect x="870" y="609" width="1" height="1" fill="#eeee00"/>
<rect x="872" y="607" width="1" height="3" fill="#ee82ee"/>
<rect x="873" y="603" width="1" height="7" fill="#ee82ee"/>
<rect x="874" y="606" width="1" height="4" fill="#ee82ee"/>
<rect x="875" y="607" width="1" height="3" fill="#00ced1"/>
<rect x="876" y="601" width="1" height="9" fill="#00ced1"/>
<rect x="877" y="607" width="1" height="3" fill="#00ced1"/>
<rect x="879" y="604" width="1" height="6" fill="#ffa54f"/>
<rect x="880" y="604" width="1" height="6" fill="#ffa54f"/>
<rect x="881" y="605" width="1" height="5" fill="#ffa54f"/>
<rect x="884" y="600" width="1" height="10" fill="#d2b48c"/>
<rect x="885" y="599" width="1" height="11" fill="#d2b48c"/>
<rect x="886" y="599" width="1" height="11" fill="#d2b48c"/>
<rect x="887" y="606" width="1" height="4" fill="#d2b48c"/>
<rect x="888" y="600" width="1" height="10" fill="#d2b48c"/>
<rect x="889" y="599" width="1" height="11" fill="#d2b48c"/>
<rect x="890" y="599" width="1" height="11" fill="#d2b48c"/>
<rect x="891" y="600" width="1" height="10" fill="#d2b48c"/>
<rect x="893" y="596" width="1" height="14" fill="#1c6cff"/>
<rect x="894" y="595" width="1" height="15" fill="#1c6cff"/>
<rect x="895" y="594" width="1" height="16" fill="#1c6cff"/>
<rect x="896" y="596" width="1" height="14" fill="#1c6cff"/>
<rect x="897" y="594" width="1" height="16" fill="#1c6cff"/>
<rect x="898" y="595" width="1" height="15" fill="#1c6cff"/>
<rect x="899" y="596" width="1" height="14" fill="#1c6cff"/>
<rect x="900" y="608" width="1" height="2" fill="#1c6cff"/>
<rect x="901" y="607" width="1" height="3" fill="#1c6cff"/>
<rect x="902" y="608" width="1" height="2" fill="#1c6cff"/>
<rect x="903" y="609" width="1" height="1" fill="#c800ff"/>
<rect x="904" y="609" width="1" height="1" fill="#c800ff"/>
<rect x="913" y="599" width="1" height="11" fill="#8b6914"/>
<rect x="914" y="599" width="1" height="11" fill="#cd5b45"/>
<rect x="915" y="599" width="1" height="11" fill="#cd5b45"/>
<rect x="916" y="599" width="1" height="11" fill="#cd5b45"/>
<rect x="917" y="601" width="1" height="9" fill="#cdc5b4"/>
<rect x="918" y="601" width="1" height="9" fill="#cdc5b4"/>
<rect x="920" y="599" width="1" height="11" fill="#00c5cd"/>
<rect x="921" y="600" width="1" height="10" fill="#00c5cd"/>
<rect x="922" y="601" width="1" height="9" fill="#00c5cd"/>
<rect x="923" y="602" width="1" height="8" fill="#00c5cd"/>
<rect x="924" y="603" width="1" height="7" fill="#00c5cd"/>
<rect x="925" y="605" width="1" height="5" fill="#00c5cd"/>
<rect x="929" y="609" width="1" height="1" fill="#00c5cd"/>
<rect x="832" y="611" width="16" height="1" fill="#7a7a7a"/>
<text transform="translate(828.5 606.5) scale(1.0989 1)" fill="#000000" stroke="#000000" text-anchor="end" xml:space="preserve">ST14</text>
<rect x="852" y="615" width="98" height="1" fill="#e6e6e6"/>
<rect x="852" y="615" width="1" height="12" fill="#e6e6e6"/>
<rect x="852" y="626" width="98" height="1" fill="#c4c4c4"/>
<rect x="852" y="622" width="1" height="4" fill="#8fbc8f"/>
<rect x="853" y="622" width="1" height="4" fill="#8fbc8f"/>
<rect x="854" y="621" width="1" height="5" fill="#8fbc8f"/>
<rect x="855" y="621" width="1" height="5" fill="#8fbc8f"/>
<rect x="856" y="622" width="1" height="4" fill="#8fbc8f"/>
<rect x="857" y="621" width="1" height="5" fill="#8fbc8f"/>
<rect x="858" y="621" width="1" height="5" fill="#8fbc8f"/>
<rect x="859" y="620" width="1" height="6" fill="#8fbc8f"/>
<rect x="860" y="621" width="1" height="5" fill="#8fbc8f"/>
<rect x="861" y="620" width="1" height="6" fill="#8fbc8f"/>
<rect x="862" y="620" width="1" height="6" fill="#8fbc8f"/>
<rect x="863" y="619" width="1" height="7" fill="#8fbc8f"/>
<rect x="864" y="615" width="1" height="11" fill="#8fbc8f"/>
<rect x="865" y="621" width="1" height="5" fill="#8fbc8f"/>
<rect x="866" y="622" width="1" height="4" fill="#8fbc8f"/>
<rect x="867" y="619" width="1" height="7" fill="#ffb6c1"/>
<rect x="868" y="618" width="1" height="8" fill="#ffb6c1"/>
<rect x="869" y="618" width="1" height="8" fill="#ffb6c1"/>
<rect x="870" y="619" width="1" height="7" fill="#ffb6c1"/>
<rect x="871" y="620" width="1" height="6" fill="#0000cd"/>
<rect x="872" y="619" width="1" height="7" fill="#0000cd"/>
<rect x="873" y="619" width="1" height="7" fill="#0000cd"/>
<rect x="874" y="619" width="1" height="7" fill="#0000cd"/>
<rect x="875" y="618" width="1" height="8" fill="#0000cd"/>
<rect x="876" y="618" width="1" height="8" fill="#0000cd"/>
<rect x="877" y="618" width="1" height="8" fill="#0000cd"/>
<rect x="878" y="617" width="1" height="9" fill="#0000cd"/>
<rect x="879" y="618" width="1" height="8" fill="#0000cd"/>
<rect x="880" y="617" width="1" height="9" fill="#0000cd"/>
<rect x="881" y="618" width="1" height="8" fill="#0000cd"/>
<rect x="882" y="618" width="1" height="8" fill="#0000cd"/>
<rect x="883" y="619" width="1" height="7" fill="#0000cd"/>
<rect x="884" y="618" width="1" height="8" fill="#0000cd"/>
<rect x="885" y="618" width="1" height="8" fill="#0000cd"/>
<rect x="886" y="619" width="1" height="7" fill="#0000cd"/>
<rect x="887" y="621" width="1" height="5" fill="#eeee00"/>
<rect x="888" y="621" width="1" height="5" fill="#eeee00"/>
<rect x="889" y="620" width="1" height="6" fill="#eeee00"/>
<rect x="890" y="621" width="1" height="5" fill="#eeee00"/>
<rect x="891" y="621" width="1" height="5" fill="#eeee00"/>
<rect x="892" y="620" width="1" height="6" fill="#ee82ee"/>
<rect x="893" y="620" width="1" height="6" fill="#ee82ee"/>
<rect x="894" y="621" width="1" height="5" fill="#ee82ee"/>
<rect x="895" y="623" width="1" height="3" fill="#00ced1"/>
<rect x="896" y="619" width="1" height="7" fill="#00ced1"/>
<rect x="897" y="622" width="1" height="4" fill="#00ced1"/>
<rect x="898" y="623" width="1" height="3" fill="#00ced1"/>
<rect x="899" y="618" width="1" height="8" fill="#ffa54f"/>
<rect x="900" y="618" width="1" height="8" fill="#ffa54f"/>
<rect x="901" y="618" width="1" height="8" fill="#ffa54f"/>
<rect x="902" y="620" width="1" height="6" fill="#d2b48c"/>
<rect x="903" y="621" width="1" height="5" fill="#d2b48c"/>
<rect x="904" y="622" width="1" height="4" fill="#d2b48c"/>
<rect x="905" y="623" width="1" height="3" fill="#d2b48c"/>
<rect x="906" y="624" width="1" height="2" fill="#d2b48c"/>
<rect x="907" y="625" width="1" height="1" fill="#d2b48c"/>
<rect x="908" y="624" width="1" height="2" fill="#d2b48c"/>
<rect x="909" y="624" width="1" height="2" fill="#d2b48c"/>
<rect x="910" y="623" width="1" height="3" fill="#d2b48c"/>
<rect x="911" y="622" width="1" height="4" fill="#d2b48c"/>
<rect x="912" y="622" width="1" height="4" fill="#d2b48c"/>
<rect x="913" y="622" width="1" height="4" fill="#1c6cff"/>
<rect x="914" y="621" width="1" height="5" fill="#1c6cff"/>
<rect x="915" y="621" width="1" height="5" fill="#1c6cff"/>
<rect x="916" y="620" width="1" height="6" fill="#1c6cff"/>
<rect x="917" y="621" width="1" height="5" fill="#1c6cff"/>
<rect x="918" y="619" width="1" height="7" fill="#1c6cff"/>
<rect x="919" y="620" width="1" height="6" fill="#1c6cff"/>
<rect x="920" y="618" width="1" height="8" fill="#1c6cff"/>
<rect x="921" y="619" width="1" height="7" fill="#1c6cff"/>
<rect x="922" y="616" width="1" height="10" fill="#1c6cff"/>
<rect x="923" y="617" width="1" height="9" fill="#c800ff"/>
<rect x="924" y="616" width="1" height="10" fill="#c800ff"/>
<rect x="925" y="616" width="1" height="10" fill="#c800ff"/>
<rect x="926" y="617" width="1" height="9" fill="#c800ff"/>
<rect x="927" y="617" width="1" height="9" fill="#c800ff"/>
<rect x="928" y="623" width="1" height="3" fill="#8b6914"/>
<rect x="929" y="623" width="1" height="3" fill="#8b6914"/>
<rect x="930" y="623" width="1" height="3" fill="#8b6914"/>
<rect x="931" y="623" width="1" height="3" fill="#8b6914"/>
<rect x="932" y="622" width="1" height="4" fill="#8b6914"/>
<rect x="933" y="622" width="1" height="4" fill="#8b6914"/>
<rect x="934" y="618" width="1" height="8" fill="#cd5b45"/>
<rect x="935" y="618" width="1" height="8" fill="#cd5b45"/>
<rect x="936" y="619" width="1" height="7" fill="#cd5b45"/>
<rect x="937" y="620" width="1" height="6" fill="#cdc5b4"/>
<rect x="938" y="620" width="1" height="6" fill="#cdc5b4"/>
<rect x="939" y="621" width="1" height="5" fill="#cdc5b4"/>
<rect x="940" y="618" width="1" height="8" fill="#00c5cd"/>
<rect x="941" y="619" width="1" height="7" fill="#00c5cd"/>
<rect x="942" y="620" width="1" height="6" fill="#00c5cd"/>
<rect x="943" y="620" width="1" height="6" fill="#00c5cd"/>
<rect x="944" y="621" width="1" height="5" fill="#00c5cd"/>
<rect x="945" y="621" width="1" height="5" fill="#00c5cd"/>
<rect x="946" y="622" width="1" height="4" fill="#00c5cd"/>
<rect x="947" y="621" width="1" height="5" fill="#00c5cd"/>
<rect x="948" y="622" width="1" height="4" fill="#00c5cd"/>
<rect x="949" y="622" width="1" height="4" fill="#00c5cd"/>
<rect x="852" y="627" width="24" height="1" fill="#7a7a7a"/>
<text transform="translate(848.5 625.0) scale(1.0989 1)" fill="#000000" stroke="#000000" text-anchor="end" xml:space="preserve">ZBTB44</text>
<rect x="897" y="498" width="53" height="1" fill="#e6e6e6"/>
<rect x="897" y="498" width="1" height="6" fill="#e6e6e6"/>
<rect x="897" y="503" width="53" height="1" fill="#c4c4c4"/>
<rect x="897" y="501" width="1" height="2" fill="#8fbc8f"/>
<rect x="898" y="501" width="1" height="2" fill="#8fbc8f"/>
<rect x="899" y="501" width="1" height="2" fill="#8fbc8f"/>
<rect x="900" y="501" width="1" height="2" fill="#8fbc8f"/>
<rect x="902" y="502" width="1" height="1" fill="#8fbc8f"/>
<rect x="904" y="502" width="1" height="1" fill="#8fbc8f"/>
<rect x="905" y="502" width="1" height="1" fill="#8fbc8f"/>
<rect x="906" y="502" width="1" height="1" fill="#8fbc8f"/>
<rect x="907" y="502" width="1" height="1" fill="#8fbc8f"/>
<rect x="908" y="502" width="1" height="1" fill="#8fbc8f"/>
<rect x="916" y="501" width="1" height="2" fill="#0000cd"/>
<rect x="917" y="501" width="1" height="2" fill="#0000cd"/>
<rect x="918" y="502" width="1" height="1" fill="#0000cd"/>
<rect x="922" y="501" width="1" height="2" fill="#0000cd"/>
<rect x="923" y="500" width="1" height="3" fill="#0000cd"/>
<rect x="924" y="498" width="1" height="5" fill="#0000cd"/>
<rect x="925" y="500" width="1" height="3" fill="#0000cd"/>
<rect x="926" y="501" width="1" height="2" fill="#0000cd"/>
<rect x="927" y="501" width="1" height="2" fill="#0000cd"/>
<rect x="928" y="502" width="1" height="1" fill="#0000cd"/>
<rect x="929" y="501" width="1" height="2" fill="#0000cd"/>
<rect x="930" y="502" width="1" height="1" fill="#0000cd"/>
<rect x="931" y="502" width="1" height="1" fill="#0000cd"/>
<rect x="932" y="502" width="1" height="1" fill="#eeee00"/>
<rect x="935" y="502" width="1" height="1" fill="#eeee00"/>
<rect x="940" y="499" width="1" height="4" fill="#00ced1"/>
<rect x="941" y="502" width="1" height="1" fill="#00ced1"/>
<rect x="944" y="502" width="1" height="1" fill="#ffa54f"/>
<rect x="945" y="502" width="1" height="1" fill="#ffa54f"/>
<rect x="897" y="504" width="7" height="1" fill="#7a7a7a"/>
<text transform="translate(893.5 503) scale(1.0989 1)" fill="#000000" stroke="#000000" text-anchor="end" xml:space="preserve">ADAMTS8</text>
<rect x="914" y="508" width="36" height="1" fill="#e6e6e6"/>
<rect x="914" y="508" width="1" height="11" fill="#e6e6e6"/>
<rect x="914" y="518" width="36" height="1" fill="#c4c4c4"/>
<rect x="914" y="514" width="1" height="4" fill="#8fbc8f"/>
<rect x="915" y="512" width="1" height="6" fill="#8fbc8f"/>
<rect x="916" y="510" width="1" height="8" fill="#8fbc8f"/>
<rect x="917" y="513" width="1" height="5" fill="#8fbc8f"/>
<rect x="918" y="511" width="1" height="7" fill="#8fbc8f"/>
<rect x="919" y="512" width="1" height="6" fill="#8fbc8f"/>
<rect x="920" y="512" width="1" height="6" fill="#8fbc8f"/>
<rect x="921" y="513" width="1" height="5" fill="#8fbc8f"/>
<rect x="922" y="513" width="1" height="5" fill="#8fbc8f"/>
<rect x="923" y="514" width="1" height="4" fill="#8fbc8f"/>
<rect x="924" y="515" width="1" height="3" fill="#8fbc8f"/>
<rect x="925" y="515" width="1" height="3" fill="#8fbc8f"/>
<rect x="926" y="516" width="1" height="2" fill="#8fbc8f"/>
<rect x="929" y="511" width="1" height="7" fill="#ffb6c1"/>
<rect x="930" y="508" width="1" height="10" fill="#ffb6c1"/>
<rect x="931" y="511" width="1" height="7" fill="#ffb6c1"/>
<rect x="932" y="511" width="1" height="7" fill="#ffb6c1"/>
<rect x="933" y="515" width="1" height="3" fill="#0000cd"/>
<rect x="934" y="515" width="1" height="3" fill="#0000cd"/>
<rect x="935" y="515" width="1" height="3" fill="#0000cd"/>
<rect x="936" y="516" width="1" height="2" fill="#0000cd"/>
<rect x="937" y="516" width="1" height="2" fill="#0000cd"/>
<rect x="938" y="516" width="1" height="2" fill="#0000cd"/>
<rect x="939" y="514" width="1" height="4" fill="#0000cd"/>
<rect x="940" y="514" width="1" height="4" fill="#0000cd"/>
<rect x="941" y="512" width="1" height="6" fill="#0000cd"/>
<rect x="942" y="514" width="1" height="4" fill="#0000cd"/>
<rect x="943" y="514" width="1" height="4" fill="#0000cd"/>
<rect x="944" y="516" width="1" height="2" fill="#0000cd"/>
<rect x="945" y="516" width="1" height="2" fill="#0000cd"/>
<rect x="946" y="516" width="1" height="2" fill="#0000cd"/>
<rect x="947" y="515" width="1" height="3" fill="#0000cd"/>
<rect x="948" y="513" width="1" height="5" fill="#0000cd"/>
<rect x="914" y="519" width="10" height="1" fill="#7a7a7a"/>
<text transform="translate(910.5 517.5) scale(1.0989 1)" fill="#000000" stroke="#000000" text-anchor="end" xml:space="preserve">ADAMTS15</text>
<rect x="930" y="532" width="20" height="1" fill="#e6e6e6"/>
<rect x="930" y="533" width="14" height="1" fill="#7a7a7a"/>
<text transform="translate(926.5 532.0) scale(1.0989 1)" fill="#000000" stroke="#000000" text-anchor="end" xml:space="preserve">LOC108634244</text>
<text transform="translate(533.5 637.0) scale(1.0989 1)" fill="#3d8241" stroke="#3d8241" text-anchor="middle" xml:space="preserve">Vertebrate Conservation by phastCons, converted from human data on the UCSC Genome Browser website.</text>
<text transform="translate(533.5 672.0) scale(1.0989 1)" fill="#b452cd" stroke="#b452cd" text-anchor="middle" xml:space="preserve">Vertebrate Conserved Elements, converted from human data on the UCSC Genome Browser website.</text>
<text transform="translate(533.5 691.0) scale(1.0989 1)" fill="#3d8241" stroke="#3d8241" text-anchor="middle" xml:space="preserve">Mammalian Conservation by phastCons, converted from human data on the UCSC Genome Browser website.</text>
<text transform="translate(533.5 726.0) scale(1.0989 1)" fill="#ffa54f" stroke="#ffa54f" text-anchor="middle" xml:space="preserve">Mammalian Conserved Elements, converted from human data on the UCSC Genome Browser website.</text>
<text transform="translate(533.5 745.0) scale(1.0989 1)" fill="#3d8241" stroke="#3d8241" text-anchor="middle" xml:space="preserve">51 Ruminantia Basewise Conservation by phastCons</text>
<path d="M118 674h1v9h-1zM120 674h9v9h-9zM131 674h3v9h-3zM135 674h2v9h-2zM139 674h5v9h-5zM145 674h5v9h-5zM151 674h2v9h-2zM154 674h3v9h-3zM158 674h3v9h-3zM162 674h1v9h-1zM166 674h6v9h-6zM173 674h2v9h-2zM176 674h40v9h-40zM217 674h17v9h-17zM235 674h10v9h-10zM246 674h11v9h-11zM260 674h11v9h-11zM274 674h2v9h-2zM278 674h6v9h-6zM286 674h1v9h-1zM288 674h3v9h-3zM292 674h27v9h-27zM320 674h18v9h-18zM339 674h11v9h-11zM351 674h7v9h-7zM361 674h24v9h-24zM387 674h5v9h-5zM394 674h7v9h-7zM403 674h27v9h-27zM431 674h62v9h-62zM494 674h5v9h-5zM501 674h14v9h-14zM516 674h1v9h-1zM518 674h24v9h-24zM543 674h1v9h-1zM545 674h10v9h-10zM556 674h1v9h-1zM559 674h17v9h-17zM577 674h2v9h-2zM580 674h2v9h-2zM586 674h5v9h-5zM592 674h27v9h-27zM620 674h30v9h-30zM651 674h1v9h-1zM653 674h4v9h-4zM659 674h15v9h-15zM675 674h1v9h-1zM677 674h3v9h-3zM713 674h3v9h-3zM720 674h7v9h-7zM728 674h7v9h-7zM736 674h23v9h-23zM762 674h15v9h-15zM778 674h1v9h-1zM781 674h3v9h-3zM785 674h4v9h-4zM790 674h13v9h-13zM805 674h22v9h-22zM828 674h1v9h-1zM830 674h1v9h-1zM832 674h12v9h-12zM845 674h5v9h-5zM851 674h21v9h-21zM873 674h4v9h-4zM881 674h5v9h-5zM888 674h17v9h-17zM907 674h19v9h-19zM927 674h5v9h-5zM933 674h7v9h-7zM941 674h3v9h-3zM945 674h1v9h-1zM948 674h2v9h-2z" fill="#b452cd" shape-rendering="crispEdges"/>
<path d="M118 728h6v9h-6zM125 728h1v9h-1zM127 728h2v9h-2zM131 728h1v9h-1zM135 728h3v9h-3zM140 728h4v9h-4zM145 728h6v9h-6zM152 728h2v9h-2zM155 728h2v9h-2zM159 728h4v9h-4zM166 728h8v9h-8zM175 728h1v9h-1zM177 728h2v9h-2zM180 728h4v9h-4zM185 728h31v9h-31zM217 728h17v9h-17zM235 728h5v9h-5zM241 728h4v9h-4zM246 728h10v9h-10zM260 728h11v9h-11zM274 728h3v9h-3zM278 728h6v9h-6zM285 728h1v9h-1zM287 728h1v9h-1zM288 728h1v9h-1zM290 728h1v9h-1zM292 728h1v9h-1zM294 728h3v9h-3zM299 728h20v9h-20zM320 728h11v9h-11zM332 728h6v9h-6zM339 728h8v9h-8zM348 728h10v9h-10zM361 728h2v9h-2zM366 728h6v9h-6zM373 728h9v9h-9zM383 728h2v9h-2zM387 728h2v9h-2zM390 728h2v9h-2zM394 728h2v9h-2zM397 728h4v9h-4zM403 728h2v9h-2zM406 728h5v9h-5zM412 728h17v9h-17zM430 728h1v9h-1zM432 728h17v9h-17zM451 728h2v9h-2zM454 728h2v9h-2zM457 728h4v9h-4zM462 728h9v9h-9zM472 728h12v9h-12zM485 728h5v9h-5zM491 728h2v9h-2zM494 728h3v9h-3zM498 728h1v9h-1zM501 728h16v9h-16zM518 728h24v9h-24zM543 728h11v9h-11zM555 728h2v9h-2zM560 728h10v9h-10zM571 728h5v9h-5zM577 728h2v9h-2zM580 728h5v9h-5zM586 728h3v9h-3zM590 728h12v9h-12zM603 728h3v9h-3zM607 728h3v9h-3zM612 728h5v9h-5zM618 728h4v9h-4zM623 728h5v9h-5zM629 728h3v9h-3zM633 728h2v9h-2zM637 728h3v9h-3zM641 728h3v9h-3zM645 728h4v9h-4zM650 728h3v9h-3zM654 728h3v9h-3zM659 728h6v9h-6zM666 728h1v9h-1zM668 728h1v9h-1zM670 728h4v9h-4zM675 728h2v9h-2zM678 728h2v9h-2zM715 728h2v9h-2zM720 728h5v9h-5zM726 728h2v9h-2zM729 728h6v9h-6zM736 728h24v9h-24zM762 728h2v9h-2zM765 728h2v9h-2zM768 728h3v9h-3zM772 728h5v9h-5zM778 728h2v9h-2zM782 728h2v9h-2zM785 728h4v9h-4zM790 728h4v9h-4zM795 728h7v9h-7zM805 728h22v9h-22zM828 728h1v9h-1zM832 728h2v9h-2zM835 728h1v9h-1zM837 728h6v9h-6zM844 728h6v9h-6zM851 728h11v9h-11zM864 728h3v9h-3zM868 728h2v9h-2zM871 728h1v9h-1zM873 728h4v9h-4zM881 728h2v9h-2zM884 728h2v9h-2zM888 728h4v9h-4zM895 728h9v9h-9zM907 728h4v9h-4zM913 728h12v9h-12zM926 728h3v9h-3zM930 728h2v9h-2zM933 728h7v9h-7zM941 728h2v9h-2zM944 728h2v9h-2zM947 728h3v9h-3z" fill="#ffa54f" shape-rendering="crispEdges"/>
<path d="M118 664v-1h1v1zM119 664v-1h1v1zM120 664v-2h1v2zM121 664v-1h1v1zM122 664v-1h1v1zM123 664v-4h1v4zM124 664v-3h1v3zM125 664v-2h1v2zM126 664v-3h1v3zM127 664v-2h1v2zM131 664v-4h1v4zM132 664v-3h1v3zM133 664v-3h1v3zM134 664v-2h1v2zM135 664v-2h1v2zM136 664v-4h1v4zM137 664v-1h1v1zM138 664v-4h1v4zM139 664v-2h1v2zM140 664v-2h1v2zM141 664v-1h1v1zM142 664v-10h1v10zM143 664v-3h1v3zM144 664v-4h1v4zM145 664v-2h1v2zM146 664v-4h1v4zM147 664v-4h1v4zM148 664v-2h1v2zM149 664v-3h1v3zM150 664v-1h1v1zM151 664v-4h1v4zM152 664v-1h1v1zM153 664v-2h1v2zM154 664v-1h1v1zM155 664v-4h1v4zM156 664v-2h1v2zM157 664v-2h1v2zM158 664v-4h1v4zM159 664v-2h1v2zM160 664v-1h1v1zM161 664v-5h1v5zM162 664v-1h1v1zM163 664v-2h1v2zM166 664v-7h1v7zM167 664v-3h1v3zM168 664v-5h1v5zM169 664v-3h1v3zM170 664v-7h1v7zM171 664v-3h1v3zM172 664v-2h1v2zM173 664v-7h1v7zM174 664v-3h1v3zM175 664v-3h1v3zM176 664v-2h1v2zM177 664v-4h1v4zM178 664v-5h1v5zM179 664v-4h1v4zM180 664v-5h1v5zM181 664v-2h1v2zM182 664v-5h1v5zM183 664v-2h1v2zM184 664v-3h1v3zM185 664v-2h1v2zM186 664v-2h1v2zM187 664v-2h1v2zM188 664v-7h1v7zM189 664v-3h1v3zM190 664v-2h1v2zM191 664v-4h1v4zM192 664v-2h1v2zM193 664v-4h1v4zM194 664v-2h1v2zM195 664v-5h1v5zM196 664v-7h1v7zM197 664v-11h1v11zM198 664v-7h1v7zM199 664v-2h1v2zM200 664v-3h1v3zM201 664v-5h1v5zM202 664v-2h1v2zM203 664v-5h1v5zM204 664v-4h1v4zM205 664v-2h1v2zM206 664v-4h1v4zM207 664v-2h1v2zM208 664v-3h1v3zM209 664v-7h1v7zM210 664v-2h1v2zM211 664v-7h1v7zM212 664v-3h1v3zM213 664v-7h1v7zM214 664v-5h1v5zM215 664v-5h1v5zM216 664v-2h1v2zM217 664v-2h1v2zM218 664v-3h1v3zM219 664v-4h1v4zM220 664v-7h1v7zM221 664v-7h1v7zM222 664v-7h1v7zM223 664v-2h1v2zM224 664v-2h1v2zM225 664v-5h1v5zM226 664v-3h1v3zM227 664v-3h1v3zM228 664v-2h1v2zM229 664v-3h1v3zM230 664v-2h1v2zM231 664v-3h1v3zM232 664v-2h1v2zM233 664v-7h1v7zM234 664v-4h1v4zM235 664v-5h1v5zM236 664v-2h1v2zM237 664v-2h1v2zM238 664v-3h1v3zM239 664v-4h1v4zM240 664v-2h1v2zM241 664v-2h1v2zM242 664v-10h1v10zM243 664v-2h1v2zM244 664v-2h1v2zM245 664v-2h1v2zM246 664v-3h1v3zM247 664v-2h1v2zM248 664v-2h1v2zM249 664v-5h1v5zM250 664v-10h1v10zM251 664v-2h1v2zM252 664v-5h1v5zM253 664v-5h1v5zM254 664v-3h1v3zM255 664v-3h1v3zM256 664v-2h1v2zM260 664v-2h1v2zM261 664v-4h1v4zM262 664v-5h1v5zM263 664v-1h1v1zM264 664v-1h1v1zM265 664v-3h1v3zM266 664v-3h1v3zM267 664v-3h1v3zM268 664v-1h1v1zM269 664v-1h1v1zM270 664v-2h1v2zM274 664v-1h1v1zM275 664v-3h1v3zM276 664v-5h1v5zM277 664v-2h1v2zM278 664v-3h1v3zM279 664v-2h1v2zM280 664v-3h1v3zM281 664v-1h1v1zM282 664v-2h1v2zM283 664v-1h1v1zM284 664v-1h1v1zM285 664v-3h1v3zM286 664v-1h1v1zM287 664v-1h1v1zM288 664v-1h1v1zM289 664v-4h1v4zM290 664v-3h1v3zM291 664v-3h1v3zM292 664v-3h1v3zM293 664v-2h1v2zM294 664v-4h1v4zM295 664v-1h1v1zM296 664v-4h1v4zM297 664v-2h1v2zM298 664v-1h1v1zM299 664v-1h1v1zM300 664v-1h1v1zM301 664v-3h1v3zM302 664v-1h1v1zM303 664v-2h1v2zM304 664v-2h1v2zM305 664v-1h1v1zM306 664v-2h1v2zM307 664v-1h1v1zM308 664v-1h1v1zM309 664v-8h1v8zM310 664v-2h1v2zM311 664v-2h1v2zM312 664v-3h1v3zM313 664v-2h1v2zM314 664v-4h1v4zM315 664v-3h1v3zM316 664v-2h1v2zM317 664v-1h1v1zM318 664v-3h1v3zM319 664v-4h1v4zM320 664v-1h1v1zM321 664v-1h1v1zM322 664v-5h1v5zM323 664v-1h1v1zM324 664v-1h1v1zM325 664v-2h1v2zM326 664v-1h1v1zM327 664v-1h1v1zM328 664v-2h1v2zM329 664v-1h1v1zM330 664v-2h1v2zM331 664v-1h1v1zM332 664v-8h1v8zM333 664v-2h1v2zM334 664v-1h1v1zM335 664v-1h1v1zM336 664v-4h1v4zM337 664v-4h1v4zM338 664v-3h1v3zM339 664v-1h1v1zM340 664v-3h1v3zM341 664v-1h1v1zM342 664v-5h1v5zM343 664v-2h1v2zM344 664v-2h1v2zM345 664v-3h1v3zM346 664v-2h1v2zM347 664v-3h1v3zM348 664v-9h1v9zM349 664v-2h1v2zM350 664v-4h1v4zM351 664v-1h1v1zM352 664v-2h1v2zM353 664v-3h1v3zM354 664v-7h1v7zM355 664v-1h1v1zM356 664v-3h1v3zM357 664v-3h1v3zM358 664v-1h1v1zM361 664v-3h1v3zM362 664v-1h1v1zM363 664v-2h1v2zM364 664v-1h1v1zM365 664v-1h1v1zM366 664v-1h1v1zM367 664v-3h1v3zM368 664v-1h1v1zM369 664v-2h1v2zM370 664v-3h1v3zM371 664v-2h1v2zM372 664v-6h1v6zM373 664v-2h1v2zM374 664v-1h1v1zM375 664v-2h1v2zM376 664v-3h1v3zM377 664v-4h1v4zM378 664v-2h1v2zM379 664v-3h1v3zM380 664v-3h1v3zM381 664v-4h1v4zM382 664v-2h1v2zM383 664v-1h1v1zM384 664v-3h1v3zM385 664v-2h1v2zM386 664v-1h1v1zM387 664v-1h1v1zM388 664v-3h1v3zM389 664v-2h1v2zM390 664v-4h1v4zM391 664v-3h1v3zM394 664v-2h1v2zM395 664v-1h1v1zM396 664v-3h1v3zM397 664v-5h1v5zM398 664v-5h1v5zM399 664v-3h1v3zM400 664v-3h1v3zM401 664v-4h1v4zM402 664v-3h1v3zM403 664v-1h1v1zM404 664v-1h1v1zM405 664v-1h1v1zM406 664v-3h1v3zM407 664v-2h1v2zM408 664v-1h1v1zM409 664v-3h1v3zM410 664v-1h1v1zM411 664v-3h1v3zM412 664v-1h1v1zM413 664v-2h1v2zM414 664v-1h1v1zM415 664v-3h1v3zM416 664v-2h1v2zM417 664v-1h1v1zM418 664v-2h1v2zM419 664v-1h1v1zM420 664v-1h1v1zM421 664v-1h1v1zM422 664v-2h1v2zM423 664v-2h1v2zM424 664v-2h1v2zM425 664v-1h1v1zM426 664v-1h1v1zM427 664v-2h1v2zM428 664v-3h1v3zM429 664v-1h1v1zM430 664v-3h1v3zM431 664v-3h1v3zM432 664v-4h1v4zM433 664v-10h1v10zM434 664v-3h1v3zM435 664v-1h1v1zM436 664v-6h1v6zM437 664v-3h1v3zM438 664v-2h1v2zM439 664v-2h1v2zM440 664v-2h1v2zM441 664v-8h1v8zM442 664v-8h1v8zM443 664v-6h1v6zM444 664v-8h1v8zM445 664v-2h1v2zM446 664v-8h1v8zM447 664v-7h1v7zM448 664v-1h1v1zM449 664v-1h1v1zM450 664v-4h1v4zM451 664v-3h1v3zM452 664v-3h1v3zM453 664v-4h1v4zM454 664v-2h1v2zM455 664v-3h1v3zM456 664v-1h1v1zM457 664v-3h1v3zM458 664v-3h1v3zM459 664v-2h1v2zM460 664v-2h1v2zM461 664v-2h1v2zM462 664v-2h1v2zM463 664v-1h1v1zM464 664v-3h1v3zM465 664v-4h1v4zM466 664v-4h1v4zM467 664v-1h1v1zM468 664v-1h1v1zM469 664v-4h1v4zM470 664v-2h1v2zM471 664v-1h1v1zM472 664v-1h1v1zM473 664v-1h1v1zM474 664v-2h1v2zM475 664v-1h1v1zM476 664v-1h1v1zM477 664v-2h1v2zM478 664v-3h1v3zM479 664v-3h1v3zM480 664v-2h1v2zM481 664v-4h1v4zM482 664v-2h1v2zM483 664v-2h1v2zM484 664v-2h1v2zM485 664v-2h1v2zM486 664v-3h1v3zM487 664v-5h1v5zM488 664v-2h1v2zM489 664v-7h1v7zM490 664v-5h1v5zM491 664v-4h1v4zM492 664v-3h1v3zM493 664v-4h1v4zM494 664v-2h1v2zM495 664v-2h1v2zM496 664v-5h1v5zM497 664v-5h1v5zM498 664v-1h1v1zM501 664v-2h1v2zM502 664v-7h1v7zM503 664v-7h1v7zM504 664v-3h1v3zM505 664v-3h1v3zM506 664v-7h1v7zM507 664v-7h1v7zM508 664v-4h1v4zM509 664v-7h1v7zM510 664v-2h1v2zM511 664v-2h1v2zM512 664v-4h1v4zM513 664v-7h1v7zM514 664v-2h1v2zM515 664v-2h1v2zM516 664v-2h1v2zM517 664v-4h1v4zM518 664v-2h1v2zM519 664v-3h1v3zM520 664v-2h1v2zM521 664v-5h1v5zM522 664v-8h1v8zM523 664v-2h1v2zM524 664v-2h1v2zM525 664v-3h1v3zM526 664v-2h1v2zM527 664v-2h1v2zM528 664v-7h1v7zM529 664v-2h1v2zM530 664v-4h1v4zM531 664v-2h1v2zM532 664v-3h1v3zM533 664v-2h1v2zM534 664v-4h1v4zM535 664v-7h1v7zM536 664v-6h1v6zM537 664v-2h1v2zM538 664v-3h1v3zM539 664v-2h1v2zM540 664v-2h1v2zM541 664v-2h1v2zM542 664v-3h1v3zM543 664v-2h1v2zM544 664v-5h1v5zM545 664v-7h1v7zM546 664v-2h1v2zM547 664v-5h1v5zM548 664v-3h1v3zM549 664v-3h1v3zM550 664v-2h1v2zM551 664v-5h1v5zM552 664v-8h1v8zM553 664v-5h1v5zM554 664v-5h1v5zM555 664v-3h1v3zM559 664v-2h1v2zM560 664v-4h1v4zM561 664v-6h1v6zM562 664v-2h1v2zM563 664v-3h1v3zM564 664v-5h1v5zM565 664v-3h1v3zM566 664v-3h1v3zM567 664v-3h1v3zM568 664v-5h1v5zM569 664v-8h1v8zM570 664v-2h1v2zM571 664v-7h1v7zM572 664v-4h1v4zM573 664v-6h1v6zM574 664v-3h1v3zM575 664v-2h1v2zM576 664v-7h1v7zM577 664v-2h1v2zM578 664v-2h1v2zM579 664v-2h1v2zM580 664v-2h1v2zM581 664v-1h1v1zM585 664v-2h1v2zM586 664v-2h1v2zM587 664v-3h1v3zM588 664v-3h1v3zM589 664v-2h1v2zM590 664v-2h1v2zM591 664v-2h1v2zM592 664v-5h1v5zM593 664v-2h1v2zM594 664v-5h1v5zM595 664v-2h1v2zM596 664v-8h1v8zM597 664v-8h1v8zM598 664v-3h1v3zM599 664v-3h1v3zM600 664v-2h1v2zM601 664v-2h1v2zM602 664v-2h1v2zM603 664v-2h1v2zM604 664v-7h1v7zM605 664v-8h1v8zM606 664v-2h1v2zM607 664v-3h1v3zM608 664v-2h1v2zM609 664v-2h1v2zM610 664v-5h1v5zM611 664v-3h1v3zM612 664v-6h1v6zM613 664v-5h1v5zM614 664v-3h1v3zM615 664v-8h1v8zM616 664v-8h1v8zM617 664v-6h1v6zM618 664v-2h1v2zM619 664v-8h1v8zM620 664v-8h1v8zM621 664v-2h1v2zM622 664v-6h1v6zM623 664v-5h1v5zM624 664v-5h1v5zM625 664v-3h1v3zM626 664v-2h1v2zM627 664v-2h1v2zM628 664v-2h1v2zM629 664v-2h1v2zM630 664v-8h1v8zM631 664v-8h1v8zM632 664v-2h1v2zM633 664v-2h1v2zM634 664v-3h1v3zM635 664v-2h1v2zM636 664v-2h1v2zM637 664v-3h1v3zM638 664v-3h1v3zM639 664v-8h1v8zM640 664v-3h1v3zM641 664v-2h1v2zM642 664v-8h1v8zM643 664v-2h1v2zM644 664v-3h1v3zM645 664v-2h1v2zM646 664v-3h1v3zM647 664v-6h1v6zM648 664v-5h1v5zM649 664v-2h1v2zM650 664v-3h1v3zM651 664v-6h1v6zM652 664v-3h1v3zM653 664v-2h1v2zM654 664v-3h1v3zM655 664v-2h1v2zM656 664v-2h1v2zM659 664v-5h1v5zM660 664v-8h1v8zM661 664v-7h1v7zM662 664v-8h1v8zM663 664v-3h1v3zM664 664v-2h1v2zM665 664v-5h1v5zM666 664v-2h1v2zM667 664v-2h1v2zM668 664v-5h1v5zM669 664v-6h1v6zM670 664v-3h1v3zM671 664v-5h1v5zM672 664v-3h1v3zM673 664v-8h1v8zM674 664v-2h1v2zM675 664v-6h1v6zM676 664v-2h1v2zM677 664v-3h1v3zM678 664v-8h1v8zM679 664v-2h1v2zM680 664v-2h1v2zM713 664v-1h1v1zM714 664v-1h1v1zM715 664v-1h1v1zM716 664v-1h1v1zM717 664v-1h1v1zM720 664v-6h1v6zM721 664v-6h1v6zM722 664v-2h1v2zM723 664v-3h1v3zM724 664v-6h1v6zM725 664v-6h1v6zM726 664v-2h1v2zM727 664v-9h1v9zM728 664v-3h1v3zM729 664v-3h1v3zM730 664v-3h1v3zM731 664v-2h1v2zM732 664v-6h1v6zM733 664v-2h1v2zM734 664v-9h1v9zM735 664v-9h1v9zM736 664v-6h1v6zM737 664v-2h1v2zM738 664v-6h1v6zM739 664v-3h1v3zM740 664v-2h1v2zM741 664v-3h1v3zM742 664v-2h1v2zM743 664v-2h1v2zM744 664v-2h1v2zM745 664v-2h1v2zM746 664v-12h1v12zM747 664v-2h1v2zM748 664v-2h1v2zM749 664v-2h1v2zM750 664v-3h1v3zM751 664v-9h1v9zM752 664v-3h1v3zM753 664v-2h1v2zM754 664v-9h1v9zM755 664v-9h1v9zM756 664v-2h1v2zM757 664v-5h1v5zM758 664v-2h1v2zM762 664v-1h1v1zM763 664v-3h1v3zM764 664v-2h1v2zM765 664v-1h1v1zM766 664v-1h1v1zM767 664v-1h1v1zM768 664v-1h1v1zM769 664v-3h1v3zM770 664v-3h1v3zM771 664v-3h1v3zM772 664v-2h1v2zM773 664v-2h1v2zM774 664v-1h1v1zM775 664v-1h1v1zM776 664v-2h1v2zM777 664v-7h1v7zM778 664v-1h1v1zM779 664v-2h1v2zM780 664v-5h1v5zM781 664v-1h1v1zM782 664v-3h1v3zM783 664v-3h1v3zM784 664v-2h1v2zM785 664v-2h1v2zM786 664v-1h1v1zM787 664v-5h1v5zM788 664v-1h1v1zM789 664v-3h1v3zM790 664v-2h1v2zM791 664v-2h1v2zM792 664v-3h1v3zM793 664v-1h1v1zM794 664v-1h1v1zM795 664v-2h1v2zM796 664v-5h1v5zM797 664v-3h1v3zM798 664v-3h1v3zM799 664v-3h1v3zM800 664v-1h1v1zM801 664v-3h1v3zM802 664v-1h1v1zM805 664v-2h1v2zM806 664v-1h1v1zM807 664v-1h1v1zM808 664v-2h1v2zM809 664v-3h1v3zM810 664v-3h1v3zM811 664v-2h1v2zM812 664v-1h1v1zM813 664v-3h1v3zM814 664v-1h1v1zM815 664v-2h1v2zM816 664v-2h1v2zM817 664v-5h1v5zM818 664v-1h1v1zM819 664v-1h1v1zM820 664v-2h1v2zM821 664v-5h1v5zM822 664v-1h1v1zM823 664v-8h1v8zM824 664v-5h1v5zM825 664v-1h1v1zM826 664v-1h1v1zM830 664v-1h1v1zM831 664v-1h1v1zM832 664v-3h1v3zM833 664v-3h1v3zM834 664v-3h1v3zM835 664v-3h1v3zM836 664v-5h1v5zM837 664v-1h1v1zM838 664v-5h1v5zM839 664v-3h1v3zM840 664v-2h1v2zM841 664v-2h1v2zM842 664v-1h1v1zM843 664v-1h1v1zM844 664v-1h1v1zM845 664v-3h1v3zM846 664v-5h1v5zM847 664v-1h1v1zM848 664v-1h1v1zM849 664v-2h1v2zM850 664v-1h1v1zM851 664v-1h1v1zM852 664v-9h1v9zM853 664v-5h1v5zM854 664v-1h1v1zM855 664v-1h1v1zM856 664v-3h1v3zM857 664v-3h1v3zM858 664v-1h1v1zM859 664v-1h1v1zM860 664v-3h1v3zM861 664v-1h1v1zM862 664v-2h1v2zM863 664v-2h1v2zM864 664v-20h1v20zM865 664v-3h1v3zM866 664v-5h1v5zM867 664v-5h1v5zM868 664v-4h1v4zM869 664v-1h1v1zM870 664v-5h1v5zM871 664v-2h1v2zM872 664v-1h1v1zM873 664v-5h1v5zM874 664v-1h1v1zM875 664v-3h1v3zM876 664v-1h1v1zM880 664v-5h1v5zM881 664v-1h1v1zM882 664v-1h1v1zM883 664v-5h1v5zM884 664v-5h1v5zM885 664v-5h1v5zM886 664v-2h1v2zM887 664v-2h1v2zM888 664v-1h1v1zM889 664v-5h1v5zM890 664v-3h1v3zM891 664v-1h1v1zM892 664v-1h1v1zM893 664v-5h1v5zM894 664v-2h1v2zM895 664v-2h1v2zM896 664v-5h1v5zM897 664v-1h1v1zM898 664v-1h1v1zM899 664v-1h1v1zM900 664v-1h1v1zM901 664v-2h1v2zM902 664v-3h1v3zM903 664v-1h1v1zM904 664v-2h1v2zM908 664v-2h1v2zM909 664v-1h1v1zM910 664v-2h1v2zM911 664v-2h1v2zM912 664v-2h1v2zM913 664v-1h1v1zM914 664v-8h1v8zM915 664v-2h1v2zM916 664v-1h1v1zM917 664v-1h1v1zM918 664v-2h1v2zM919 664v-2h1v2zM920 664v-2h1v2zM921 664v-1h1v1zM922 664v-1h1v1zM923 664v-1h1v1zM924 664v-1h1v1zM925 664v-2h1v2zM926 664v-5h1v5zM927 664v-5h1v5zM928 664v-1h1v1zM929 664v-3h1v3zM930 664v-3h1v3zM931 664v-5h1v5zM932 664v-5h1v5zM933 664v-1h1v1zM934 664v-1h1v1zM935 664v-3h1v3zM936 664v-3h1v3zM937 664v-1h1v1zM938 664v-1h1v1zM939 664v-5h1v5zM940 664v-3h1v3zM941 664v-2h1v2zM942 664v-3h1v3zM943 664v-1h1v1zM944 664v-5h1v5zM945 664v-2h1v2zM946 664v-5h1v5zM947 664v-2h1v2zM948 664v-1h1v1zM949 664v-3h1v3z" fill="#3d8241" shape-rendering="crispEdges"/>
<path d="M118 718v-1h1v1zM119 718v-1h1v1zM120 718v-3h1v3zM121 718v-2h1v2zM122 718v-1h1v1zM123 718v-5h1v5zM124 718v-3h1v3zM125 718v-3h1v3zM126 718v-4h1v4zM127 718v-3h1v3zM131 718v-5h1v5zM132 718v-4h1v4zM133 718v-4h1v4zM134 718v-3h1v3zM135 718v-3h1v3zM136 718v-5h1v5zM137 718v-1h1v1zM138 718v-5h1v5zM139 718v-3h1v3zM140 718v-3h1v3zM141 718v-1h1v1zM142 718v-9h1v9zM143 718v-4h1v4zM144 718v-6h1v6zM145 718v-3h1v3zM146 718v-6h1v6zM147 718v-6h1v6zM148 718v-3h1v3zM149 718v-4h1v4zM150 718v-1h1v1zM151 718v-6h1v6zM152 718v-2h1v2zM153 718v-2h1v2zM154 718v-2h1v2zM155 718v-5h1v5zM156 718v-2h1v2zM157 718v-3h1v3zM158 718v-6h1v6zM159 718v-3h1v3zM160 718v-1h1v1zM161 718v-8h1v8zM162 718v-1h1v1zM163 718v-2h1v2zM166 718v-9h1v9zM167 718v-4h1v4zM168 718v-6h1v6zM169 718v-4h1v4zM170 718v-9h1v9zM171 718v-4h1v4zM172 718v-3h1v3zM173 718v-9h1v9zM174 718v-4h1v4zM175 718v-4h1v4zM176 718v-3h1v3zM177 718v-6h1v6zM178 718v-6h1v6zM179 718v-6h1v6zM180 718v-6h1v6zM181 718v-2h1v2zM182 718v-7h1v7zM183 718v-3h1v3zM184 718v-4h1v4zM185 718v-3h1v3zM186 718v-3h1v3zM187 718v-3h1v3zM188 718v-8h1v8zM189 718v-4h1v4zM190 718v-2h1v2zM191 718v-6h1v6zM192 718v-3h1v3zM193 718v-6h1v6zM194 718v-3h1v3zM195 718v-6h1v6zM196 718v-9h1v9zM197 718v-13h1v13zM198 718v-9h1v9zM199 718v-2h1v2zM200 718v-4h1v4zM201 718v-6h1v6zM202 718v-3h1v3zM203 718v-6h1v6zM204 718v-6h1v6zM205 718v-3h1v3zM206 718v-6h1v6zM207 718v-3h1v3zM208 718v-4h1v4zM209 718v-9h1v9zM210 718v-3h1v3zM211 718v-10h1v10zM212 718v-4h1v4zM213 718v-9h1v9zM214 718v-6h1v6zM215 718v-6h1v6zM216 718v-3h1v3zM217 718v-2h1v2zM218 718v-4h1v4zM219 718v-6h1v6zM220 718v-9h1v9zM221 718v-10h1v10zM222 718v-9h1v9zM223 718v-3h1v3zM224 718v-3h1v3zM225 718v-6h1v6zM226 718v-4h1v4zM227 718v-4h1v4zM228 718v-3h1v3zM229 718v-4h1v4zM230 718v-2h1v2zM231 718v-4h1v4zM232 718v-3h1v3zM233 718v-10h1v10zM234 718v-6h1v6zM235 718v-7h1v7zM236 718v-3h1v3zM237 718v-3h1v3zM238 718v-4h1v4zM239 718v-6h1v6zM240 718v-2h1v2zM241 718v-2h1v2zM242 718v-14h1v14zM243 718v-3h1v3zM244 718v-3h1v3zM245 718v-3h1v3zM246 718v-4h1v4zM247 718v-3h1v3zM248 718v-3h1v3zM249 718v-6h1v6zM250 718v-12h1v12zM251 718v-3h1v3zM252 718v-6h1v6zM253 718v-6h1v6zM254 718v-4h1v4zM255 718v-4h1v4zM256 718v-3h1v3zM260 718v-3h1v3zM261 718v-6h1v6zM262 718v-6h1v6zM263 718v-1h1v1zM264 718v-2h1v2zM265 718v-4h1v4zM266 718v-4h1v4zM267 718v-4h1v4zM268 718v-1h1v1zM269 718v-1h1v1zM270 718v-3h1v3zM274 718v-2h1v2zM275 718v-4h1v4zM276 718v-6h1v6zM277 718v-3h1v3zM278 718v-4h1v4zM279 718v-3h1v3zM280 718v-4h1v4zM281 718v-1h1v1zM282 718v-3h1v3zM283 718v-1h1v1zM284 718v-1h1v1zM285 718v-4h1v4zM286 718v-1h1v1zM287 718v-1h1v1zM288 718v-1h1v1zM289 718v-6h1v6zM290 718v-4h1v4zM291 718v-4h1v4zM292 718v-8h1v8zM293 718v-3h1v3zM294 718v-6h1v6zM295 718v-2h1v2zM296 718v-6h1v6zM297 718v-3h1v3zM298 718v-1h1v1zM299 718v-1h1v1zM300 718v-1h1v1zM301 718v-4h1v4zM302 718v-2h1v2zM303 718v-3h1v3zM304 718v-3h1v3zM305 718v-1h1v1zM306 718v-3h1v3zM307 718v-1h1v1zM308 718v-2h1v2zM309 718v-8h1v8zM310 718v-3h1v3zM311 718v-3h1v3zM312 718v-4h1v4zM313 718v-3h1v3zM314 718v-6h1v6zM315 718v-4h1v4zM316 718v-2h1v2zM317 718v-2h1v2zM318 718v-4h1v4zM319 718v-6h1v6zM320 718v-1h1v1zM321 718v-2h1v2zM322 718v-6h1v6zM323 718v-2h1v2zM324 718v-1h1v1zM325 718v-3h1v3zM326 718v-2h1v2zM327 718v-1h1v1zM328 718v-3h1v3zM329 718v-1h1v1zM330 718v-3h1v3zM331 718v-1h1v1zM332 718v-11h1v11zM333 718v-2h1v2zM334 718v-1h1v1zM335 718v-2h1v2zM336 718v-6h1v6zM337 718v-6h1v6zM338 718v-4h1v4zM339 718v-1h1v1zM340 718v-4h1v4zM341 718v-2h1v2zM342 718v-6h1v6zM343 718v-2h1v2zM344 718v-3h1v3zM345 718v-4h1v4zM346 718v-2h1v2zM347 718v-4h1v4zM348 718v-9h1v9zM349 718v-3h1v3zM350 718v-6h1v6zM351 718v-2h1v2zM352 718v-3h1v3zM353 718v-4h1v4zM354 718v-9h1v9zM355 718v-2h1v2zM356 718v-4h1v4zM357 718v-4h1v4zM358 718v-1h1v1zM361 718v-4h1v4zM362 718v-1h1v1zM363 718v-3h1v3zM364 718v-2h1v2zM365 718v-1h1v1zM366 718v-1h1v1zM367 718v-4h1v4zM368 718v-1h1v1zM369 718v-3h1v3zM370 718v-4h1v4zM371 718v-2h1v2zM372 718v-8h1v8zM373 718v-3h1v3zM374 718v-1h1v1zM375 718v-3h1v3zM376 718v-4h1v4zM377 718v-6h1v6zM378 718v-3h1v3zM379 718v-4h1v4zM380 718v-4h1v4zM381 718v-6h1v6zM382 718v-3h1v3zM383 718v-2h1v2zM384 718v-4h1v4zM385 718v-3h1v3zM386 718v-1h1v1zM387 718v-1h1v1zM388 718v-4h1v4zM389 718v-3h1v3zM390 718v-6h1v6zM391 718v-4h1v4zM394 718v-3h1v3zM395 718v-2h1v2zM396 718v-3h1v3zM397 718v-6h1v6zM398 718v-6h1v6zM399 718v-4h1v4zM400 718v-4h1v4zM401 718v-6h1v6zM402 718v-4h1v4zM403 718v-1h1v1zM404 718v-1h1v1zM405 718v-1h1v1zM406 718v-4h1v4zM407 718v-3h1v3zM408 718v-1h1v1zM409 718v-4h1v4zM410 718v-2h1v2zM411 718v-4h1v4zM412 718v-1h1v1zM413 718v-2h1v2zM414 718v-1h1v1zM415 718v-3h1v3zM416 718v-2h1v2zM417 718v-1h1v1zM418 718v-2h1v2zM419 718v-1h1v1zM420 718v-1h1v1zM421 718v-1h1v1zM422 718v-3h1v3zM423 718v-3h1v3zM424 718v-3h1v3zM425 718v-2h1v2zM426 718v-1h1v1zM427 718v-2h1v2zM428 718v-4h1v4zM429 718v-1h1v1zM430 718v-4h1v4zM431 718v-4h1v4zM432 718v-6h1v6zM433 718v-10h1v10zM434 718v-4h1v4zM435 718v-1h1v1zM436 718v-7h1v7zM437 718v-4h1v4zM438 718v-2h1v2zM439 718v-2h1v2zM440 718v-3h1v3zM441 718v-11h1v11zM442 718v-11h1v11zM443 718v-7h1v7zM444 718v-10h1v10zM445 718v-3h1v3zM446 718v-10h1v10zM447 718v-9h1v9zM448 718v-1h1v1zM449 718v-1h1v1zM450 718v-5h1v5zM451 718v-4h1v4zM452 718v-4h1v4zM453 718v-6h1v6zM454 718v-2h1v2zM455 718v-4h1v4zM456 718v-1h1v1zM457 718v-4h1v4zM458 718v-4h1v4zM459 718v-2h1v2zM460 718v-3h1v3zM461 718v-3h1v3zM462 718v-3h1v3zM463 718v-2h1v2zM464 718v-4h1v4zM465 718v-6h1v6zM466 718v-6h1v6zM467 718v-1h1v1zM468 718v-1h1v1zM469 718v-5h1v5zM470 718v-2h1v2zM471 718v-1h1v1zM472 718v-1h1v1zM473 718v-1h1v1zM474 718v-2h1v2zM475 718v-2h1v2zM476 718v-1h1v1zM477 718v-3h1v3zM478 718v-4h1v4zM479 718v-4h1v4zM480 718v-2h1v2zM481 718v-6h1v6zM482 718v-3h1v3zM483 718v-3h1v3zM484 718v-3h1v3zM485 718v-3h1v3zM486 718v-4h1v4zM487 718v-7h1v7zM488 718v-3h1v3zM489 718v-9h1v9zM490 718v-6h1v6zM491 718v-6h1v6zM492 718v-4h1v4zM493 718v-6h1v6zM494 718v-3h1v3zM495 718v-3h1v3zM496 718v-6h1v6zM497 718v-6h1v6zM498 718v-1h1v1zM501 718v-2h1v2zM502 718v-9h1v9zM503 718v-9h1v9zM504 718v-4h1v4zM505 718v-4h1v4zM506 718v-9h1v9zM507 718v-9h1v9zM508 718v-6h1v6zM509 718v-9h1v9zM510 718v-3h1v3zM511 718v-2h1v2zM512 718v-6h1v6zM513 718v-9h1v9zM514 718v-3h1v3zM515 718v-3h1v3zM516 718v-3h1v3zM517 718v-6h1v6zM518 718v-3h1v3zM519 718v-4h1v4zM520 718v-3h1v3zM521 718v-6h1v6zM522 718v-10h1v10zM523 718v-2h1v2zM524 718v-3h1v3zM525 718v-4h1v4zM526 718v-3h1v3zM527 718v-3h1v3zM528 718v-9h1v9zM529 718v-2h1v2zM530 718v-6h1v6zM531 718v-3h1v3zM532 718v-4h1v4zM533 718v-2h1v2zM534 718v-6h1v6zM535 718v-9h1v9zM536 718v-8h1v8zM537 718v-2h1v2zM538 718v-4h1v4zM539 718v-3h1v3zM540 718v-3h1v3zM541 718v-3h1v3zM542 718v-4h1v4zM543 718v-3h1v3zM544 718v-6h1v6zM545 718v-9h1v9zM546 718v-2h1v2zM547 718v-6h1v6zM548 718v-4h1v4zM549 718v-4h1v4zM550 718v-2h1v2zM551 718v-6h1v6zM552 718v-10h1v10zM553 718v-6h1v6zM554 718v-6h1v6zM555 718v-4h1v4zM559 718v-3h1v3zM560 718v-6h1v6zM561 718v-9h1v9zM562 718v-3h1v3zM563 718v-4h1v4zM564 718v-6h1v6zM565 718v-4h1v4zM566 718v-4h1v4zM567 718v-4h1v4zM568 718v-6h1v6zM569 718v-9h1v9zM570 718v-3h1v3zM571 718v-9h1v9zM572 718v-6h1v6zM573 718v-9h1v9zM574 718v-4h1v4zM575 718v-3h1v3zM576 718v-9h1v9zM577 718v-3h1v3zM578 718v-2h1v2zM579 718v-3h1v3zM580 718v-2h1v2zM581 718v-1h1v1zM585 718v-3h1v3zM586 718v-3h1v3zM587 718v-4h1v4zM588 718v-4h1v4zM589 718v-3h1v3zM590 718v-3h1v3zM591 718v-3h1v3zM592 718v-7h1v7zM593 718v-2h1v2zM594 718v-7h1v7zM595 718v-3h1v3zM596 718v-10h1v10zM597 718v-11h1v11zM598 718v-4h1v4zM599 718v-4h1v4zM600 718v-2h1v2zM601 718v-2h1v2zM602 718v-3h1v3zM603 718v-2h1v2zM604 718v-9h1v9zM605 718v-11h1v11zM606 718v-3h1v3zM607 718v-4h1v4zM608 718v-2h1v2zM609 718v-3h1v3zM610 718v-7h1v7zM611 718v-4h1v4zM612 718v-8h1v8zM613 718v-7h1v7zM614 718v-4h1v4zM615 718v-10h1v10zM616 718v-11h1v11zM617 718v-8h1v8zM618 718v-2h1v2zM619 718v-11h1v11zM620 718v-10h1v10zM621 718v-3h1v3zM622 718v-7h1v7zM623 718v-7h1v7zM624 718v-7h1v7zM625 718v-4h1v4zM626 718v-3h1v3zM627 718v-3h1v3zM628 718v-3h1v3zM629 718v-3h1v3zM630 718v-11h1v11zM631 718v-11h1v11zM632 718v-3h1v3zM633 718v-2h1v2zM634 718v-4h1v4zM635 718v-3h1v3zM636 718v-3h1v3zM637 718v-4h1v4zM638 718v-4h1v4zM639 718v-11h1v11zM640 718v-4h1v4zM641 718v-3h1v3zM642 718v-11h1v11zM643 718v-3h1v3zM644 718v-4h1v4zM645 718v-2h1v2zM646 718v-4h1v4zM647 718v-8h1v8zM648 718v-7h1v7zM649 718v-3h1v3zM650 718v-4h1v4zM651 718v-7h1v7zM652 718v-4h1v4zM653 718v-3h1v3zM654 718v-4h1v4zM655 718v-3h1v3zM656 718v-2h1v2zM659 718v-7h1v7zM660 718v-11h1v11zM661 718v-9h1v9zM662 718v-11h1v11zM663 718v-4h1v4zM664 718v-2h1v2zM665 718v-7h1v7zM666 718v-2h1v2zM667 718v-2h1v2zM668 718v-7h1v7zM669 718v-8h1v8zM670 718v-4h1v4zM671 718v-7h1v7zM672 718v-4h1v4zM673 718v-11h1v11zM674 718v-3h1v3zM675 718v-7h1v7zM676 718v-2h1v2zM677 718v-4h1v4zM678 718v-11h1v11zM679 718v-3h1v3zM680 718v-3h1v3zM713 718v-1h1v1zM714 718v-1h1v1zM715 718v-1h1v1zM716 718v-1h1v1zM717 718v-1h1v1zM720 718v-8h1v8zM721 718v-8h1v8zM722 718v-3h1v3zM723 718v-4h1v4zM724 718v-8h1v8zM725 718v-8h1v8zM726 718v-3h1v3zM727 718v-12h1v12zM728 718v-4h1v4zM729 718v-4h1v4zM730 718v-4h1v4zM731 718v-2h1v2zM732 718v-8h1v8zM733 718v-3h1v3zM734 718v-10h1v10zM735 718v-12h1v12zM736 718v-8h1v8zM737 718v-3h1v3zM738 718v-8h1v8zM739 718v-4h1v4zM740 718v-3h1v3zM741 718v-9h1v9zM742 718v-3h1v3zM743 718v-3h1v3zM744 718v-3h1v3zM745 718v-3h1v3zM746 718v-9h1v9zM747 718v-3h1v3zM748 718v-3h1v3zM749 718v-2h1v2zM750 718v-4h1v4zM751 718v-12h1v12zM752 718v-4h1v4zM753 718v-3h1v3zM754 718v-12h1v12zM755 718v-12h1v12zM756 718v-3h1v3zM757 718v-7h1v7zM758 718v-3h1v3zM762 718v-2h1v2zM763 718v-4h1v4zM764 718v-3h1v3zM765 718v-2h1v2zM766 718v-1h1v1zM767 718v-1h1v1zM768 718v-2h1v2zM769 718v-4h1v4zM770 718v-4h1v4zM771 718v-4h1v4zM772 718v-3h1v3zM773 718v-2h1v2zM774 718v-1h1v1zM775 718v-2h1v2zM776 718v-3h1v3zM777 718v-9h1v9zM778 718v-1h1v1zM779 718v-3h1v3zM780 718v-7h1v7zM781 718v-2h1v2zM782 718v-4h1v4zM783 718v-4h1v4zM784 718v-3h1v3zM785 718v-2h1v2zM786 718v-1h1v1zM787 718v-7h1v7zM788 718v-1h1v1zM789 718v-4h1v4zM790 718v-3h1v3zM791 718v-3h1v3zM792 718v-4h1v4zM793 718v-2h1v2zM794 718v-1h1v1zM795 718v-3h1v3zM796 718v-7h1v7zM797 718v-4h1v4zM798 718v-4h1v4zM799 718v-4h1v4zM800 718v-1h1v1zM801 718v-4h1v4zM802 718v-1h1v1zM805 718v-3h1v3zM806 718v-1h1v1zM807 718v-1h1v1zM808 718v-3h1v3zM809 718v-4h1v4zM810 718v-5h1v5zM811 718v-3h1v3zM812 718v-1h1v1zM813 718v-4h1v4zM814 718v-2h1v2zM815 718v-3h1v3zM816 718v-2h1v2zM817 718v-7h1v7zM818 718v-2h1v2zM819 718v-1h1v1zM820 718v-2h1v2zM821 718v-7h1v7zM822 718v-1h1v1zM823 718v-9h1v9zM824 718v-7h1v7zM825 718v-1h1v1zM826 718v-1h1v1zM830 718v-2h1v2zM831 718v-1h1v1zM832 718v-4h1v4zM833 718v-4h1v4zM834 718v-4h1v4zM835 718v-4h1v4zM836 718v-7h1v7zM837 718v-1h1v1zM838 718v-7h1v7zM839 718v-4h1v4zM840 718v-3h1v3zM841 718v-2h1v2zM842 718v-2h1v2zM843 718v-1h1v1zM844 718v-1h1v1zM845 718v-5h1v5zM846 718v-7h1v7zM847 718v-1h1v1zM848 718v-1h1v1zM849 718v-3h1v3zM850 718v-1h1v1zM851 718v-1h1v1zM852 718v-13h1v13zM853 718v-7h1v7zM854 718v-1h1v1zM855 718v-2h1v2zM856 718v-4h1v4zM857 718v-4h1v4zM858 718v-1h1v1zM859 718v-1h1v1zM860 718v-5h1v5zM861 718v-2h1v2zM862 718v-3h1v3zM863 718v-3h1v3zM864 718v-21h1v21zM865 718v-4h1v4zM866 718v-7h1v7zM867 718v-7h1v7zM868 718v-5h1v5zM869 718v-2h1v2zM870 718v-7h1v7zM871 718v-3h1v3zM872 718v-2h1v2zM873 718v-7h1v7zM874 718v-1h1v1zM875 718v-4h1v4zM876 718v-1h1v1zM880 718v-7h1v7zM881 718v-2h1v2zM882 718v-1h1v1zM883 718v-7h1v7zM884 718v-7h1v7zM885 718v-8h1v8zM886 718v-3h1v3zM887 718v-3h1v3zM888 718v-2h1v2zM889 718v-7h1v7zM890 718v-4h1v4zM891 718v-1h1v1zM892 718v-2h1v2zM893 718v-7h1v7zM894 718v-2h1v2zM895 718v-2h1v2zM896 718v-7h1v7zM897 718v-2h1v2zM898 718v-2h1v2zM899 718v-1h1v1zM900 718v-2h1v2zM901 718v-3h1v3zM902 718v-4h1v4zM903 718v-1h1v1zM904 718v-2h1v2zM908 718v-3h1v3zM909 718v-1h1v1zM910 718v-3h1v3zM911 718v-3h1v3zM912 718v-2h1v2zM913 718v-2h1v2zM914 718v-10h1v10zM915 718v-3h1v3zM916 718v-1h1v1zM917 718v-1h1v1zM918 718v-3h1v3zM919 718v-3h1v3zM920 718v-3h1v3zM921 718v-2h1v2zM922 718v-2h1v2zM923 718v-2h1v2zM924 718v-1h1v1zM925 718v-3h1v3zM926 718v-7h1v7zM927 718v-7h1v7zM928 718v-1h1v1zM929 718v-4h1v4zM930 718v-5h1v5zM931 718v-7h1v7zM932 718v-7h1v7zM933 718v-2h1v2zM934 718v-1h1v1zM935 718v-4h1v4zM936 718v-4h1v4zM937 718v-2h1v2zM938 718v-1h1v1zM939 718v-7h1v7zM940 718v-5h1v5zM941 718v-3h1v3zM942 718v-4h1v4zM943 718v-1h1v1zM944 718v-7h1v7zM945 718v-2h1v2zM946 718v-7h1v7zM947 718v-3h1v3zM948 718v-2h1v2zM949 718v-5h1v5z" fill="#3d8241" shape-rendering="crispEdges"/>
<path d="M118 766h832v6h-832zM118 766v-2h1v2zM119 766v-2h1v2zM120 766v-2h1v2zM121 766v-3h1v3zM122 766v-2h1v2zM123 766v-3h1v3zM125 766v-2h1v2zM126 766v-3h1v3zM127 766v-2h1v2zM128 766v-3h1v3zM129 766v-1h1v1zM130 766v-2h1v2zM131 766v-1h1v1zM132 766v-2h1v2zM133 766v-2h1v2zM135 766v-1h1v1zM136 766v-1h1v1zM137 766v-3h1v3zM138 766v-2h1v2zM139 766v-1h1v1zM140 766v-2h1v2zM141 766v-1h1v1zM142 766v-2h1v2zM143 766v-1h1v1zM145 766v-3h1v3zM146 766v-1h1v1zM147 766v-1h1v1zM148 766v-5h1v5zM149 766v-1h1v1zM150 766v-5h1v5zM151 766v-2h1v2zM152 766v-1h1v1zM153 766v-3h1v3zM154 766v-2h1v2zM155 766v-5h1v5zM156 766v-1h1v1zM157 766v-1h1v1zM158 766v-1h1v1zM159 766v-1h1v1zM161 766v-1h1v1zM162 766v-2h1v2zM164 766v-2h1v2zM165 766v-1h1v1zM166 766v-1h1v1zM167 766v-2h1v2zM168 766v-2h1v2zM169 766v-1h1v1zM170 766v-2h1v2zM171 766v-2h1v2zM173 766v-4h1v4zM174 766v-2h1v2zM175 766v-2h1v2zM177 766v-2h1v2zM178 766v-1h1v1zM179 766v-2h1v2zM182 766v-1h1v1zM183 766v-4h1v4zM184 766v-2h1v2zM185 766v-3h1v3zM186 766v-3h1v3zM187 766v-1h1v1zM188 766v-1h1v1zM189 766v-2h1v2zM190 766v-2h1v2zM191 766v-1h1v1zM192 766v-2h1v2zM193 766v-2h1v2zM194 766v-3h1v3zM196 766v-3h1v3zM198 766v-1h1v1zM199 766v-2h1v2zM200 766v-3h1v3zM201 766v-1h1v1zM202 766v-3h1v3zM203 766v-2h1v2zM204 766v-1h1v1zM205 766v-1h1v1zM206 766v-1h1v1zM208 766v-1h1v1zM209 766v-2h1v2zM210 766v-4h1v4zM212 766v-5h1v5zM213 766v-1h1v1zM214 766v-1h1v1zM215 766v-2h1v2zM216 766v-2h1v2zM217 766v-2h1v2zM218 766v-1h1v1zM220 766v-3h1v3zM222 766v-2h1v2zM223 766v-2h1v2zM224 766v-1h1v1zM225 766v-2h1v2zM226 766v-3h1v3zM227 766v-2h1v2zM228 766v-2h1v2zM229 766v-1h1v1zM230 766v-1h1v1zM231 766v-1h1v1zM232 766v-2h1v2zM233 766v-1h1v1zM234 766v-2h1v2zM235 766v-5h1v5zM236 766v-4h1v4zM237 766v-2h1v2zM238 766v-2h1v2zM239 766v-2h1v2zM240 766v-1h1v1zM241 766v-1h1v1zM242 766v-1h1v1zM243 766v-1h1v1zM244 766v-5h1v5zM245 766v-2h1v2zM246 766v-2h1v2zM247 766v-1h1v1zM249 766v-1h1v1zM250 766v-2h1v2zM251 766v-3h1v3zM252 766v-1h1v1zM253 766v-2h1v2zM254 766v-2h1v2zM255 766v-2h1v2zM256 766v-2h1v2zM257 766v-2h1v2zM258 766v-1h1v1zM259 766v-2h1v2zM260 766v-1h1v1zM261 766v-2h1v2zM262 766v-2h1v2zM263 766v-2h1v2zM264 766v-1h1v1zM265 766v-3h1v3zM266 766v-2h1v2zM267 766v-2h1v2zM269 766v-2h1v2zM270 766v-1h1v1zM271 766v-2h1v2zM272 766v-2h1v2zM273 766v-2h1v2zM274 766v-2h1v2zM275 766v-2h1v2zM276 766v-1h1v1zM277 766v-2h1v2zM278 766v-2h1v2zM279 766v-2h1v2zM280 766v-1h1v1zM281 766v-2h1v2zM282 766v-3h1v3zM283 766v-2h1v2zM284 766v-5h1v5zM285 766v-2h1v2zM286 766v-2h1v2zM287 766v-1h1v1zM288 766v-2h1v2zM289 766v-3h1v3zM290 766v-2h1v2zM291 766v-2h1v2zM292 766v-2h1v2zM293 766v-2h1v2zM294 766v-1h1v1zM295 766v-2h1v2zM296 766v-2h1v2zM297 766v-2h1v2zM298 766v-1h1v1zM299 766v-2h1v2zM300 766v-2h1v2zM301 766v-2h1v2zM302 766v-2h1v2zM304 766v-1h1v1zM305 766v-1h1v1zM306 766v-2h1v2zM307 766v-1h1v1zM308 766v-6h1v6zM309 766v-2h1v2zM311 766v-2h1v2zM312 766v-1h1v1zM314 766v-1h1v1zM315 766v-1h1v1zM316 766v-1h1v1zM317 766v-1h1v1zM319 766v-2h1v2zM320 766v-1h1v1zM321 766v-2h1v2zM322 766v-2h1v2zM323 766v-1h1v1zM324 766v-3h1v3zM326 766v-1h1v1zM327 766v-1h1v1zM328 766v-1h1v1zM329 766v-1h1v1zM330 766v-2h1v2zM331 766v-1h1v1zM333 766v-2h1v2zM335 766v-2h1v2zM336 766v-1h1v1zM337 766v-2h1v2zM338 766v-5h1v5zM339 766v-1h1v1zM340 766v-2h1v2zM341 766v-2h1v2zM342 766v-1h1v1zM343 766v-1h1v1zM344 766v-2h1v2zM345 766v-2h1v2zM346 766v-5h1v5zM347 766v-2h1v2zM348 766v-1h1v1zM349 766v-3h1v3zM351 766v-1h1v1zM352 766v-2h1v2zM353 766v-2h1v2zM354 766v-1h1v1zM355 766v-2h1v2zM356 766v-3h1v3zM357 766v-1h1v1zM358 766v-1h1v1zM359 766v-1h1v1zM360 766v-1h1v1zM361 766v-4h1v4zM362 766v-5h1v5zM363 766v-2h1v2zM364 766v-1h1v1zM365 766v-4h1v4zM366 766v-1h1v1zM367 766v-1h1v1zM368 766v-4h1v4zM369 766v-1h1v1zM370 766v-2h1v2zM371 766v-1h1v1zM372 766v-2h1v2zM373 766v-1h1v1zM374 766v-1h1v1zM375 766v-2h1v2zM376 766v-2h1v2zM378 766v-2h1v2zM379 766v-1h1v1zM380 766v-3h1v3zM381 766v-2h1v2zM382 766v-1h1v1zM383 766v-1h1v1zM384 766v-1h1v1zM385 766v-4h1v4zM386 766v-2h1v2zM387 766v-2h1v2zM388 766v-2h1v2zM389 766v-2h1v2zM390 766v-2h1v2zM391 766v-1h1v1zM392 766v-2h1v2zM393 766v-1h1v1zM394 766v-2h1v2zM395 766v-1h1v1zM396 766v-1h1v1zM397 766v-2h1v2zM398 766v-2h1v2zM399 766v-1h1v1zM400 766v-2h1v2zM401 766v-2h1v2zM403 766v-1h1v1zM404 766v-2h1v2zM405 766v-3h1v3zM406 766v-3h1v3zM407 766v-2h1v2zM409 766v-2h1v2zM410 766v-1h1v1zM411 766v-2h1v2zM412 766v-2h1v2zM413 766v-2h1v2zM414 766v-2h1v2zM415 766v-3h1v3zM416 766v-1h1v1zM417 766v-1h1v1zM418 766v-3h1v3zM419 766v-1h1v1zM420 766v-1h1v1zM421 766v-2h1v2zM423 766v-2h1v2zM424 766v-2h1v2zM425 766v-1h1v1zM426 766v-1h1v1zM427 766v-2h1v2zM428 766v-3h1v3zM429 766v-1h1v1zM430 766v-2h1v2zM431 766v-2h1v2zM432 766v-2h1v2zM433 766v-1h1v1zM434 766v-1h1v1zM435 766v-2h1v2zM436 766v-2h1v2zM438 766v-1h1v1zM439 766v-2h1v2zM440 766v-2h1v2zM441 766v-2h1v2zM443 766v-2h1v2zM444 766v-5h1v5zM445 766v-2h1v2zM447 766v-2h1v2zM448 766v-1h1v1zM449 766v-2h1v2zM450 766v-5h1v5zM451 766v-1h1v1zM452 766v-1h1v1zM453 766v-3h1v3zM454 766v-1h1v1zM455 766v-2h1v2zM456 766v-1h1v1zM457 766v-1h1v1zM458 766v-2h1v2zM460 766v-1h1v1zM461 766v-1h1v1zM464 766v-2h1v2zM465 766v-2h1v2zM466 766v-3h1v3zM467 766v-1h1v1zM468 766v-1h1v1zM469 766v-1h1v1zM470 766v-2h1v2zM471 766v-2h1v2zM472 766v-3h1v3zM473 766v-1h1v1zM475 766v-2h1v2zM476 766v-1h1v1zM477 766v-2h1v2zM478 766v-2h1v2zM479 766v-3h1v3zM480 766v-2h1v2zM481 766v-2h1v2zM482 766v-1h1v1zM483 766v-2h1v2zM484 766v-1h1v1zM485 766v-2h1v2zM486 766v-2h1v2zM487 766v-1h1v1zM488 766v-1h1v1zM489 766v-1h1v1zM490 766v-2h1v2zM491 766v-1h1v1zM492 766v-2h1v2zM493 766v-2h1v2zM495 766v-2h1v2zM497 766v-1h1v1zM498 766v-2h1v2zM499 766v-1h1v1zM500 766v-3h1v3zM501 766v-2h1v2zM502 766v-1h1v1zM503 766v-2h1v2zM505 766v-2h1v2zM507 766v-1h1v1zM508 766v-5h1v5zM509 766v-1h1v1zM510 766v-1h1v1zM511 766v-5h1v5zM512 766v-2h1v2zM513 766v-1h1v1zM514 766v-2h1v2zM515 766v-1h1v1zM516 766v-1h1v1zM517 766v-1h1v1zM518 766v-2h1v2zM519 766v-1h1v1zM520 766v-1h1v1zM521 766v-1h1v1zM522 766v-2h1v2zM523 766v-2h1v2zM524 766v-2h1v2zM525 766v-1h1v1zM526 766v-3h1v3zM527 766v-2h1v2zM528 766v-2h1v2zM529 766v-2h1v2zM530 766v-2h1v2zM531 766v-1h1v1zM534 766v-1h1v1zM536 766v-3h1v3zM537 766v-2h1v2zM538 766v-2h1v2zM540 766v-2h1v2zM541 766v-3h1v3zM542 766v-2h1v2zM543 766v-1h1v1zM544 766v-2h1v2zM546 766v-1h1v1zM547 766v-1h1v1zM548 766v-1h1v1zM549 766v-1h1v1zM550 766v-3h1v3zM551 766v-1h1v1zM552 766v-1h1v1zM553 766v-1h1v1zM554 766v-1h1v1zM555 766v-1h1v1zM556 766v-1h1v1zM557 766v-2h1v2zM559 766v-3h1v3zM560 766v-1h1v1zM561 766v-3h1v3zM562 766v-2h1v2zM563 766v-2h1v2zM564 766v-2h1v2zM565 766v-3h1v3zM566 766v-1h1v1zM567 766v-2h1v2zM568 766v-1h1v1zM569 766v-2h1v2zM570 766v-2h1v2zM571 766v-1h1v1zM572 766v-1h1v1zM574 766v-1h1v1zM576 766v-1h1v1zM577 766v-4h1v4zM578 766v-1h1v1zM579 766v-2h1v2zM580 766v-1h1v1zM581 766v-2h1v2zM582 766v-2h1v2zM583 766v-1h1v1zM584 766v-1h1v1zM585 766v-2h1v2zM586 766v-3h1v3zM587 766v-2h1v2zM588 766v-1h1v1zM589 766v-4h1v4zM591 766v-2h1v2zM592 766v-1h1v1zM594 766v-2h1v2zM595 766v-5h1v5zM596 766v-1h1v1zM599 766v-3h1v3zM600 766v-2h1v2zM601 766v-3h1v3zM603 766v-1h1v1zM605 766v-1h1v1zM607 766v-1h1v1zM608 766v-1h1v1zM609 766v-1h1v1zM612 766v-4h1v4zM613 766v-2h1v2zM614 766v-1h1v1zM615 766v-2h1v2zM617 766v-1h1v1zM618 766v-1h1v1zM619 766v-2h1v2zM620 766v-3h1v3zM621 766v-2h1v2zM622 766v-3h1v3zM623 766v-1h1v1zM625 766v-2h1v2zM626 766v-2h1v2zM627 766v-2h1v2zM628 766v-1h1v1zM629 766v-2h1v2zM630 766v-2h1v2zM631 766v-3h1v3zM632 766v-1h1v1zM633 766v-1h1v1zM634 766v-2h1v2zM635 766v-1h1v1zM636 766v-1h1v1zM637 766v-1h1v1zM639 766v-2h1v2zM640 766v-2h1v2zM641 766v-1h1v1zM642 766v-1h1v1zM644 766v-1h1v1zM646 766v-1h1v1zM647 766v-2h1v2zM648 766v-1h1v1zM650 766v-2h1v2zM652 766v-1h1v1zM653 766v-1h1v1zM654 766v-1h1v1zM656 766v-1h1v1zM657 766v-1h1v1zM658 766v-2h1v2zM659 766v-2h1v2zM660 766v-3h1v3zM661 766v-2h1v2zM662 766v-2h1v2zM663 766v-2h1v2zM664 766v-1h1v1zM665 766v-2h1v2zM666 766v-2h1v2zM667 766v-5h1v5zM668 766v-2h1v2zM669 766v-1h1v1zM670 766v-2h1v2zM671 766v-1h1v1zM672 766v-1h1v1zM674 766v-1h1v1zM675 766v-1h1v1zM676 766v-2h1v2zM677 766v-1h1v1zM679 766v-2h1v2zM680 766v-2h1v2zM683 766v-1h1v1zM684 766v-1h1v1zM685 766v-3h1v3zM686 766v-3h1v3zM687 766v-2h1v2zM688 766v-1h1v1zM689 766v-1h1v1zM690 766v-1h1v1zM691 766v-1h1v1zM693 766v-2h1v2zM694 766v-2h1v2zM695 766v-2h1v2zM697 766v-2h1v2zM698 766v-1h1v1zM699 766v-2h1v2zM700 766v-1h1v1zM701 766v-3h1v3zM702 766v-2h1v2zM703 766v-1h1v1zM704 766v-1h1v1zM705 766v-3h1v3zM706 766v-2h1v2zM707 766v-1h1v1zM708 766v-1h1v1zM709 766v-2h1v2zM710 766v-3h1v3zM711 766v-2h1v2zM712 766v-5h1v5zM713 766v-1h1v1zM714 766v-2h1v2zM715 766v-1h1v1zM717 766v-4h1v4zM718 766v-2h1v2zM719 766v-2h1v2zM720 766v-3h1v3zM721 766v-1h1v1zM722 766v-1h1v1zM723 766v-1h1v1zM724 766v-1h1v1zM725 766v-2h1v2zM726 766v-1h1v1zM727 766v-2h1v2zM728 766v-1h1v1zM729 766v-1h1v1zM730 766v-1h1v1zM731 766v-5h1v5zM732 766v-2h1v2zM733 766v-2h1v2zM734 766v-1h1v1zM735 766v-1h1v1zM736 766v-2h1v2zM737 766v-2h1v2zM739 766v-1h1v1zM741 766v-2h1v2zM742 766v-3h1v3zM743 766v-1h1v1zM744 766v-2h1v2zM745 766v-1h1v1zM746 766v-2h1v2zM747 766v-3h1v3zM748 766v-2h1v2zM749 766v-2h1v2zM750 766v-1h1v1zM752 766v-2h1v2zM753 766v-2h1v2zM754 766v-1h1v1zM755 766v-1h1v1zM756 766v-1h1v1zM758 766v-1h1v1zM759 766v-1h1v1zM760 766v-2h1v2zM761 766v-2h1v2zM762 766v-1h1v1zM763 766v-5h1v5zM764 766v-3h1v3zM765 766v-2h1v2zM766 766v-2h1v2zM767 766v-2h1v2zM768 766v-2h1v2zM769 766v-1h1v1zM770 766v-2h1v2zM771 766v-2h1v2zM772 766v-2h1v2zM773 766v-1h1v1zM776 766v-1h1v1zM777 766v-2h1v2zM778 766v-2h1v2zM779 766v-2h1v2zM780 766v-1h1v1zM781 766v-3h1v3zM782 766v-1h1v1zM783 766v-2h1v2zM785 766v-2h1v2zM786 766v-2h1v2zM787 766v-5h1v5zM788 766v-2h1v2zM789 766v-2h1v2zM790 766v-2h1v2zM791 766v-2h1v2zM792 766v-1h1v1zM793 766v-2h1v2zM794 766v-3h1v3zM795 766v-1h1v1zM796 766v-5h1v5zM797 766v-1h1v1zM799 766v-1h1v1zM800 766v-1h1v1zM801 766v-2h1v2zM802 766v-3h1v3zM803 766v-3h1v3zM804 766v-2h1v2zM805 766v-1h1v1zM806 766v-1h1v1zM807 766v-2h1v2zM808 766v-2h1v2zM809 766v-2h1v2zM810 766v-1h1v1zM811 766v-3h1v3zM812 766v-1h1v1zM813 766v-1h1v1zM814 766v-1h1v1zM815 766v-2h1v2zM816 766v-3h1v3zM817 766v-1h1v1zM818 766v-2h1v2zM819 766v-2h1v2zM820 766v-1h1v1zM822 766v-2h1v2zM823 766v-2h1v2zM824 766v-3h1v3zM825 766v-2h1v2zM826 766v-1h1v1zM827 766v-1h1v1zM828 766v-2h1v2zM829 766v-3h1v3zM830 766v-1h1v1zM831 766v-1h1v1zM832 766v-2h1v2zM833 766v-4h1v4zM835 766v-1h1v1zM836 766v-2h1v2zM837 766v-2h1v2zM838 766v-1h1v1zM839 766v-1h1v1zM840 766v-2h1v2zM841 766v-2h1v2zM842 766v-2h1v2zM843 766v-2h1v2zM845 766v-2h1v2zM846 766v-2h1v2zM847 766v-4h1v4zM848 766v-3h1v3zM849 766v-2h1v2zM850 766v-3h1v3zM851 766v-1h1v1zM852 766v-2h1v2zM853 766v-2h1v2zM854 766v-2h1v2zM855 766v-1h1v1zM856 766v-1h1v1zM857 766v-3h1v3zM858 766v-4h1v4zM859 766v-5h1v5zM860 766v-6h1v6zM861 766v-5h1v5zM862 766v-4h1v4zM863 766v-3h1v3zM864 766v-2h1v2zM865 766v-2h1v2zM866 766v-2h1v2zM867 766v-3h1v3zM868 766v-5h1v5zM869 766v-4h1v4zM870 766v-1h1v1zM872 766v-1h1v1zM873 766v-1h1v1zM874 766v-2h1v2zM875 766v-2h1v2zM876 766v-2h1v2zM878 766v-1h1v1zM879 766v-2h1v2zM880 766v-1h1v1zM881 766v-1h1v1zM882 766v-2h1v2zM883 766v-1h1v1zM884 766v-2h1v2zM885 766v-2h1v2zM886 766v-5h1v5zM888 766v-2h1v2zM889 766v-2h1v2zM890 766v-1h1v1zM891 766v-1h1v1zM892 766v-2h1v2zM893 766v-1h1v1zM894 766v-2h1v2zM895 766v-3h1v3zM896 766v-1h1v1zM897 766v-1h1v1zM898 766v-2h1v2zM899 766v-2h1v2zM900 766v-2h1v2zM901 766v-2h1v2zM902 766v-1h1v1zM903 766v-1h1v1zM904 766v-2h1v2zM905 766v-2h1v2zM907 766v-1h1v1zM908 766v-1h1v1zM909 766v-2h1v2zM911 766v-1h1v1zM913 766v-2h1v2zM914 766v-5h1v5zM915 766v-1h1v1zM916 766v-3h1v3zM918 766v-1h1v1zM919 766v-2h1v2zM921 766v-2h1v2zM922 766v-1h1v1zM924 766v-1h1v1zM925 766v-2h1v2zM926 766v-1h1v1zM927 766v-2h1v2zM929 766v-1h1v1zM930 766v-4h1v4zM931 766v-2h1v2zM933 766v-1h1v1zM934 766v-5h1v5zM935 766v-2h1v2zM937 766v-1h1v1zM938 766v-2h1v2zM939 766v-1h1v1zM940 766v-2h1v2zM941 766v-3h1v3zM942 766v-2h1v2zM943 766v-2h1v2zM946 766v-2h1v2zM947 766v-1h1v1zM948 766v-3h1v3zM949 766v-2h1v2z" fill="#3d8241" shape-rendering="crispEdges"/>
</g>
</svg>
</body></html>
